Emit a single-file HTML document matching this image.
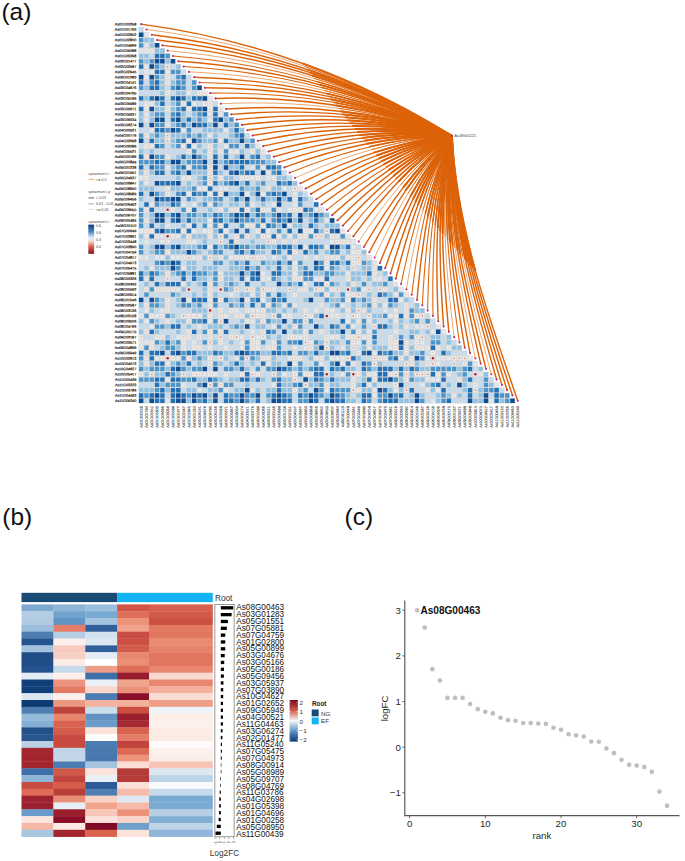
<!DOCTYPE html>
<html><head><meta charset="utf-8"><style>
html,body{margin:0;padding:0;background:#fff;}
body{width:685px;height:861px;overflow:hidden;position:relative;font-family:"Liberation Sans",sans-serif;}
svg{position:absolute;left:0;display:block;}
svg.pa{top:0;}
svg.pb{top:440px;}
.tl{font-size:3.7px;fill:#3a3a3a;}
.tlc{font-size:37px;fill:#444;}
.tlx{font-size:37px;fill:#333;stroke:#333;stroke-width:0.8px;}
.tlb{font-size:37px;fill:#111;stroke:#111;stroke-width:1.8px;}
.lab{font-size:24.5px;fill:#111;}
.t8{font-size:8.3px;fill:#333;}
.t6{font-size:6.2px;fill:#333;}
.t6b{font-size:6.4px;fill:#222;font-weight:bold;}
.t9b{font-size:10.1px;fill:#111;font-weight:bold;}
.tc{font-size:9.7px;fill:#2a2a2a;}
.gl{font-size:8.2px;fill:#111;}
</style></head><body>
<svg class="pa" width="685" height="440" viewBox="0 0 685 440">
<path d="M138.50 26.80h5.30v5.30h-5.30zM138.50 32.11h10.61v5.30h-10.61zM138.50 37.41h15.91v5.30h-15.91zM138.50 42.72h21.22v5.30h-21.22zM138.50 48.02h26.52v5.30h-26.52zM138.50 53.33h31.83v5.30h-31.83zM138.50 58.63h37.13v5.30h-37.13zM138.50 63.94h42.44v5.30h-42.44zM138.50 69.25h47.74v5.30h-47.74zM138.50 74.55h53.05v5.30h-53.05zM138.50 79.85h58.35v5.30h-58.35zM138.50 85.16h63.66v5.30h-63.66zM138.50 90.47h68.97v5.30h-68.97zM138.50 95.77h74.27v5.30h-74.27zM138.50 101.07h79.57v5.30h-79.57zM138.50 106.38h84.88v5.30h-84.88zM138.50 111.69h90.19v5.30h-90.19zM138.50 116.99h95.49v5.30h-95.49zM138.50 122.29h100.79v5.30h-100.79zM138.50 127.60h106.10v5.30h-106.10zM138.50 132.91h111.41v5.30h-111.41zM138.50 138.21h116.71v5.30h-116.71zM138.50 143.51h122.01v5.30h-122.01zM138.50 148.82h127.32v5.30h-127.32zM138.50 154.12h132.62v5.30h-132.62zM138.50 159.43h137.93v5.30h-137.93zM138.50 164.73h143.23v5.30h-143.23zM138.50 170.04h148.54v5.30h-148.54zM138.50 175.34h153.84v5.30h-153.84zM138.50 180.65h159.15v5.30h-159.15zM138.50 185.95h164.45v5.30h-164.45zM138.50 191.26h169.76v5.30h-169.76zM138.50 196.56h175.06v5.30h-175.06zM138.50 201.87h180.37v5.30h-180.37zM138.50 207.17h185.67v5.30h-185.67zM138.50 212.48h190.98v5.30h-190.98zM138.50 217.78h196.28v5.30h-196.28zM138.50 223.09h201.59v5.30h-201.59zM138.50 228.39h206.89v5.30h-206.89zM138.50 233.70h212.20v5.30h-212.20zM138.50 239.00h217.50v5.30h-217.50zM138.50 244.31h222.81v5.30h-222.81zM138.50 249.61h228.11v5.30h-228.11zM138.50 254.92h233.42v5.30h-233.42zM138.50 260.23h238.72v5.30h-238.72zM138.50 265.53h244.03v5.30h-244.03zM138.50 270.83h249.33v5.30h-249.33zM138.50 276.14h254.64v5.30h-254.64zM138.50 281.44h259.94v5.30h-259.94zM138.50 286.75h265.25v5.30h-265.25zM138.50 292.06h270.56v5.30h-270.56zM138.50 297.36h275.86v5.30h-275.86zM138.50 302.66h281.16v5.30h-281.16zM138.50 307.97h286.47v5.30h-286.47zM138.50 313.27h291.77v5.30h-291.77zM138.50 318.58h297.08v5.30h-297.08zM138.50 323.88h302.38v5.30h-302.38zM138.50 329.19h307.69v5.30h-307.69zM138.50 334.50h313.00v5.30h-313.00zM138.50 339.80h318.30v5.30h-318.30zM138.50 345.10h323.60v5.30h-323.60zM138.50 350.41h328.91v5.30h-328.91zM138.50 355.71h334.21v5.30h-334.21zM138.50 361.02h339.52v5.30h-339.52zM138.50 366.32h344.82v5.30h-344.82zM138.50 371.63h350.13v5.30h-350.13zM138.50 376.94h355.44v5.30h-355.44zM138.50 382.24h360.74v5.30h-360.74zM138.50 387.54h366.04v5.30h-366.04zM138.50 392.85h371.35v5.30h-371.35zM138.50 398.15h376.65v5.30h-376.65z" fill="#d6d8da"/>
<path d="M139.10 27.41h4.10v4.10h-4.10zM149.71 53.93h4.10v4.10h-4.10zM170.93 64.54h4.10v4.10h-4.10zM139.10 69.85h4.10v4.10h-4.10zM181.54 69.85h4.10v4.10h-4.10zM170.93 75.15h4.10v4.10h-4.10zM186.85 75.15h4.10v4.10h-4.10zM144.41 80.46h4.10v4.10h-4.10zM186.85 80.46h4.10v4.10h-4.10zM165.63 85.76h4.10v4.10h-4.10zM186.85 85.76h4.10v4.10h-4.10zM139.10 91.07h4.10v4.10h-4.10zM144.41 91.07h4.10v4.10h-4.10zM149.71 91.07h4.10v4.10h-4.10zM155.02 91.07h4.10v4.10h-4.10zM170.93 91.07h4.10v4.10h-4.10zM192.15 91.07h4.10v4.10h-4.10zM165.63 96.37h4.10v4.10h-4.10zM139.10 101.68h4.10v4.10h-4.10zM165.63 101.68h4.10v4.10h-4.10zM197.46 101.68h4.10v4.10h-4.10zM213.37 101.68h4.10v4.10h-4.10zM165.63 112.29h4.10v4.10h-4.10zM186.85 112.29h4.10v4.10h-4.10zM165.63 117.59h4.10v4.10h-4.10zM144.41 122.90h4.10v4.10h-4.10zM218.68 122.90h4.10v4.10h-4.10zM139.10 128.20h4.10v4.10h-4.10zM144.41 128.20h4.10v4.10h-4.10zM192.15 128.20h4.10v4.10h-4.10zM197.46 128.20h4.10v4.10h-4.10zM218.68 133.51h4.10v4.10h-4.10zM223.98 133.51h4.10v4.10h-4.10zM245.20 133.51h4.10v4.10h-4.10zM144.41 138.81h4.10v4.10h-4.10zM139.10 144.12h4.10v4.10h-4.10zM165.63 144.12h4.10v4.10h-4.10zM202.76 144.12h4.10v4.10h-4.10zM218.68 144.12h4.10v4.10h-4.10zM239.90 144.12h4.10v4.10h-4.10zM144.41 149.42h4.10v4.10h-4.10zM155.02 149.42h4.10v4.10h-4.10zM160.32 149.42h4.10v4.10h-4.10zM165.63 149.42h4.10v4.10h-4.10zM170.93 149.42h4.10v4.10h-4.10zM176.24 149.42h4.10v4.10h-4.10zM181.54 149.42h4.10v4.10h-4.10zM197.46 149.42h4.10v4.10h-4.10zM245.20 149.42h4.10v4.10h-4.10zM170.93 154.73h4.10v4.10h-4.10zM218.68 154.73h4.10v4.10h-4.10zM229.29 154.73h4.10v4.10h-4.10zM245.20 154.73h4.10v4.10h-4.10zM261.12 154.73h4.10v4.10h-4.10zM208.07 160.03h4.10v4.10h-4.10zM144.41 165.34h4.10v4.10h-4.10zM218.68 165.34h4.10v4.10h-4.10zM245.20 165.34h4.10v4.10h-4.10zM165.63 170.64h4.10v4.10h-4.10zM223.98 170.64h4.10v4.10h-4.10zM255.81 170.64h4.10v4.10h-4.10zM282.34 170.64h4.10v4.10h-4.10zM149.71 175.95h4.10v4.10h-4.10zM155.02 175.95h4.10v4.10h-4.10zM160.32 175.95h4.10v4.10h-4.10zM165.63 175.95h4.10v4.10h-4.10zM170.93 175.95h4.10v4.10h-4.10zM192.15 175.95h4.10v4.10h-4.10zM234.59 175.95h4.10v4.10h-4.10zM261.12 175.95h4.10v4.10h-4.10zM287.64 175.95h4.10v4.10h-4.10zM149.71 181.25h4.10v4.10h-4.10zM181.54 181.25h4.10v4.10h-4.10zM192.15 181.25h4.10v4.10h-4.10zM250.51 181.25h4.10v4.10h-4.10zM266.42 181.25h4.10v4.10h-4.10zM271.73 181.25h4.10v4.10h-4.10zM155.02 186.56h4.10v4.10h-4.10zM160.32 186.56h4.10v4.10h-4.10zM213.37 186.56h4.10v4.10h-4.10zM229.29 186.56h4.10v4.10h-4.10zM234.59 186.56h4.10v4.10h-4.10zM261.12 186.56h4.10v4.10h-4.10zM287.64 186.56h4.10v4.10h-4.10zM144.41 191.86h4.10v4.10h-4.10zM170.93 191.86h4.10v4.10h-4.10zM287.64 191.86h4.10v4.10h-4.10zM303.56 191.86h4.10v4.10h-4.10zM144.41 197.17h4.10v4.10h-4.10zM149.71 197.17h4.10v4.10h-4.10zM181.54 197.17h4.10v4.10h-4.10zM197.46 197.17h4.10v4.10h-4.10zM223.98 197.17h4.10v4.10h-4.10zM250.51 197.17h4.10v4.10h-4.10zM308.86 197.17h4.10v4.10h-4.10zM139.10 202.47h4.10v4.10h-4.10zM186.85 202.47h4.10v4.10h-4.10zM223.98 202.47h4.10v4.10h-4.10zM239.90 202.47h4.10v4.10h-4.10zM255.81 202.47h4.10v4.10h-4.10zM266.42 202.47h4.10v4.10h-4.10zM282.34 202.47h4.10v4.10h-4.10zM287.64 202.47h4.10v4.10h-4.10zM303.56 202.47h4.10v4.10h-4.10zM308.86 202.47h4.10v4.10h-4.10zM155.02 207.78h4.10v4.10h-4.10zM160.32 207.78h4.10v4.10h-4.10zM176.24 207.78h4.10v4.10h-4.10zM197.46 207.78h4.10v4.10h-4.10zM202.76 207.78h4.10v4.10h-4.10zM213.37 207.78h4.10v4.10h-4.10zM282.34 207.78h4.10v4.10h-4.10zM144.41 213.08h4.10v4.10h-4.10zM292.95 213.08h4.10v4.10h-4.10zM165.63 218.39h4.10v4.10h-4.10zM266.42 218.39h4.10v4.10h-4.10zM303.56 218.39h4.10v4.10h-4.10zM144.41 223.69h4.10v4.10h-4.10zM155.02 223.69h4.10v4.10h-4.10zM170.93 223.69h4.10v4.10h-4.10zM176.24 223.69h4.10v4.10h-4.10zM197.46 223.69h4.10v4.10h-4.10zM229.29 223.69h4.10v4.10h-4.10zM234.59 223.69h4.10v4.10h-4.10zM303.56 223.69h4.10v4.10h-4.10zM319.47 223.69h4.10v4.10h-4.10zM197.46 229.00h4.10v4.10h-4.10zM239.90 229.00h4.10v4.10h-4.10zM250.51 229.00h4.10v4.10h-4.10zM271.73 229.00h4.10v4.10h-4.10zM282.34 229.00h4.10v4.10h-4.10zM292.95 229.00h4.10v4.10h-4.10zM229.29 234.30h4.10v4.10h-4.10zM250.51 234.30h4.10v4.10h-4.10zM139.10 239.61h4.10v4.10h-4.10zM149.71 239.61h4.10v4.10h-4.10zM155.02 239.61h4.10v4.10h-4.10zM170.93 239.61h4.10v4.10h-4.10zM176.24 239.61h4.10v4.10h-4.10zM181.54 239.61h4.10v4.10h-4.10zM197.46 239.61h4.10v4.10h-4.10zM208.07 239.61h4.10v4.10h-4.10zM213.37 239.61h4.10v4.10h-4.10zM223.98 239.61h4.10v4.10h-4.10zM239.90 239.61h4.10v4.10h-4.10zM245.20 239.61h4.10v4.10h-4.10zM255.81 239.61h4.10v4.10h-4.10zM261.12 239.61h4.10v4.10h-4.10zM277.03 239.61h4.10v4.10h-4.10zM287.64 239.61h4.10v4.10h-4.10zM298.25 239.61h4.10v4.10h-4.10zM303.56 239.61h4.10v4.10h-4.10zM308.86 239.61h4.10v4.10h-4.10zM314.17 239.61h4.10v4.10h-4.10zM319.47 239.61h4.10v4.10h-4.10zM324.78 239.61h4.10v4.10h-4.10zM144.41 244.91h4.10v4.10h-4.10zM356.61 244.91h4.10v4.10h-4.10zM144.41 250.22h4.10v4.10h-4.10zM202.76 250.22h4.10v4.10h-4.10zM223.98 250.22h4.10v4.10h-4.10zM229.29 250.22h4.10v4.10h-4.10zM266.42 250.22h4.10v4.10h-4.10zM282.34 250.22h4.10v4.10h-4.10zM298.25 250.22h4.10v4.10h-4.10zM319.47 250.22h4.10v4.10h-4.10zM340.69 250.22h4.10v4.10h-4.10zM149.71 255.52h4.10v4.10h-4.10zM213.37 255.52h4.10v4.10h-4.10zM266.42 255.52h4.10v4.10h-4.10zM277.03 255.52h4.10v4.10h-4.10zM292.95 255.52h4.10v4.10h-4.10zM298.25 255.52h4.10v4.10h-4.10zM308.86 255.52h4.10v4.10h-4.10zM319.47 255.52h4.10v4.10h-4.10zM361.91 255.52h4.10v4.10h-4.10zM139.10 260.83h4.10v4.10h-4.10zM144.41 260.83h4.10v4.10h-4.10zM149.71 260.83h4.10v4.10h-4.10zM181.54 260.83h4.10v4.10h-4.10zM197.46 260.83h4.10v4.10h-4.10zM202.76 260.83h4.10v4.10h-4.10zM208.07 260.83h4.10v4.10h-4.10zM223.98 260.83h4.10v4.10h-4.10zM250.51 260.83h4.10v4.10h-4.10zM255.81 260.83h4.10v4.10h-4.10zM303.56 260.83h4.10v4.10h-4.10zM308.86 260.83h4.10v4.10h-4.10zM139.10 266.13h4.10v4.10h-4.10zM197.46 266.13h4.10v4.10h-4.10zM218.68 266.13h4.10v4.10h-4.10zM223.98 266.13h4.10v4.10h-4.10zM261.12 266.13h4.10v4.10h-4.10zM271.73 266.13h4.10v4.10h-4.10zM282.34 266.13h4.10v4.10h-4.10zM308.86 266.13h4.10v4.10h-4.10zM340.69 266.13h4.10v4.10h-4.10zM356.61 266.13h4.10v4.10h-4.10zM266.42 271.44h4.10v4.10h-4.10zM377.83 271.44h4.10v4.10h-4.10zM155.02 276.74h4.10v4.10h-4.10zM160.32 276.74h4.10v4.10h-4.10zM170.93 276.74h4.10v4.10h-4.10zM176.24 276.74h4.10v4.10h-4.10zM186.85 276.74h4.10v4.10h-4.10zM208.07 276.74h4.10v4.10h-4.10zM234.59 276.74h4.10v4.10h-4.10zM282.34 276.74h4.10v4.10h-4.10zM330.08 276.74h4.10v4.10h-4.10zM335.39 276.74h4.10v4.10h-4.10zM340.69 276.74h4.10v4.10h-4.10zM361.91 276.74h4.10v4.10h-4.10zM383.13 276.74h4.10v4.10h-4.10zM139.10 282.05h4.10v4.10h-4.10zM149.71 282.05h4.10v4.10h-4.10zM192.15 282.05h4.10v4.10h-4.10zM218.68 282.05h4.10v4.10h-4.10zM239.90 282.05h4.10v4.10h-4.10zM250.51 282.05h4.10v4.10h-4.10zM255.81 282.05h4.10v4.10h-4.10zM266.42 282.05h4.10v4.10h-4.10zM271.73 282.05h4.10v4.10h-4.10zM308.86 282.05h4.10v4.10h-4.10zM340.69 282.05h4.10v4.10h-4.10zM356.61 282.05h4.10v4.10h-4.10zM367.22 282.05h4.10v4.10h-4.10zM388.44 282.05h4.10v4.10h-4.10zM139.10 287.35h4.10v4.10h-4.10zM192.15 287.35h4.10v4.10h-4.10zM197.46 287.35h4.10v4.10h-4.10zM213.37 287.35h4.10v4.10h-4.10zM239.90 287.35h4.10v4.10h-4.10zM277.03 287.35h4.10v4.10h-4.10zM282.34 287.35h4.10v4.10h-4.10zM292.95 287.35h4.10v4.10h-4.10zM340.69 287.35h4.10v4.10h-4.10zM372.52 287.35h4.10v4.10h-4.10zM388.44 287.35h4.10v4.10h-4.10zM139.10 292.66h4.10v4.10h-4.10zM149.71 292.66h4.10v4.10h-4.10zM155.02 292.66h4.10v4.10h-4.10zM160.32 292.66h4.10v4.10h-4.10zM165.63 292.66h4.10v4.10h-4.10zM181.54 292.66h4.10v4.10h-4.10zM186.85 292.66h4.10v4.10h-4.10zM197.46 292.66h4.10v4.10h-4.10zM218.68 292.66h4.10v4.10h-4.10zM223.98 292.66h4.10v4.10h-4.10zM234.59 292.66h4.10v4.10h-4.10zM271.73 292.66h4.10v4.10h-4.10zM287.64 292.66h4.10v4.10h-4.10zM298.25 292.66h4.10v4.10h-4.10zM303.56 292.66h4.10v4.10h-4.10zM308.86 292.66h4.10v4.10h-4.10zM335.39 292.66h4.10v4.10h-4.10zM361.91 292.66h4.10v4.10h-4.10zM372.52 292.66h4.10v4.10h-4.10zM144.41 297.96h4.10v4.10h-4.10zM170.93 297.96h4.10v4.10h-4.10zM287.64 297.96h4.10v4.10h-4.10zM292.95 297.96h4.10v4.10h-4.10zM298.25 297.96h4.10v4.10h-4.10zM314.17 297.96h4.10v4.10h-4.10zM319.47 297.96h4.10v4.10h-4.10zM377.83 297.96h4.10v4.10h-4.10zM383.13 297.96h4.10v4.10h-4.10zM409.66 297.96h4.10v4.10h-4.10zM170.93 303.27h4.10v4.10h-4.10zM202.76 303.27h4.10v4.10h-4.10zM218.68 303.27h4.10v4.10h-4.10zM223.98 303.27h4.10v4.10h-4.10zM245.20 303.27h4.10v4.10h-4.10zM255.81 303.27h4.10v4.10h-4.10zM298.25 303.27h4.10v4.10h-4.10zM303.56 303.27h4.10v4.10h-4.10zM308.86 303.27h4.10v4.10h-4.10zM314.17 303.27h4.10v4.10h-4.10zM324.78 303.27h4.10v4.10h-4.10zM346.00 303.27h4.10v4.10h-4.10zM356.61 303.27h4.10v4.10h-4.10zM399.05 303.27h4.10v4.10h-4.10zM409.66 303.27h4.10v4.10h-4.10zM139.10 308.57h4.10v4.10h-4.10zM155.02 308.57h4.10v4.10h-4.10zM170.93 308.57h4.10v4.10h-4.10zM176.24 308.57h4.10v4.10h-4.10zM181.54 308.57h4.10v4.10h-4.10zM186.85 308.57h4.10v4.10h-4.10zM213.37 308.57h4.10v4.10h-4.10zM223.98 308.57h4.10v4.10h-4.10zM239.90 308.57h4.10v4.10h-4.10zM277.03 308.57h4.10v4.10h-4.10zM287.64 308.57h4.10v4.10h-4.10zM298.25 308.57h4.10v4.10h-4.10zM308.86 308.57h4.10v4.10h-4.10zM319.47 308.57h4.10v4.10h-4.10zM335.39 308.57h4.10v4.10h-4.10zM372.52 308.57h4.10v4.10h-4.10zM377.83 308.57h4.10v4.10h-4.10zM388.44 308.57h4.10v4.10h-4.10zM399.05 308.57h4.10v4.10h-4.10zM176.24 313.88h4.10v4.10h-4.10zM213.37 313.88h4.10v4.10h-4.10zM229.29 313.88h4.10v4.10h-4.10zM266.42 313.88h4.10v4.10h-4.10zM292.95 313.88h4.10v4.10h-4.10zM298.25 313.88h4.10v4.10h-4.10zM340.69 313.88h4.10v4.10h-4.10zM361.91 313.88h4.10v4.10h-4.10zM425.57 313.88h4.10v4.10h-4.10zM160.32 319.18h4.10v4.10h-4.10zM170.93 319.18h4.10v4.10h-4.10zM229.29 319.18h4.10v4.10h-4.10zM234.59 319.18h4.10v4.10h-4.10zM287.64 319.18h4.10v4.10h-4.10zM314.17 319.18h4.10v4.10h-4.10zM319.47 319.18h4.10v4.10h-4.10zM324.78 319.18h4.10v4.10h-4.10zM330.08 319.18h4.10v4.10h-4.10zM335.39 319.18h4.10v4.10h-4.10zM377.83 319.18h4.10v4.10h-4.10zM383.13 319.18h4.10v4.10h-4.10zM404.35 319.18h4.10v4.10h-4.10zM420.27 319.18h4.10v4.10h-4.10zM430.88 319.18h4.10v4.10h-4.10zM139.10 324.49h4.10v4.10h-4.10zM144.41 324.49h4.10v4.10h-4.10zM181.54 324.49h4.10v4.10h-4.10zM192.15 324.49h4.10v4.10h-4.10zM202.76 324.49h4.10v4.10h-4.10zM223.98 324.49h4.10v4.10h-4.10zM250.51 324.49h4.10v4.10h-4.10zM266.42 324.49h4.10v4.10h-4.10zM282.34 324.49h4.10v4.10h-4.10zM303.56 324.49h4.10v4.10h-4.10zM308.86 324.49h4.10v4.10h-4.10zM324.78 324.49h4.10v4.10h-4.10zM340.69 324.49h4.10v4.10h-4.10zM356.61 324.49h4.10v4.10h-4.10zM367.22 324.49h4.10v4.10h-4.10zM393.74 324.49h4.10v4.10h-4.10zM409.66 324.49h4.10v4.10h-4.10zM430.88 324.49h4.10v4.10h-4.10zM160.32 329.79h4.10v4.10h-4.10zM165.63 329.79h4.10v4.10h-4.10zM170.93 329.79h4.10v4.10h-4.10zM181.54 329.79h4.10v4.10h-4.10zM197.46 329.79h4.10v4.10h-4.10zM229.29 329.79h4.10v4.10h-4.10zM234.59 329.79h4.10v4.10h-4.10zM245.20 329.79h4.10v4.10h-4.10zM255.81 329.79h4.10v4.10h-4.10zM277.03 329.79h4.10v4.10h-4.10zM287.64 329.79h4.10v4.10h-4.10zM314.17 329.79h4.10v4.10h-4.10zM324.78 329.79h4.10v4.10h-4.10zM346.00 329.79h4.10v4.10h-4.10zM377.83 329.79h4.10v4.10h-4.10zM383.13 329.79h4.10v4.10h-4.10zM388.44 329.79h4.10v4.10h-4.10zM399.05 329.79h4.10v4.10h-4.10zM404.35 329.79h4.10v4.10h-4.10zM420.27 329.79h4.10v4.10h-4.10zM144.41 335.10h4.10v4.10h-4.10zM149.71 335.10h4.10v4.10h-4.10zM170.93 335.10h4.10v4.10h-4.10zM192.15 335.10h4.10v4.10h-4.10zM202.76 335.10h4.10v4.10h-4.10zM213.37 335.10h4.10v4.10h-4.10zM223.98 335.10h4.10v4.10h-4.10zM245.20 335.10h4.10v4.10h-4.10zM271.73 335.10h4.10v4.10h-4.10zM282.34 335.10h4.10v4.10h-4.10zM308.86 335.10h4.10v4.10h-4.10zM314.17 335.10h4.10v4.10h-4.10zM319.47 335.10h4.10v4.10h-4.10zM377.83 335.10h4.10v4.10h-4.10zM383.13 335.10h4.10v4.10h-4.10zM393.74 335.10h4.10v4.10h-4.10zM404.35 335.10h4.10v4.10h-4.10zM425.57 335.10h4.10v4.10h-4.10zM441.49 335.10h4.10v4.10h-4.10zM186.85 340.40h4.10v4.10h-4.10zM197.46 340.40h4.10v4.10h-4.10zM223.98 340.40h4.10v4.10h-4.10zM234.59 340.40h4.10v4.10h-4.10zM266.42 340.40h4.10v4.10h-4.10zM282.34 340.40h4.10v4.10h-4.10zM340.69 340.40h4.10v4.10h-4.10zM377.83 340.40h4.10v4.10h-4.10zM383.13 340.40h4.10v4.10h-4.10zM409.66 340.40h4.10v4.10h-4.10zM425.57 340.40h4.10v4.10h-4.10zM441.49 340.40h4.10v4.10h-4.10zM452.10 340.40h4.10v4.10h-4.10zM155.02 345.71h4.10v4.10h-4.10zM186.85 345.71h4.10v4.10h-4.10zM202.76 345.71h4.10v4.10h-4.10zM213.37 345.71h4.10v4.10h-4.10zM218.68 345.71h4.10v4.10h-4.10zM229.29 345.71h4.10v4.10h-4.10zM234.59 345.71h4.10v4.10h-4.10zM261.12 345.71h4.10v4.10h-4.10zM282.34 345.71h4.10v4.10h-4.10zM287.64 345.71h4.10v4.10h-4.10zM298.25 345.71h4.10v4.10h-4.10zM335.39 345.71h4.10v4.10h-4.10zM356.61 345.71h4.10v4.10h-4.10zM441.49 345.71h4.10v4.10h-4.10zM144.41 351.01h4.10v4.10h-4.10zM165.63 351.01h4.10v4.10h-4.10zM292.95 351.01h4.10v4.10h-4.10zM351.30 351.01h4.10v4.10h-4.10zM425.57 351.01h4.10v4.10h-4.10zM436.18 351.01h4.10v4.10h-4.10zM452.10 351.01h4.10v4.10h-4.10zM457.40 351.01h4.10v4.10h-4.10zM462.71 351.01h4.10v4.10h-4.10zM213.37 356.32h4.10v4.10h-4.10zM229.29 356.32h4.10v4.10h-4.10zM277.03 356.32h4.10v4.10h-4.10zM282.34 356.32h4.10v4.10h-4.10zM303.56 356.32h4.10v4.10h-4.10zM361.91 356.32h4.10v4.10h-4.10zM367.22 356.32h4.10v4.10h-4.10zM192.15 361.62h4.10v4.10h-4.10zM202.76 361.62h4.10v4.10h-4.10zM223.98 361.62h4.10v4.10h-4.10zM245.20 361.62h4.10v4.10h-4.10zM255.81 361.62h4.10v4.10h-4.10zM282.34 361.62h4.10v4.10h-4.10zM303.56 361.62h4.10v4.10h-4.10zM308.86 361.62h4.10v4.10h-4.10zM324.78 361.62h4.10v4.10h-4.10zM356.61 361.62h4.10v4.10h-4.10zM383.13 361.62h4.10v4.10h-4.10zM388.44 361.62h4.10v4.10h-4.10zM393.74 361.62h4.10v4.10h-4.10zM399.05 361.62h4.10v4.10h-4.10zM420.27 361.62h4.10v4.10h-4.10zM441.49 361.62h4.10v4.10h-4.10zM446.79 361.62h4.10v4.10h-4.10zM457.40 361.62h4.10v4.10h-4.10zM208.07 366.93h4.10v4.10h-4.10zM218.68 366.93h4.10v4.10h-4.10zM250.51 366.93h4.10v4.10h-4.10zM261.12 366.93h4.10v4.10h-4.10zM324.78 366.93h4.10v4.10h-4.10zM356.61 366.93h4.10v4.10h-4.10zM473.32 366.93h4.10v4.10h-4.10zM186.85 372.23h4.10v4.10h-4.10zM218.68 372.23h4.10v4.10h-4.10zM229.29 372.23h4.10v4.10h-4.10zM234.59 372.23h4.10v4.10h-4.10zM261.12 372.23h4.10v4.10h-4.10zM266.42 372.23h4.10v4.10h-4.10zM287.64 372.23h4.10v4.10h-4.10zM335.39 372.23h4.10v4.10h-4.10zM452.10 372.23h4.10v4.10h-4.10zM468.01 372.23h4.10v4.10h-4.10zM223.98 377.54h4.10v4.10h-4.10zM266.42 377.54h4.10v4.10h-4.10zM298.25 377.54h4.10v4.10h-4.10zM356.61 377.54h4.10v4.10h-4.10zM446.79 377.54h4.10v4.10h-4.10zM452.10 377.54h4.10v4.10h-4.10zM473.32 377.54h4.10v4.10h-4.10zM478.62 377.54h4.10v4.10h-4.10zM489.23 377.54h4.10v4.10h-4.10zM139.10 382.84h4.10v4.10h-4.10zM144.41 382.84h4.10v4.10h-4.10zM149.71 382.84h4.10v4.10h-4.10zM186.85 382.84h4.10v4.10h-4.10zM192.15 382.84h4.10v4.10h-4.10zM234.59 382.84h4.10v4.10h-4.10zM239.90 382.84h4.10v4.10h-4.10zM250.51 382.84h4.10v4.10h-4.10zM255.81 382.84h4.10v4.10h-4.10zM261.12 382.84h4.10v4.10h-4.10zM266.42 382.84h4.10v4.10h-4.10zM340.69 382.84h4.10v4.10h-4.10zM346.00 382.84h4.10v4.10h-4.10zM377.83 382.84h4.10v4.10h-4.10zM383.13 382.84h4.10v4.10h-4.10zM388.44 382.84h4.10v4.10h-4.10zM404.35 382.84h4.10v4.10h-4.10zM409.66 382.84h4.10v4.10h-4.10zM414.96 382.84h4.10v4.10h-4.10zM441.49 382.84h4.10v4.10h-4.10zM452.10 382.84h4.10v4.10h-4.10zM468.01 382.84h4.10v4.10h-4.10zM478.62 382.84h4.10v4.10h-4.10zM181.54 388.15h4.10v4.10h-4.10zM202.76 388.15h4.10v4.10h-4.10zM229.29 388.15h4.10v4.10h-4.10zM261.12 388.15h4.10v4.10h-4.10zM308.86 388.15h4.10v4.10h-4.10zM414.96 388.15h4.10v4.10h-4.10zM420.27 388.15h4.10v4.10h-4.10zM446.79 388.15h4.10v4.10h-4.10zM452.10 388.15h4.10v4.10h-4.10zM457.40 388.15h4.10v4.10h-4.10zM499.84 388.15h4.10v4.10h-4.10zM165.63 393.45h4.10v4.10h-4.10zM218.68 393.45h4.10v4.10h-4.10zM261.12 393.45h4.10v4.10h-4.10zM292.95 393.45h4.10v4.10h-4.10zM351.30 393.45h4.10v4.10h-4.10zM404.35 393.45h4.10v4.10h-4.10zM425.57 393.45h4.10v4.10h-4.10zM430.88 393.45h4.10v4.10h-4.10zM462.71 393.45h4.10v4.10h-4.10zM473.32 393.45h4.10v4.10h-4.10zM489.23 393.45h4.10v4.10h-4.10zM144.41 398.76h4.10v4.10h-4.10zM218.68 398.76h4.10v4.10h-4.10zM261.12 398.76h4.10v4.10h-4.10zM292.95 398.76h4.10v4.10h-4.10zM319.47 398.76h4.10v4.10h-4.10zM356.61 398.76h4.10v4.10h-4.10zM372.52 398.76h4.10v4.10h-4.10zM425.57 398.76h4.10v4.10h-4.10zM452.10 398.76h4.10v4.10h-4.10zM457.40 398.76h4.10v4.10h-4.10zM462.71 398.76h4.10v4.10h-4.10z" fill="#c4dcef"/>
<path d="M138.90 32.51h4.50v4.50h-4.50zM154.82 43.12h4.50v4.50h-4.50zM154.82 59.04h4.50v4.50h-4.50zM160.12 59.04h4.50v4.50h-4.50zM170.73 59.04h4.50v4.50h-4.50zM149.51 64.34h4.50v4.50h-4.50zM138.90 74.95h4.50v4.50h-4.50zM149.51 74.95h4.50v4.50h-4.50zM197.26 85.56h4.50v4.50h-4.50zM154.82 96.17h4.50v4.50h-4.50zM176.04 96.17h4.50v4.50h-4.50zM202.56 96.17h4.50v4.50h-4.50zM149.51 106.78h4.50v4.50h-4.50zM202.56 106.78h4.50v4.50h-4.50zM154.82 117.39h4.50v4.50h-4.50zM160.12 117.39h4.50v4.50h-4.50zM176.04 117.39h4.50v4.50h-4.50zM218.48 117.39h4.50v4.50h-4.50zM138.90 122.70h4.50v4.50h-4.50zM149.51 122.70h4.50v4.50h-4.50zM191.95 122.70h4.50v4.50h-4.50zM213.17 122.70h4.50v4.50h-4.50zM170.73 128.00h4.50v4.50h-4.50zM138.90 138.61h4.50v4.50h-4.50zM191.95 138.61h4.50v4.50h-4.50zM239.70 138.61h4.50v4.50h-4.50zM149.51 154.53h4.50v4.50h-4.50zM191.95 154.53h4.50v4.50h-4.50zM239.70 154.53h4.50v4.50h-4.50zM170.73 159.83h4.50v4.50h-4.50zM176.04 159.83h4.50v4.50h-4.50zM202.56 159.83h4.50v4.50h-4.50zM213.17 159.83h4.50v4.50h-4.50zM213.17 165.14h4.50v4.50h-4.50zM223.78 165.14h4.50v4.50h-4.50zM186.65 170.44h4.50v4.50h-4.50zM234.39 170.44h4.50v4.50h-4.50zM260.92 170.44h4.50v4.50h-4.50zM154.82 181.05h4.50v4.50h-4.50zM176.04 181.05h4.50v4.50h-4.50zM234.39 181.05h4.50v4.50h-4.50zM149.51 191.66h4.50v4.50h-4.50zM223.78 191.66h4.50v4.50h-4.50zM239.70 191.66h4.50v4.50h-4.50zM255.61 191.66h4.50v4.50h-4.50zM282.14 191.66h4.50v4.50h-4.50zM154.82 196.97h4.50v4.50h-4.50zM170.73 196.97h4.50v4.50h-4.50zM176.04 196.97h4.50v4.50h-4.50zM245.00 196.97h4.50v4.50h-4.50zM276.83 196.97h4.50v4.50h-4.50zM276.83 202.27h4.50v4.50h-4.50zM154.82 212.88h4.50v4.50h-4.50zM160.12 212.88h4.50v4.50h-4.50zM176.04 212.88h4.50v4.50h-4.50zM234.39 212.88h4.50v4.50h-4.50zM245.00 212.88h4.50v4.50h-4.50zM276.83 212.88h4.50v4.50h-4.50zM298.05 212.88h4.50v4.50h-4.50zM313.97 212.88h4.50v4.50h-4.50zM154.82 218.19h4.50v4.50h-4.50zM160.12 218.19h4.50v4.50h-4.50zM176.04 218.19h4.50v4.50h-4.50zM234.39 218.19h4.50v4.50h-4.50zM287.44 218.19h4.50v4.50h-4.50zM298.05 218.19h4.50v4.50h-4.50zM329.88 218.19h4.50v4.50h-4.50zM282.14 223.49h4.50v4.50h-4.50zM160.12 228.80h4.50v4.50h-4.50zM234.39 228.80h4.50v4.50h-4.50zM298.05 228.80h4.50v4.50h-4.50zM335.19 228.80h4.50v4.50h-4.50zM154.82 244.71h4.50v4.50h-4.50zM160.12 244.71h4.50v4.50h-4.50zM176.04 244.71h4.50v4.50h-4.50zM234.39 244.71h4.50v4.50h-4.50zM298.05 244.71h4.50v4.50h-4.50zM329.88 244.71h4.50v4.50h-4.50zM335.19 244.71h4.50v4.50h-4.50zM186.65 250.02h4.50v4.50h-4.50zM170.73 260.63h4.50v4.50h-4.50zM313.97 260.63h4.50v4.50h-4.50zM170.73 265.93h4.50v4.50h-4.50zM239.70 271.24h4.50v4.50h-4.50zM255.61 271.24h4.50v4.50h-4.50zM276.83 281.85h4.50v4.50h-4.50zM138.90 297.76h4.50v4.50h-4.50zM149.51 297.76h4.50v4.50h-4.50zM181.34 297.76h4.50v4.50h-4.50zM239.70 297.76h4.50v4.50h-4.50zM308.66 297.76h4.50v4.50h-4.50zM223.78 318.98h4.50v4.50h-4.50zM282.14 318.98h4.50v4.50h-4.50zM245.00 324.29h4.50v4.50h-4.50zM313.97 324.29h4.50v4.50h-4.50zM282.14 329.59h4.50v4.50h-4.50zM340.49 329.59h4.50v4.50h-4.50zM435.98 329.59h4.50v4.50h-4.50zM398.85 340.20h4.50v4.50h-4.50zM319.27 345.51h4.50v4.50h-4.50zM160.12 350.81h4.50v4.50h-4.50zM176.04 350.81h4.50v4.50h-4.50zM239.70 350.81h4.50v4.50h-4.50zM329.88 350.81h4.50v4.50h-4.50zM335.19 350.81h4.50v4.50h-4.50zM367.02 350.81h4.50v4.50h-4.50zM414.76 356.12h4.50v4.50h-4.50zM287.44 361.42h4.50v4.50h-4.50zM335.19 361.42h4.50v4.50h-4.50zM176.04 366.73h4.50v4.50h-4.50zM202.56 366.73h4.50v4.50h-4.50zM213.17 366.73h4.50v4.50h-4.50zM276.83 366.73h4.50v4.50h-4.50zM303.36 377.34h4.50v4.50h-4.50zM388.24 377.34h4.50v4.50h-4.50zM202.56 382.64h4.50v4.50h-4.50zM398.85 382.64h4.50v4.50h-4.50zM457.20 382.64h4.50v4.50h-4.50zM245.00 387.95h4.50v4.50h-4.50zM313.97 387.95h4.50v4.50h-4.50zM377.63 387.95h4.50v4.50h-4.50zM154.82 393.25h4.50v4.50h-4.50zM176.04 393.25h4.50v4.50h-4.50zM191.95 393.25h4.50v4.50h-4.50zM202.56 393.25h4.50v4.50h-4.50zM213.17 393.25h4.50v4.50h-4.50zM239.70 393.25h4.50v4.50h-4.50zM255.61 393.25h4.50v4.50h-4.50zM276.83 393.25h4.50v4.50h-4.50zM308.66 393.25h4.50v4.50h-4.50zM329.88 393.25h4.50v4.50h-4.50zM388.24 393.25h4.50v4.50h-4.50zM414.76 393.25h4.50v4.50h-4.50zM483.73 393.25h4.50v4.50h-4.50zM138.90 398.56h4.50v4.50h-4.50zM149.51 398.56h4.50v4.50h-4.50zM176.04 398.56h4.50v4.50h-4.50zM181.34 398.56h4.50v4.50h-4.50zM191.95 398.56h4.50v4.50h-4.50zM213.17 398.56h4.50v4.50h-4.50zM239.70 398.56h4.50v4.50h-4.50zM271.53 398.56h4.50v4.50h-4.50zM276.83 398.56h4.50v4.50h-4.50zM308.66 398.56h4.50v4.50h-4.50zM329.88 398.56h4.50v4.50h-4.50zM414.76 398.56h4.50v4.50h-4.50zM467.81 398.56h4.50v4.50h-4.50zM483.73 398.56h4.50v4.50h-4.50zM510.25 398.56h4.50v4.50h-4.50z" fill="#0e4c93"/>
<path d="M144.46 32.76h4.00v4.00h-4.00zM144.46 43.37h4.00v4.00h-4.00zM144.46 64.59h4.00v4.00h-4.00zM144.46 69.90h4.00v4.00h-4.00zM149.76 69.90h4.00v4.00h-4.00zM165.68 69.90h4.00v4.00h-4.00zM144.46 75.20h4.00v4.00h-4.00zM186.90 91.12h4.00v4.00h-4.00zM208.12 96.42h4.00v4.00h-4.00zM149.76 101.73h4.00v4.00h-4.00zM192.20 101.73h4.00v4.00h-4.00zM144.46 107.03h4.00v4.00h-4.00zM144.46 112.34h4.00v4.00h-4.00zM208.12 112.34h4.00v4.00h-4.00zM218.73 112.34h4.00v4.00h-4.00zM144.46 117.64h4.00v4.00h-4.00zM208.12 117.64h4.00v4.00h-4.00zM149.76 128.25h4.00v4.00h-4.00zM181.59 128.25h4.00v4.00h-4.00zM224.03 128.25h4.00v4.00h-4.00zM208.12 133.56h4.00v4.00h-4.00zM186.90 138.86h4.00v4.00h-4.00zM218.73 138.86h4.00v4.00h-4.00zM149.76 144.17h4.00v4.00h-4.00zM181.59 144.17h4.00v4.00h-4.00zM192.20 144.17h4.00v4.00h-4.00zM224.03 144.17h4.00v4.00h-4.00zM255.86 144.17h4.00v4.00h-4.00zM229.34 149.47h4.00v4.00h-4.00zM234.64 149.47h4.00v4.00h-4.00zM208.12 154.78h4.00v4.00h-4.00zM165.68 165.39h4.00v4.00h-4.00zM186.90 165.39h4.00v4.00h-4.00zM250.56 165.39h4.00v4.00h-4.00zM261.17 165.39h4.00v4.00h-4.00zM266.47 170.69h4.00v4.00h-4.00zM139.15 176.00h4.00v4.00h-4.00zM181.59 176.00h4.00v4.00h-4.00zM239.95 176.00h4.00v4.00h-4.00zM250.56 176.00h4.00v4.00h-4.00zM266.47 176.00h4.00v4.00h-4.00zM271.78 176.00h4.00v4.00h-4.00zM144.46 181.30h4.00v4.00h-4.00zM197.51 186.61h4.00v4.00h-4.00zM202.81 186.61h4.00v4.00h-4.00zM218.73 186.61h4.00v4.00h-4.00zM224.03 186.61h4.00v4.00h-4.00zM282.39 186.61h4.00v4.00h-4.00zM186.90 191.91h4.00v4.00h-4.00zM208.12 191.91h4.00v4.00h-4.00zM245.25 191.91h4.00v4.00h-4.00zM261.17 191.91h4.00v4.00h-4.00zM293.00 191.91h4.00v4.00h-4.00zM293.00 197.22h4.00v4.00h-4.00zM149.76 202.52h4.00v4.00h-4.00zM181.59 202.52h4.00v4.00h-4.00zM192.20 202.52h4.00v4.00h-4.00zM208.12 202.52h4.00v4.00h-4.00zM250.56 202.52h4.00v4.00h-4.00zM271.78 202.52h4.00v4.00h-4.00zM293.00 202.52h4.00v4.00h-4.00zM229.34 207.83h4.00v4.00h-4.00zM266.47 207.83h4.00v4.00h-4.00zM277.08 207.83h4.00v4.00h-4.00zM287.69 207.83h4.00v4.00h-4.00zM314.22 207.83h4.00v4.00h-4.00zM208.12 218.44h4.00v4.00h-4.00zM324.83 218.44h4.00v4.00h-4.00zM165.68 223.74h4.00v4.00h-4.00zM208.12 223.74h4.00v4.00h-4.00zM245.25 223.74h4.00v4.00h-4.00zM287.69 223.74h4.00v4.00h-4.00zM139.15 229.05h4.00v4.00h-4.00zM192.20 229.05h4.00v4.00h-4.00zM202.81 229.05h4.00v4.00h-4.00zM266.47 229.05h4.00v4.00h-4.00zM308.91 229.05h4.00v4.00h-4.00zM144.46 234.35h4.00v4.00h-4.00zM160.37 234.35h4.00v4.00h-4.00zM176.29 234.35h4.00v4.00h-4.00zM266.47 234.35h4.00v4.00h-4.00zM277.08 234.35h4.00v4.00h-4.00zM287.69 234.35h4.00v4.00h-4.00zM335.44 234.35h4.00v4.00h-4.00zM144.46 239.66h4.00v4.00h-4.00zM160.37 239.66h4.00v4.00h-4.00zM192.20 239.66h4.00v4.00h-4.00zM330.13 239.66h4.00v4.00h-4.00zM351.35 239.66h4.00v4.00h-4.00zM208.12 244.96h4.00v4.00h-4.00zM303.61 244.96h4.00v4.00h-4.00zM324.83 244.96h4.00v4.00h-4.00zM351.35 244.96h4.00v4.00h-4.00zM351.35 250.27h4.00v4.00h-4.00zM144.46 255.57h4.00v4.00h-4.00zM155.07 255.57h4.00v4.00h-4.00zM160.37 255.57h4.00v4.00h-4.00zM170.98 255.57h4.00v4.00h-4.00zM176.29 255.57h4.00v4.00h-4.00zM192.20 255.57h4.00v4.00h-4.00zM229.34 255.57h4.00v4.00h-4.00zM245.25 255.57h4.00v4.00h-4.00zM271.78 255.57h4.00v4.00h-4.00zM303.61 255.57h4.00v4.00h-4.00zM314.22 255.57h4.00v4.00h-4.00zM330.13 255.57h4.00v4.00h-4.00zM293.00 260.88h4.00v4.00h-4.00zM372.57 260.88h4.00v4.00h-4.00zM149.76 266.18h4.00v4.00h-4.00zM181.59 266.18h4.00v4.00h-4.00zM324.83 266.18h4.00v4.00h-4.00zM218.73 271.49h4.00v4.00h-4.00zM261.17 271.49h4.00v4.00h-4.00zM293.00 271.49h4.00v4.00h-4.00zM346.05 271.49h4.00v4.00h-4.00zM144.46 276.79h4.00v4.00h-4.00zM245.25 276.79h4.00v4.00h-4.00zM261.17 276.79h4.00v4.00h-4.00zM266.47 276.79h4.00v4.00h-4.00zM314.22 276.79h4.00v4.00h-4.00zM319.52 276.79h4.00v4.00h-4.00zM372.57 276.79h4.00v4.00h-4.00zM377.88 276.79h4.00v4.00h-4.00zM181.59 282.10h4.00v4.00h-4.00zM303.61 282.10h4.00v4.00h-4.00zM176.29 287.40h4.00v4.00h-4.00zM271.78 287.40h4.00v4.00h-4.00zM361.96 287.40h4.00v4.00h-4.00zM399.10 287.40h4.00v4.00h-4.00zM229.34 292.71h4.00v4.00h-4.00zM250.56 292.71h4.00v4.00h-4.00zM346.05 292.71h4.00v4.00h-4.00zM393.79 292.71h4.00v4.00h-4.00zM186.90 298.01h4.00v4.00h-4.00zM208.12 298.01h4.00v4.00h-4.00zM261.17 298.01h4.00v4.00h-4.00zM399.10 298.01h4.00v4.00h-4.00zM208.12 303.32h4.00v4.00h-4.00zM282.39 303.32h4.00v4.00h-4.00zM293.00 303.32h4.00v4.00h-4.00zM319.52 303.32h4.00v4.00h-4.00zM340.74 303.32h4.00v4.00h-4.00zM383.18 303.32h4.00v4.00h-4.00zM144.46 308.62h4.00v4.00h-4.00zM160.37 308.62h4.00v4.00h-4.00zM234.64 308.62h4.00v4.00h-4.00zM250.56 308.62h4.00v4.00h-4.00zM255.86 308.62h4.00v4.00h-4.00zM314.22 308.62h4.00v4.00h-4.00zM330.13 308.62h4.00v4.00h-4.00zM361.96 308.62h4.00v4.00h-4.00zM383.18 308.62h4.00v4.00h-4.00zM393.79 308.62h4.00v4.00h-4.00zM155.07 313.93h4.00v4.00h-4.00zM197.51 313.93h4.00v4.00h-4.00zM224.03 313.93h4.00v4.00h-4.00zM282.39 313.93h4.00v4.00h-4.00zM330.13 313.93h4.00v4.00h-4.00zM346.05 313.93h4.00v4.00h-4.00zM393.79 313.93h4.00v4.00h-4.00zM144.46 319.23h4.00v4.00h-4.00zM165.68 319.23h4.00v4.00h-4.00zM208.12 319.23h4.00v4.00h-4.00zM245.25 319.23h4.00v4.00h-4.00zM250.56 319.23h4.00v4.00h-4.00zM346.05 319.23h4.00v4.00h-4.00zM367.27 319.23h4.00v4.00h-4.00zM393.79 319.23h4.00v4.00h-4.00zM149.76 324.54h4.00v4.00h-4.00zM197.51 324.54h4.00v4.00h-4.00zM271.78 324.54h4.00v4.00h-4.00zM351.35 324.54h4.00v4.00h-4.00zM415.01 324.54h4.00v4.00h-4.00zM420.32 324.54h4.00v4.00h-4.00zM250.56 329.84h4.00v4.00h-4.00zM367.27 329.84h4.00v4.00h-4.00zM393.79 329.84h4.00v4.00h-4.00zM430.93 329.84h4.00v4.00h-4.00zM441.54 329.84h4.00v4.00h-4.00zM176.29 335.15h4.00v4.00h-4.00zM239.95 335.15h4.00v4.00h-4.00zM255.86 335.15h4.00v4.00h-4.00zM298.30 335.15h4.00v4.00h-4.00zM330.13 335.15h4.00v4.00h-4.00zM361.96 335.15h4.00v4.00h-4.00zM144.46 340.45h4.00v4.00h-4.00zM192.20 340.45h4.00v4.00h-4.00zM239.95 340.45h4.00v4.00h-4.00zM271.78 340.45h4.00v4.00h-4.00zM308.91 340.45h4.00v4.00h-4.00zM356.66 340.45h4.00v4.00h-4.00zM420.32 340.45h4.00v4.00h-4.00zM197.51 345.76h4.00v4.00h-4.00zM208.12 345.76h4.00v4.00h-4.00zM224.03 345.76h4.00v4.00h-4.00zM239.95 345.76h4.00v4.00h-4.00zM293.00 345.76h4.00v4.00h-4.00zM303.61 345.76h4.00v4.00h-4.00zM340.74 345.76h4.00v4.00h-4.00zM367.27 345.76h4.00v4.00h-4.00zM388.49 345.76h4.00v4.00h-4.00zM372.57 351.06h4.00v4.00h-4.00zM155.07 356.37h4.00v4.00h-4.00zM176.29 356.37h4.00v4.00h-4.00zM234.64 356.37h4.00v4.00h-4.00zM287.69 356.37h4.00v4.00h-4.00zM330.13 356.37h4.00v4.00h-4.00zM335.44 356.37h4.00v4.00h-4.00zM340.74 356.37h4.00v4.00h-4.00zM425.62 356.37h4.00v4.00h-4.00zM436.23 356.37h4.00v4.00h-4.00zM446.84 356.37h4.00v4.00h-4.00zM468.06 356.37h4.00v4.00h-4.00zM165.68 361.67h4.00v4.00h-4.00zM266.47 361.67h4.00v4.00h-4.00zM293.00 361.67h4.00v4.00h-4.00zM319.52 361.67h4.00v4.00h-4.00zM340.74 361.67h4.00v4.00h-4.00zM436.23 361.67h4.00v4.00h-4.00zM473.37 361.67h4.00v4.00h-4.00zM202.81 372.28h4.00v4.00h-4.00zM213.42 372.28h4.00v4.00h-4.00zM282.39 372.28h4.00v4.00h-4.00zM340.74 372.28h4.00v4.00h-4.00zM372.57 372.28h4.00v4.00h-4.00zM478.67 372.28h4.00v4.00h-4.00zM165.68 377.59h4.00v4.00h-4.00zM425.62 377.59h4.00v4.00h-4.00zM430.93 377.59h4.00v4.00h-4.00zM436.23 377.59h4.00v4.00h-4.00zM181.59 382.89h4.00v4.00h-4.00zM271.78 382.89h4.00v4.00h-4.00zM367.27 382.89h4.00v4.00h-4.00zM420.32 382.89h4.00v4.00h-4.00zM494.59 382.89h4.00v4.00h-4.00zM197.51 388.20h4.00v4.00h-4.00zM224.03 388.20h4.00v4.00h-4.00zM250.56 388.20h4.00v4.00h-4.00zM324.83 388.20h4.00v4.00h-4.00zM372.57 388.20h4.00v4.00h-4.00zM393.79 388.20h4.00v4.00h-4.00zM425.62 388.20h4.00v4.00h-4.00zM436.23 388.20h4.00v4.00h-4.00zM372.57 393.50h4.00v4.00h-4.00zM452.15 393.50h4.00v4.00h-4.00zM165.68 398.81h4.00v4.00h-4.00zM430.93 398.81h4.00v4.00h-4.00zM489.28 398.81h4.00v4.00h-4.00z" fill="#e3e8ed"/>
<path d="M139.00 37.92h4.30v4.30h-4.30zM139.00 43.22h4.30v4.30h-4.30zM165.53 53.83h4.30v4.30h-4.30zM139.00 59.14h4.30v4.30h-4.30zM149.61 59.14h4.30v4.30h-4.30zM154.92 64.44h4.30v4.30h-4.30zM170.83 69.75h4.30v4.30h-4.30zM176.14 69.75h4.30v4.30h-4.30zM154.92 75.05h4.30v4.30h-4.30zM176.14 75.05h4.30v4.30h-4.30zM149.61 80.36h4.30v4.30h-4.30zM176.14 80.36h4.30v4.30h-4.30zM181.44 80.36h4.30v4.30h-4.30zM192.05 80.36h4.30v4.30h-4.30zM139.00 85.66h4.30v4.30h-4.30zM170.83 85.66h4.30v4.30h-4.30zM181.44 85.66h4.30v4.30h-4.30zM192.05 85.66h4.30v4.30h-4.30zM176.14 101.58h4.30v4.30h-4.30zM176.14 106.88h4.30v4.30h-4.30zM154.92 112.19h4.30v4.30h-4.30zM160.22 112.19h4.30v4.30h-4.30zM170.83 112.19h4.30v4.30h-4.30zM197.36 112.19h4.30v4.30h-4.30zM223.88 112.19h4.30v4.30h-4.30zM197.36 117.49h4.30v4.30h-4.30zM229.19 117.49h4.30v4.30h-4.30zM154.92 122.80h4.30v4.30h-4.30zM160.22 122.80h4.30v4.30h-4.30zM176.14 122.80h4.30v4.30h-4.30zM234.49 122.80h4.30v4.30h-4.30zM165.53 128.10h4.30v4.30h-4.30zM186.75 128.10h4.30v4.30h-4.30zM139.00 133.41h4.30v4.30h-4.30zM154.92 133.41h4.30v4.30h-4.30zM186.75 133.41h4.30v4.30h-4.30zM197.36 133.41h4.30v4.30h-4.30zM234.49 133.41h4.30v4.30h-4.30zM176.14 138.71h4.30v4.30h-4.30zM197.36 138.71h4.30v4.30h-4.30zM213.27 138.71h4.30v4.30h-4.30zM250.41 138.71h4.30v4.30h-4.30zM160.22 144.02h4.30v4.30h-4.30zM176.14 144.02h4.30v4.30h-4.30zM229.19 144.02h4.30v4.30h-4.30zM234.49 144.02h4.30v4.30h-4.30zM192.05 149.32h4.30v4.30h-4.30zM223.88 149.32h4.30v4.30h-4.30zM154.92 154.63h4.30v4.30h-4.30zM160.22 154.63h4.30v4.30h-4.30zM197.36 154.63h4.30v4.30h-4.30zM250.41 154.63h4.30v4.30h-4.30zM139.00 159.93h4.30v4.30h-4.30zM144.31 159.93h4.30v4.30h-4.30zM149.61 159.93h4.30v4.30h-4.30zM186.75 159.93h4.30v4.30h-4.30zM192.05 159.93h4.30v4.30h-4.30zM197.36 159.93h4.30v4.30h-4.30zM223.88 159.93h4.30v4.30h-4.30zM250.41 159.93h4.30v4.30h-4.30zM255.71 159.93h4.30v4.30h-4.30zM261.02 159.93h4.30v4.30h-4.30zM154.92 165.24h4.30v4.30h-4.30zM160.22 165.24h4.30v4.30h-4.30zM176.14 165.24h4.30v4.30h-4.30zM192.05 165.24h4.30v4.30h-4.30zM197.36 165.24h4.30v4.30h-4.30zM255.71 165.24h4.30v4.30h-4.30zM276.93 165.24h4.30v4.30h-4.30zM170.83 170.54h4.30v4.30h-4.30zM239.80 170.54h4.30v4.30h-4.30zM271.63 170.54h4.30v4.30h-4.30zM202.66 175.85h4.30v4.30h-4.30zM202.66 181.15h4.30v4.30h-4.30zM223.88 181.15h4.30v4.30h-4.30zM261.02 181.15h4.30v4.30h-4.30zM282.24 181.15h4.30v4.30h-4.30zM192.05 186.46h4.30v4.30h-4.30zM239.80 186.46h4.30v4.30h-4.30zM255.71 186.46h4.30v4.30h-4.30zM154.92 191.76h4.30v4.30h-4.30zM176.14 191.76h4.30v4.30h-4.30zM197.36 191.76h4.30v4.30h-4.30zM266.32 191.76h4.30v4.30h-4.30zM276.93 191.76h4.30v4.30h-4.30zM186.75 197.07h4.30v4.30h-4.30zM213.27 197.07h4.30v4.30h-4.30zM218.58 197.07h4.30v4.30h-4.30zM154.92 202.37h4.30v4.30h-4.30zM176.14 202.37h4.30v4.30h-4.30zM202.66 202.37h4.30v4.30h-4.30zM213.27 202.37h4.30v4.30h-4.30zM245.10 202.37h4.30v4.30h-4.30zM298.15 202.37h4.30v4.30h-4.30zM139.00 207.68h4.30v4.30h-4.30zM181.44 207.68h4.30v4.30h-4.30zM271.63 207.68h4.30v4.30h-4.30zM308.76 207.68h4.30v4.30h-4.30zM139.00 212.98h4.30v4.30h-4.30zM186.75 212.98h4.30v4.30h-4.30zM192.05 212.98h4.30v4.30h-4.30zM202.66 212.98h4.30v4.30h-4.30zM218.58 212.98h4.30v4.30h-4.30zM229.19 212.98h4.30v4.30h-4.30zM261.02 212.98h4.30v4.30h-4.30zM271.63 212.98h4.30v4.30h-4.30zM282.24 212.98h4.30v4.30h-4.30zM308.76 212.98h4.30v4.30h-4.30zM319.37 212.98h4.30v4.30h-4.30zM139.00 218.29h4.30v4.30h-4.30zM229.19 218.29h4.30v4.30h-4.30zM239.80 218.29h4.30v4.30h-4.30zM245.10 218.29h4.30v4.30h-4.30zM250.41 218.29h4.30v4.30h-4.30zM271.63 218.29h4.30v4.30h-4.30zM282.24 218.29h4.30v4.30h-4.30zM139.00 223.59h4.30v4.30h-4.30zM202.66 223.59h4.30v4.30h-4.30zM213.27 223.59h4.30v4.30h-4.30zM239.80 223.59h4.30v4.30h-4.30zM255.71 223.59h4.30v4.30h-4.30zM271.63 223.59h4.30v4.30h-4.30zM165.53 228.90h4.30v4.30h-4.30zM170.83 228.90h4.30v4.30h-4.30zM276.93 228.90h4.30v4.30h-4.30zM223.88 234.20h4.30v4.30h-4.30zM239.80 234.20h4.30v4.30h-4.30zM308.76 234.20h4.30v4.30h-4.30zM340.59 234.20h4.30v4.30h-4.30zM139.00 244.81h4.30v4.30h-4.30zM197.36 244.81h4.30v4.30h-4.30zM223.88 244.81h4.30v4.30h-4.30zM239.80 244.81h4.30v4.30h-4.30zM245.10 244.81h4.30v4.30h-4.30zM255.71 244.81h4.30v4.30h-4.30zM261.02 244.81h4.30v4.30h-4.30zM319.37 244.81h4.30v4.30h-4.30zM139.00 250.12h4.30v4.30h-4.30zM154.92 250.12h4.30v4.30h-4.30zM160.22 250.12h4.30v4.30h-4.30zM192.05 250.12h4.30v4.30h-4.30zM213.27 250.12h4.30v4.30h-4.30zM218.58 250.12h4.30v4.30h-4.30zM234.49 250.12h4.30v4.30h-4.30zM276.93 250.12h4.30v4.30h-4.30zM314.07 250.12h4.30v4.30h-4.30zM329.98 250.12h4.30v4.30h-4.30zM335.29 250.12h4.30v4.30h-4.30zM154.92 260.73h4.30v4.30h-4.30zM165.53 260.73h4.30v4.30h-4.30zM213.27 260.73h4.30v4.30h-4.30zM218.58 260.73h4.30v4.30h-4.30zM234.49 260.73h4.30v4.30h-4.30zM261.02 260.73h4.30v4.30h-4.30zM298.15 260.73h4.30v4.30h-4.30zM319.37 260.73h4.30v4.30h-4.30zM361.81 260.73h4.30v4.30h-4.30zM176.14 266.03h4.30v4.30h-4.30zM255.71 266.03h4.30v4.30h-4.30zM303.46 266.03h4.30v4.30h-4.30zM329.98 266.03h4.30v4.30h-4.30zM154.92 271.34h4.30v4.30h-4.30zM176.14 271.34h4.30v4.30h-4.30zM197.36 271.34h4.30v4.30h-4.30zM202.66 271.34h4.30v4.30h-4.30zM213.27 271.34h4.30v4.30h-4.30zM324.68 271.34h4.30v4.30h-4.30zM329.98 271.34h4.30v4.30h-4.30zM213.27 276.64h4.30v4.30h-4.30zM271.63 276.64h4.30v4.30h-4.30zM303.46 276.64h4.30v4.30h-4.30zM308.76 276.64h4.30v4.30h-4.30zM213.27 281.95h4.30v4.30h-4.30zM229.19 281.95h4.30v4.30h-4.30zM287.54 281.95h4.30v4.30h-4.30zM329.98 281.95h4.30v4.30h-4.30zM361.81 281.95h4.30v4.30h-4.30zM383.03 281.95h4.30v4.30h-4.30zM149.61 287.25h4.30v4.30h-4.30zM223.88 287.25h4.30v4.30h-4.30zM356.51 287.25h4.30v4.30h-4.30zM144.31 292.56h4.30v4.30h-4.30zM170.83 292.56h4.30v4.30h-4.30zM266.32 292.56h4.30v4.30h-4.30zM319.37 292.56h4.30v4.30h-4.30zM340.59 292.56h4.30v4.30h-4.30zM383.03 292.56h4.30v4.30h-4.30zM398.95 292.56h4.30v4.30h-4.30zM154.92 297.86h4.30v4.30h-4.30zM250.41 297.86h4.30v4.30h-4.30zM276.93 297.86h4.30v4.30h-4.30zM324.68 297.86h4.30v4.30h-4.30zM340.59 297.86h4.30v4.30h-4.30zM361.81 297.86h4.30v4.30h-4.30zM149.61 303.17h4.30v4.30h-4.30zM154.92 303.17h4.30v4.30h-4.30zM181.44 303.17h4.30v4.30h-4.30zM186.75 303.17h4.30v4.30h-4.30zM197.36 303.17h4.30v4.30h-4.30zM213.27 303.17h4.30v4.30h-4.30zM229.19 303.17h4.30v4.30h-4.30zM239.80 303.17h4.30v4.30h-4.30zM261.02 303.17h4.30v4.30h-4.30zM271.63 303.17h4.30v4.30h-4.30zM287.54 303.17h4.30v4.30h-4.30zM335.29 303.17h4.30v4.30h-4.30zM367.12 303.17h4.30v4.30h-4.30zM388.34 303.17h4.30v4.30h-4.30zM409.56 308.47h4.30v4.30h-4.30zM144.31 313.78h4.30v4.30h-4.30zM165.53 313.78h4.30v4.30h-4.30zM276.93 313.78h4.30v4.30h-4.30zM383.03 313.78h4.30v4.30h-4.30zM409.56 313.78h4.30v4.30h-4.30zM149.61 319.08h4.30v4.30h-4.30zM192.05 319.08h4.30v4.30h-4.30zM197.36 319.08h4.30v4.30h-4.30zM213.27 319.08h4.30v4.30h-4.30zM266.32 319.08h4.30v4.30h-4.30zM292.85 319.08h4.30v4.30h-4.30zM298.15 319.08h4.30v4.30h-4.30zM308.76 319.08h4.30v4.30h-4.30zM361.81 319.08h4.30v4.30h-4.30zM414.86 319.08h4.30v4.30h-4.30zM425.47 319.08h4.30v4.30h-4.30zM154.92 324.39h4.30v4.30h-4.30zM160.22 324.39h4.30v4.30h-4.30zM234.49 324.39h4.30v4.30h-4.30zM276.93 324.39h4.30v4.30h-4.30zM298.15 324.39h4.30v4.30h-4.30zM335.29 324.39h4.30v4.30h-4.30zM345.90 324.39h4.30v4.30h-4.30zM361.81 324.39h4.30v4.30h-4.30zM202.66 329.69h4.30v4.30h-4.30zM213.27 329.69h4.30v4.30h-4.30zM271.63 329.69h4.30v4.30h-4.30zM308.76 329.69h4.30v4.30h-4.30zM351.20 329.69h4.30v4.30h-4.30zM372.42 329.69h4.30v4.30h-4.30zM398.95 335.00h4.30v4.30h-4.30zM409.56 335.00h4.30v4.30h-4.30zM154.92 340.30h4.30v4.30h-4.30zM176.14 340.30h4.30v4.30h-4.30zM202.66 340.30h4.30v4.30h-4.30zM245.10 340.30h4.30v4.30h-4.30zM261.02 340.30h4.30v4.30h-4.30zM276.93 340.30h4.30v4.30h-4.30zM287.54 340.30h4.30v4.30h-4.30zM292.85 340.30h4.30v4.30h-4.30zM314.07 340.30h4.30v4.30h-4.30zM345.90 340.30h4.30v4.30h-4.30zM361.81 340.30h4.30v4.30h-4.30zM372.42 340.30h4.30v4.30h-4.30zM430.78 340.30h4.30v4.30h-4.30zM436.08 340.30h4.30v4.30h-4.30zM144.31 345.61h4.30v4.30h-4.30zM165.53 345.61h4.30v4.30h-4.30zM170.83 345.61h4.30v4.30h-4.30zM245.10 345.61h4.30v4.30h-4.30zM276.93 345.61h4.30v4.30h-4.30zM181.44 350.91h4.30v4.30h-4.30zM218.58 350.91h4.30v4.30h-4.30zM250.41 350.91h4.30v4.30h-4.30zM255.71 350.91h4.30v4.30h-4.30zM282.24 350.91h4.30v4.30h-4.30zM298.15 350.91h4.30v4.30h-4.30zM303.46 350.91h4.30v4.30h-4.30zM340.59 350.91h4.30v4.30h-4.30zM383.03 350.91h4.30v4.30h-4.30zM420.17 350.91h4.30v4.30h-4.30zM139.00 356.22h4.30v4.30h-4.30zM181.44 356.22h4.30v4.30h-4.30zM197.36 356.22h4.30v4.30h-4.30zM239.80 356.22h4.30v4.30h-4.30zM250.41 356.22h4.30v4.30h-4.30zM388.34 356.22h4.30v4.30h-4.30zM420.17 356.22h4.30v4.30h-4.30zM176.14 361.52h4.30v4.30h-4.30zM213.27 361.52h4.30v4.30h-4.30zM298.15 361.52h4.30v4.30h-4.30zM314.07 361.52h4.30v4.30h-4.30zM329.98 361.52h4.30v4.30h-4.30zM367.12 361.52h4.30v4.30h-4.30zM467.91 361.52h4.30v4.30h-4.30zM139.00 366.83h4.30v4.30h-4.30zM149.61 366.83h4.30v4.30h-4.30zM154.92 366.83h4.30v4.30h-4.30zM160.22 366.83h4.30v4.30h-4.30zM181.44 366.83h4.30v4.30h-4.30zM192.05 366.83h4.30v4.30h-4.30zM197.36 366.83h4.30v4.30h-4.30zM223.88 366.83h4.30v4.30h-4.30zM229.19 366.83h4.30v4.30h-4.30zM255.71 366.83h4.30v4.30h-4.30zM266.32 366.83h4.30v4.30h-4.30zM271.63 366.83h4.30v4.30h-4.30zM287.54 366.83h4.30v4.30h-4.30zM298.15 366.83h4.30v4.30h-4.30zM308.76 366.83h4.30v4.30h-4.30zM335.29 366.83h4.30v4.30h-4.30zM367.12 366.83h4.30v4.30h-4.30zM414.86 366.83h4.30v4.30h-4.30zM430.78 366.83h4.30v4.30h-4.30zM436.08 366.83h4.30v4.30h-4.30zM441.39 366.83h4.30v4.30h-4.30zM446.69 366.83h4.30v4.30h-4.30zM452.00 366.83h4.30v4.30h-4.30zM462.61 366.83h4.30v4.30h-4.30zM170.83 372.13h4.30v4.30h-4.30zM298.15 372.13h4.30v4.30h-4.30zM345.90 372.13h4.30v4.30h-4.30zM398.95 372.13h4.30v4.30h-4.30zM441.39 372.13h4.30v4.30h-4.30zM462.61 372.13h4.30v4.30h-4.30zM139.00 377.44h4.30v4.30h-4.30zM144.31 377.44h4.30v4.30h-4.30zM149.61 377.44h4.30v4.30h-4.30zM181.44 377.44h4.30v4.30h-4.30zM186.75 377.44h4.30v4.30h-4.30zM213.27 377.44h4.30v4.30h-4.30zM271.63 377.44h4.30v4.30h-4.30zM319.37 377.44h4.30v4.30h-4.30zM393.64 377.44h4.30v4.30h-4.30zM409.56 377.44h4.30v4.30h-4.30zM483.83 377.44h4.30v4.30h-4.30zM165.53 382.74h4.30v4.30h-4.30zM170.83 382.74h4.30v4.30h-4.30zM176.14 382.74h4.30v4.30h-4.30zM197.36 382.74h4.30v4.30h-4.30zM213.27 382.74h4.30v4.30h-4.30zM223.88 382.74h4.30v4.30h-4.30zM229.19 382.74h4.30v4.30h-4.30zM292.85 382.74h4.30v4.30h-4.30zM319.37 382.74h4.30v4.30h-4.30zM430.78 382.74h4.30v4.30h-4.30zM483.83 382.74h4.30v4.30h-4.30zM154.92 388.05h4.30v4.30h-4.30zM218.58 388.05h4.30v4.30h-4.30zM303.46 388.05h4.30v4.30h-4.30zM319.37 388.05h4.30v4.30h-4.30zM335.29 388.05h4.30v4.30h-4.30zM340.59 388.05h4.30v4.30h-4.30zM345.90 388.05h4.30v4.30h-4.30zM483.83 388.05h4.30v4.30h-4.30zM489.13 388.05h4.30v4.30h-4.30zM144.31 393.35h4.30v4.30h-4.30zM186.75 393.35h4.30v4.30h-4.30zM229.19 393.35h4.30v4.30h-4.30zM234.49 393.35h4.30v4.30h-4.30zM245.10 393.35h4.30v4.30h-4.30zM250.41 393.35h4.30v4.30h-4.30zM266.32 393.35h4.30v4.30h-4.30zM287.54 393.35h4.30v4.30h-4.30zM303.46 393.35h4.30v4.30h-4.30zM319.37 393.35h4.30v4.30h-4.30zM340.59 393.35h4.30v4.30h-4.30zM377.73 393.35h4.30v4.30h-4.30zM383.03 393.35h4.30v4.30h-4.30zM393.64 393.35h4.30v4.30h-4.30zM441.39 393.35h4.30v4.30h-4.30zM499.74 393.35h4.30v4.30h-4.30zM505.05 393.35h4.30v4.30h-4.30zM197.36 398.66h4.30v4.30h-4.30zM234.49 398.66h4.30v4.30h-4.30zM245.10 398.66h4.30v4.30h-4.30zM298.15 398.66h4.30v4.30h-4.30zM303.46 398.66h4.30v4.30h-4.30zM367.12 398.66h4.30v4.30h-4.30zM377.73 398.66h4.30v4.30h-4.30zM420.17 398.66h4.30v4.30h-4.30zM441.39 398.66h4.30v4.30h-4.30zM505.05 398.66h4.30v4.30h-4.30z" fill="#4b95cb"/>
<path d="M144.36 37.97h4.20v4.20h-4.20zM149.66 37.97h4.20v4.20h-4.20zM149.66 43.27h4.20v4.20h-4.20zM154.97 48.58h4.20v4.20h-4.20zM160.27 48.58h4.20v4.20h-4.20zM139.05 53.88h4.20v4.20h-4.20zM144.36 53.88h4.20v4.20h-4.20zM144.36 59.19h4.20v4.20h-4.20zM165.58 59.19h4.20v4.20h-4.20zM160.27 64.49h4.20v4.20h-4.20zM176.19 64.49h4.20v4.20h-4.20zM160.27 75.10h4.20v4.20h-4.20zM160.27 80.41h4.20v4.20h-4.20zM170.88 80.41h4.20v4.20h-4.20zM144.36 85.71h4.20v4.20h-4.20zM160.27 85.71h4.20v4.20h-4.20zM160.27 91.02h4.20v4.20h-4.20zM176.19 91.02h4.20v4.20h-4.20zM181.49 91.02h4.20v4.20h-4.20zM144.36 96.32h4.20v4.20h-4.20zM186.80 96.32h4.20v4.20h-4.20zM154.97 101.63h4.20v4.20h-4.20zM170.88 101.63h4.20v4.20h-4.20zM154.97 106.93h4.20v4.20h-4.20zM160.27 106.93h4.20v4.20h-4.20zM170.88 106.93h4.20v4.20h-4.20zM139.05 112.24h4.20v4.20h-4.20zM149.66 112.24h4.20v4.20h-4.20zM181.49 112.24h4.20v4.20h-4.20zM192.10 112.24h4.20v4.20h-4.20zM139.05 117.54h4.20v4.20h-4.20zM149.66 117.54h4.20v4.20h-4.20zM181.49 117.54h4.20v4.20h-4.20zM192.10 117.54h4.20v4.20h-4.20zM202.71 117.54h4.20v4.20h-4.20zM223.93 117.54h4.20v4.20h-4.20zM170.88 122.85h4.20v4.20h-4.20zM186.80 122.85h4.20v4.20h-4.20zM208.02 122.85h4.20v4.20h-4.20zM229.24 122.85h4.20v4.20h-4.20zM202.71 128.15h4.20v4.20h-4.20zM208.02 128.15h4.20v4.20h-4.20zM213.32 128.15h4.20v4.20h-4.20zM218.63 128.15h4.20v4.20h-4.20zM229.24 128.15h4.20v4.20h-4.20zM239.85 128.15h4.20v4.20h-4.20zM149.66 133.46h4.20v4.20h-4.20zM160.27 133.46h4.20v4.20h-4.20zM170.88 133.46h4.20v4.20h-4.20zM176.19 133.46h4.20v4.20h-4.20zM181.49 133.46h4.20v4.20h-4.20zM192.10 133.46h4.20v4.20h-4.20zM202.71 133.46h4.20v4.20h-4.20zM213.32 133.46h4.20v4.20h-4.20zM229.24 133.46h4.20v4.20h-4.20zM154.97 138.76h4.20v4.20h-4.20zM160.27 138.76h4.20v4.20h-4.20zM170.88 138.76h4.20v4.20h-4.20zM202.71 138.76h4.20v4.20h-4.20zM208.02 138.76h4.20v4.20h-4.20zM229.24 138.76h4.20v4.20h-4.20zM234.54 138.76h4.20v4.20h-4.20zM245.15 138.76h4.20v4.20h-4.20zM170.88 144.07h4.20v4.20h-4.20zM197.41 144.07h4.20v4.20h-4.20zM213.32 144.07h4.20v4.20h-4.20zM250.46 144.07h4.20v4.20h-4.20zM139.05 149.37h4.20v4.20h-4.20zM149.66 149.37h4.20v4.20h-4.20zM202.71 149.37h4.20v4.20h-4.20zM213.32 149.37h4.20v4.20h-4.20zM239.85 149.37h4.20v4.20h-4.20zM255.76 149.37h4.20v4.20h-4.20zM176.19 154.68h4.20v4.20h-4.20zM186.80 154.68h4.20v4.20h-4.20zM202.71 154.68h4.20v4.20h-4.20zM234.54 154.68h4.20v4.20h-4.20zM266.37 154.68h4.20v4.20h-4.20zM165.58 159.98h4.20v4.20h-4.20zM181.49 159.98h4.20v4.20h-4.20zM218.63 159.98h4.20v4.20h-4.20zM266.37 159.98h4.20v4.20h-4.20zM271.68 159.98h4.20v4.20h-4.20zM170.88 165.29h4.20v4.20h-4.20zM229.24 165.29h4.20v4.20h-4.20zM234.54 165.29h4.20v4.20h-4.20zM139.05 170.59h4.20v4.20h-4.20zM149.66 170.59h4.20v4.20h-4.20zM181.49 170.59h4.20v4.20h-4.20zM192.10 170.59h4.20v4.20h-4.20zM197.41 170.59h4.20v4.20h-4.20zM202.71 170.59h4.20v4.20h-4.20zM218.63 170.59h4.20v4.20h-4.20zM176.19 175.90h4.20v4.20h-4.20zM197.41 175.90h4.20v4.20h-4.20zM213.32 175.90h4.20v4.20h-4.20zM223.93 175.90h4.20v4.20h-4.20zM229.24 175.90h4.20v4.20h-4.20zM276.98 175.90h4.20v4.20h-4.20zM282.29 175.90h4.20v4.20h-4.20zM139.05 181.20h4.20v4.20h-4.20zM186.80 181.20h4.20v4.20h-4.20zM197.41 181.20h4.20v4.20h-4.20zM218.63 181.20h4.20v4.20h-4.20zM239.85 181.20h4.20v4.20h-4.20zM255.76 181.20h4.20v4.20h-4.20zM292.90 181.20h4.20v4.20h-4.20zM139.05 186.51h4.20v4.20h-4.20zM144.36 186.51h4.20v4.20h-4.20zM149.66 186.51h4.20v4.20h-4.20zM170.88 186.51h4.20v4.20h-4.20zM176.19 186.51h4.20v4.20h-4.20zM181.49 186.51h4.20v4.20h-4.20zM186.80 186.51h4.20v4.20h-4.20zM245.15 186.51h4.20v4.20h-4.20zM250.46 186.51h4.20v4.20h-4.20zM271.68 186.51h4.20v4.20h-4.20zM276.98 186.51h4.20v4.20h-4.20zM160.27 191.81h4.20v4.20h-4.20zM229.24 191.81h4.20v4.20h-4.20zM234.54 191.81h4.20v4.20h-4.20zM250.46 191.81h4.20v4.20h-4.20zM298.20 191.81h4.20v4.20h-4.20zM139.05 197.12h4.20v4.20h-4.20zM192.10 197.12h4.20v4.20h-4.20zM202.71 197.12h4.20v4.20h-4.20zM208.02 197.12h4.20v4.20h-4.20zM229.24 197.12h4.20v4.20h-4.20zM239.85 197.12h4.20v4.20h-4.20zM255.76 197.12h4.20v4.20h-4.20zM266.37 197.12h4.20v4.20h-4.20zM271.68 197.12h4.20v4.20h-4.20zM282.29 197.12h4.20v4.20h-4.20zM303.51 197.12h4.20v4.20h-4.20zM160.27 202.42h4.20v4.20h-4.20zM165.58 202.42h4.20v4.20h-4.20zM197.41 202.42h4.20v4.20h-4.20zM218.63 202.42h4.20v4.20h-4.20zM229.24 202.42h4.20v4.20h-4.20zM234.54 202.42h4.20v4.20h-4.20zM261.07 202.42h4.20v4.20h-4.20zM208.02 207.73h4.20v4.20h-4.20zM223.93 207.73h4.20v4.20h-4.20zM250.46 207.73h4.20v4.20h-4.20zM149.66 213.03h4.20v4.20h-4.20zM165.58 213.03h4.20v4.20h-4.20zM181.49 213.03h4.20v4.20h-4.20zM197.41 213.03h4.20v4.20h-4.20zM208.02 213.03h4.20v4.20h-4.20zM223.93 213.03h4.20v4.20h-4.20zM250.46 213.03h4.20v4.20h-4.20zM266.37 213.03h4.20v4.20h-4.20zM303.51 213.03h4.20v4.20h-4.20zM324.73 213.03h4.20v4.20h-4.20zM149.66 218.34h4.20v4.20h-4.20zM181.49 218.34h4.20v4.20h-4.20zM192.10 218.34h4.20v4.20h-4.20zM197.41 218.34h4.20v4.20h-4.20zM202.71 218.34h4.20v4.20h-4.20zM223.93 218.34h4.20v4.20h-4.20zM255.76 218.34h4.20v4.20h-4.20zM292.90 218.34h4.20v4.20h-4.20zM308.81 218.34h4.20v4.20h-4.20zM319.42 218.34h4.20v4.20h-4.20zM160.27 223.64h4.20v4.20h-4.20zM181.49 223.64h4.20v4.20h-4.20zM276.98 223.64h4.20v4.20h-4.20zM292.90 223.64h4.20v4.20h-4.20zM298.20 223.64h4.20v4.20h-4.20zM314.12 223.64h4.20v4.20h-4.20zM324.73 223.64h4.20v4.20h-4.20zM330.03 223.64h4.20v4.20h-4.20zM335.34 223.64h4.20v4.20h-4.20zM213.32 228.95h4.20v4.20h-4.20zM229.24 228.95h4.20v4.20h-4.20zM319.42 228.95h4.20v4.20h-4.20zM139.05 234.25h4.20v4.20h-4.20zM181.49 234.25h4.20v4.20h-4.20zM192.10 234.25h4.20v4.20h-4.20zM197.41 234.25h4.20v4.20h-4.20zM202.71 234.25h4.20v4.20h-4.20zM213.32 234.25h4.20v4.20h-4.20zM255.76 234.25h4.20v4.20h-4.20zM282.29 234.25h4.20v4.20h-4.20zM292.90 234.25h4.20v4.20h-4.20zM324.73 234.25h4.20v4.20h-4.20zM202.71 239.56h4.20v4.20h-4.20zM250.46 239.56h4.20v4.20h-4.20zM149.66 244.86h4.20v4.20h-4.20zM165.58 244.86h4.20v4.20h-4.20zM181.49 244.86h4.20v4.20h-4.20zM186.80 244.86h4.20v4.20h-4.20zM192.10 244.86h4.20v4.20h-4.20zM218.63 244.86h4.20v4.20h-4.20zM250.46 244.86h4.20v4.20h-4.20zM266.37 244.86h4.20v4.20h-4.20zM271.68 244.86h4.20v4.20h-4.20zM292.90 244.86h4.20v4.20h-4.20zM340.64 244.86h4.20v4.20h-4.20zM149.66 250.17h4.20v4.20h-4.20zM170.88 250.17h4.20v4.20h-4.20zM176.19 250.17h4.20v4.20h-4.20zM181.49 250.17h4.20v4.20h-4.20zM197.41 250.17h4.20v4.20h-4.20zM208.02 250.17h4.20v4.20h-4.20zM245.15 250.17h4.20v4.20h-4.20zM255.76 250.17h4.20v4.20h-4.20zM261.07 250.17h4.20v4.20h-4.20zM308.81 250.17h4.20v4.20h-4.20zM324.73 250.17h4.20v4.20h-4.20zM345.95 250.17h4.20v4.20h-4.20zM361.86 250.17h4.20v4.20h-4.20zM165.58 255.47h4.20v4.20h-4.20zM202.71 255.47h4.20v4.20h-4.20zM223.93 255.47h4.20v4.20h-4.20zM282.29 255.47h4.20v4.20h-4.20zM340.64 255.47h4.20v4.20h-4.20zM186.80 260.78h4.20v4.20h-4.20zM192.10 260.78h4.20v4.20h-4.20zM229.24 260.78h4.20v4.20h-4.20zM239.85 260.78h4.20v4.20h-4.20zM266.37 260.78h4.20v4.20h-4.20zM271.68 260.78h4.20v4.20h-4.20zM282.29 260.78h4.20v4.20h-4.20zM340.64 260.78h4.20v4.20h-4.20zM367.17 260.78h4.20v4.20h-4.20zM144.36 266.08h4.20v4.20h-4.20zM154.97 266.08h4.20v4.20h-4.20zM160.27 266.08h4.20v4.20h-4.20zM165.58 266.08h4.20v4.20h-4.20zM186.80 266.08h4.20v4.20h-4.20zM192.10 266.08h4.20v4.20h-4.20zM202.71 266.08h4.20v4.20h-4.20zM208.02 266.08h4.20v4.20h-4.20zM213.32 266.08h4.20v4.20h-4.20zM229.24 266.08h4.20v4.20h-4.20zM234.54 266.08h4.20v4.20h-4.20zM239.85 266.08h4.20v4.20h-4.20zM250.46 266.08h4.20v4.20h-4.20zM266.37 266.08h4.20v4.20h-4.20zM287.59 266.08h4.20v4.20h-4.20zM298.20 266.08h4.20v4.20h-4.20zM335.34 266.08h4.20v4.20h-4.20zM345.95 266.08h4.20v4.20h-4.20zM361.86 266.08h4.20v4.20h-4.20zM367.17 266.08h4.20v4.20h-4.20zM144.36 271.39h4.20v4.20h-4.20zM160.27 271.39h4.20v4.20h-4.20zM170.88 271.39h4.20v4.20h-4.20zM186.80 271.39h4.20v4.20h-4.20zM208.02 271.39h4.20v4.20h-4.20zM223.93 271.39h4.20v4.20h-4.20zM229.24 271.39h4.20v4.20h-4.20zM234.54 271.39h4.20v4.20h-4.20zM245.15 271.39h4.20v4.20h-4.20zM282.29 271.39h4.20v4.20h-4.20zM287.59 271.39h4.20v4.20h-4.20zM298.20 271.39h4.20v4.20h-4.20zM314.12 271.39h4.20v4.20h-4.20zM319.42 271.39h4.20v4.20h-4.20zM335.34 271.39h4.20v4.20h-4.20zM340.64 271.39h4.20v4.20h-4.20zM351.25 271.39h4.20v4.20h-4.20zM356.56 271.39h4.20v4.20h-4.20zM361.86 271.39h4.20v4.20h-4.20zM383.08 271.39h4.20v4.20h-4.20zM197.41 276.69h4.20v4.20h-4.20zM202.71 276.69h4.20v4.20h-4.20zM223.93 276.69h4.20v4.20h-4.20zM229.24 276.69h4.20v4.20h-4.20zM276.98 276.69h4.20v4.20h-4.20zM287.59 276.69h4.20v4.20h-4.20zM351.25 276.69h4.20v4.20h-4.20zM356.56 276.69h4.20v4.20h-4.20zM367.17 276.69h4.20v4.20h-4.20zM144.36 282.00h4.20v4.20h-4.20zM160.27 282.00h4.20v4.20h-4.20zM186.80 282.00h4.20v4.20h-4.20zM197.41 282.00h4.20v4.20h-4.20zM223.93 282.00h4.20v4.20h-4.20zM234.54 282.00h4.20v4.20h-4.20zM261.07 282.00h4.20v4.20h-4.20zM282.29 282.00h4.20v4.20h-4.20zM292.90 282.00h4.20v4.20h-4.20zM335.34 282.00h4.20v4.20h-4.20zM345.95 282.00h4.20v4.20h-4.20zM372.47 282.00h4.20v4.20h-4.20zM377.78 282.00h4.20v4.20h-4.20zM181.49 287.30h4.20v4.20h-4.20zM202.71 287.30h4.20v4.20h-4.20zM229.24 287.30h4.20v4.20h-4.20zM255.76 287.30h4.20v4.20h-4.20zM308.81 287.30h4.20v4.20h-4.20zM324.73 287.30h4.20v4.20h-4.20zM351.25 287.30h4.20v4.20h-4.20zM393.69 287.30h4.20v4.20h-4.20zM176.19 292.61h4.20v4.20h-4.20zM192.10 292.61h4.20v4.20h-4.20zM202.71 292.61h4.20v4.20h-4.20zM213.32 292.61h4.20v4.20h-4.20zM239.85 292.61h4.20v4.20h-4.20zM245.15 292.61h4.20v4.20h-4.20zM255.76 292.61h4.20v4.20h-4.20zM282.29 292.61h4.20v4.20h-4.20zM314.12 292.61h4.20v4.20h-4.20zM330.03 292.61h4.20v4.20h-4.20zM367.17 292.61h4.20v4.20h-4.20zM388.39 292.61h4.20v4.20h-4.20zM160.27 297.91h4.20v4.20h-4.20zM176.19 297.91h4.20v4.20h-4.20zM229.24 297.91h4.20v4.20h-4.20zM234.54 297.91h4.20v4.20h-4.20zM266.37 297.91h4.20v4.20h-4.20zM303.51 297.91h4.20v4.20h-4.20zM330.03 297.91h4.20v4.20h-4.20zM335.34 297.91h4.20v4.20h-4.20zM356.56 297.91h4.20v4.20h-4.20zM367.17 297.91h4.20v4.20h-4.20zM404.30 297.91h4.20v4.20h-4.20zM139.05 303.22h4.20v4.20h-4.20zM160.27 303.22h4.20v4.20h-4.20zM176.19 303.22h4.20v4.20h-4.20zM192.10 303.22h4.20v4.20h-4.20zM234.54 303.22h4.20v4.20h-4.20zM276.98 303.22h4.20v4.20h-4.20zM330.03 303.22h4.20v4.20h-4.20zM351.25 303.22h4.20v4.20h-4.20zM361.86 303.22h4.20v4.20h-4.20zM377.78 303.22h4.20v4.20h-4.20zM393.69 303.22h4.20v4.20h-4.20zM414.91 303.22h4.20v4.20h-4.20zM149.66 308.52h4.20v4.20h-4.20zM192.10 308.52h4.20v4.20h-4.20zM197.41 308.52h4.20v4.20h-4.20zM202.71 308.52h4.20v4.20h-4.20zM266.37 308.52h4.20v4.20h-4.20zM271.68 308.52h4.20v4.20h-4.20zM282.29 308.52h4.20v4.20h-4.20zM292.90 308.52h4.20v4.20h-4.20zM340.64 308.52h4.20v4.20h-4.20zM351.25 308.52h4.20v4.20h-4.20zM367.17 308.52h4.20v4.20h-4.20zM414.91 308.52h4.20v4.20h-4.20zM420.22 308.52h4.20v4.20h-4.20zM170.88 313.83h4.20v4.20h-4.20zM202.71 313.83h4.20v4.20h-4.20zM245.15 313.83h4.20v4.20h-4.20zM314.12 313.83h4.20v4.20h-4.20zM372.47 313.83h4.20v4.20h-4.20zM377.78 313.83h4.20v4.20h-4.20zM139.05 319.13h4.20v4.20h-4.20zM154.97 319.13h4.20v4.20h-4.20zM176.19 319.13h4.20v4.20h-4.20zM181.49 319.13h4.20v4.20h-4.20zM239.85 319.13h4.20v4.20h-4.20zM255.76 319.13h4.20v4.20h-4.20zM271.68 319.13h4.20v4.20h-4.20zM276.98 319.13h4.20v4.20h-4.20zM351.25 319.13h4.20v4.20h-4.20zM372.47 319.13h4.20v4.20h-4.20zM388.39 319.13h4.20v4.20h-4.20zM399.00 319.13h4.20v4.20h-4.20zM409.61 319.13h4.20v4.20h-4.20zM165.58 324.44h4.20v4.20h-4.20zM186.80 324.44h4.20v4.20h-4.20zM208.02 324.44h4.20v4.20h-4.20zM213.32 324.44h4.20v4.20h-4.20zM218.63 324.44h4.20v4.20h-4.20zM229.24 324.44h4.20v4.20h-4.20zM239.85 324.44h4.20v4.20h-4.20zM255.76 324.44h4.20v4.20h-4.20zM261.07 324.44h4.20v4.20h-4.20zM287.59 324.44h4.20v4.20h-4.20zM319.42 324.44h4.20v4.20h-4.20zM388.39 324.44h4.20v4.20h-4.20zM399.00 324.44h4.20v4.20h-4.20zM139.05 329.74h4.20v4.20h-4.20zM154.97 329.74h4.20v4.20h-4.20zM176.19 329.74h4.20v4.20h-4.20zM239.85 329.74h4.20v4.20h-4.20zM292.90 329.74h4.20v4.20h-4.20zM298.20 329.74h4.20v4.20h-4.20zM330.03 329.74h4.20v4.20h-4.20zM335.34 329.74h4.20v4.20h-4.20zM361.86 329.74h4.20v4.20h-4.20zM409.61 329.74h4.20v4.20h-4.20zM414.91 329.74h4.20v4.20h-4.20zM425.52 329.74h4.20v4.20h-4.20zM165.58 335.05h4.20v4.20h-4.20zM266.37 335.05h4.20v4.20h-4.20zM276.98 335.05h4.20v4.20h-4.20zM340.64 335.05h4.20v4.20h-4.20zM430.83 335.05h4.20v4.20h-4.20zM436.13 335.05h4.20v4.20h-4.20zM446.74 335.05h4.20v4.20h-4.20zM160.27 340.35h4.20v4.20h-4.20zM170.88 340.35h4.20v4.20h-4.20zM213.32 340.35h4.20v4.20h-4.20zM229.24 340.35h4.20v4.20h-4.20zM319.42 340.35h4.20v4.20h-4.20zM330.03 340.35h4.20v4.20h-4.20zM335.34 340.35h4.20v4.20h-4.20zM446.74 340.35h4.20v4.20h-4.20zM160.27 345.66h4.20v4.20h-4.20zM176.19 345.66h4.20v4.20h-4.20zM314.12 345.66h4.20v4.20h-4.20zM330.03 345.66h4.20v4.20h-4.20zM345.95 345.66h4.20v4.20h-4.20zM361.86 345.66h4.20v4.20h-4.20zM372.47 345.66h4.20v4.20h-4.20zM377.78 345.66h4.20v4.20h-4.20zM383.08 345.66h4.20v4.20h-4.20zM409.61 345.66h4.20v4.20h-4.20zM452.05 345.66h4.20v4.20h-4.20zM457.35 345.66h4.20v4.20h-4.20zM197.41 350.96h4.20v4.20h-4.20zM202.71 350.96h4.20v4.20h-4.20zM208.02 350.96h4.20v4.20h-4.20zM223.93 350.96h4.20v4.20h-4.20zM229.24 350.96h4.20v4.20h-4.20zM261.07 350.96h4.20v4.20h-4.20zM266.37 350.96h4.20v4.20h-4.20zM308.81 350.96h4.20v4.20h-4.20zM319.42 350.96h4.20v4.20h-4.20zM324.73 350.96h4.20v4.20h-4.20zM393.69 350.96h4.20v4.20h-4.20zM399.00 350.96h4.20v4.20h-4.20zM409.61 350.96h4.20v4.20h-4.20zM414.91 350.96h4.20v4.20h-4.20zM446.74 350.96h4.20v4.20h-4.20zM192.10 356.27h4.20v4.20h-4.20zM202.71 356.27h4.20v4.20h-4.20zM223.93 356.27h4.20v4.20h-4.20zM255.76 356.27h4.20v4.20h-4.20zM271.68 356.27h4.20v4.20h-4.20zM308.81 356.27h4.20v4.20h-4.20zM324.73 356.27h4.20v4.20h-4.20zM356.56 356.27h4.20v4.20h-4.20zM404.30 356.27h4.20v4.20h-4.20zM139.05 361.57h4.20v4.20h-4.20zM149.66 361.57h4.20v4.20h-4.20zM170.88 361.57h4.20v4.20h-4.20zM181.49 361.57h4.20v4.20h-4.20zM197.41 361.57h4.20v4.20h-4.20zM218.63 361.57h4.20v4.20h-4.20zM229.24 361.57h4.20v4.20h-4.20zM239.85 361.57h4.20v4.20h-4.20zM250.46 361.57h4.20v4.20h-4.20zM271.68 361.57h4.20v4.20h-4.20zM276.98 361.57h4.20v4.20h-4.20zM377.78 361.57h4.20v4.20h-4.20zM414.91 361.57h4.20v4.20h-4.20zM144.36 366.88h4.20v4.20h-4.20zM165.58 366.88h4.20v4.20h-4.20zM186.80 366.88h4.20v4.20h-4.20zM234.54 366.88h4.20v4.20h-4.20zM245.15 366.88h4.20v4.20h-4.20zM292.90 366.88h4.20v4.20h-4.20zM303.51 366.88h4.20v4.20h-4.20zM345.95 366.88h4.20v4.20h-4.20zM351.25 366.88h4.20v4.20h-4.20zM372.47 366.88h4.20v4.20h-4.20zM393.69 366.88h4.20v4.20h-4.20zM404.30 366.88h4.20v4.20h-4.20zM420.22 366.88h4.20v4.20h-4.20zM425.52 366.88h4.20v4.20h-4.20zM457.35 366.88h4.20v4.20h-4.20zM478.57 366.88h4.20v4.20h-4.20zM144.36 372.18h4.20v4.20h-4.20zM154.97 372.18h4.20v4.20h-4.20zM160.27 372.18h4.20v4.20h-4.20zM176.19 372.18h4.20v4.20h-4.20zM276.98 372.18h4.20v4.20h-4.20zM330.03 372.18h4.20v4.20h-4.20zM361.86 372.18h4.20v4.20h-4.20zM409.61 372.18h4.20v4.20h-4.20zM457.35 372.18h4.20v4.20h-4.20zM483.88 372.18h4.20v4.20h-4.20zM197.41 377.49h4.20v4.20h-4.20zM202.71 377.49h4.20v4.20h-4.20zM218.63 377.49h4.20v4.20h-4.20zM229.24 377.49h4.20v4.20h-4.20zM234.54 377.49h4.20v4.20h-4.20zM250.46 377.49h4.20v4.20h-4.20zM261.07 377.49h4.20v4.20h-4.20zM282.29 377.49h4.20v4.20h-4.20zM287.59 377.49h4.20v4.20h-4.20zM308.81 377.49h4.20v4.20h-4.20zM324.73 377.49h4.20v4.20h-4.20zM335.34 377.49h4.20v4.20h-4.20zM340.64 377.49h4.20v4.20h-4.20zM345.95 377.49h4.20v4.20h-4.20zM361.86 377.49h4.20v4.20h-4.20zM399.00 377.49h4.20v4.20h-4.20zM414.91 377.49h4.20v4.20h-4.20zM420.22 377.49h4.20v4.20h-4.20zM462.66 377.49h4.20v4.20h-4.20zM160.27 382.79h4.20v4.20h-4.20zM245.15 382.79h4.20v4.20h-4.20zM282.29 382.79h4.20v4.20h-4.20zM287.59 382.79h4.20v4.20h-4.20zM308.81 382.79h4.20v4.20h-4.20zM314.12 382.79h4.20v4.20h-4.20zM330.03 382.79h4.20v4.20h-4.20zM335.34 382.79h4.20v4.20h-4.20zM356.56 382.79h4.20v4.20h-4.20zM372.47 382.79h4.20v4.20h-4.20zM425.52 382.79h4.20v4.20h-4.20zM446.74 382.79h4.20v4.20h-4.20zM462.66 382.79h4.20v4.20h-4.20zM489.18 382.79h4.20v4.20h-4.20zM139.05 388.10h4.20v4.20h-4.20zM144.36 388.10h4.20v4.20h-4.20zM149.66 388.10h4.20v4.20h-4.20zM165.58 388.10h4.20v4.20h-4.20zM186.80 388.10h4.20v4.20h-4.20zM192.10 388.10h4.20v4.20h-4.20zM208.02 388.10h4.20v4.20h-4.20zM213.32 388.10h4.20v4.20h-4.20zM234.54 388.10h4.20v4.20h-4.20zM239.85 388.10h4.20v4.20h-4.20zM255.76 388.10h4.20v4.20h-4.20zM266.37 388.10h4.20v4.20h-4.20zM271.68 388.10h4.20v4.20h-4.20zM282.29 388.10h4.20v4.20h-4.20zM287.59 388.10h4.20v4.20h-4.20zM298.20 388.10h4.20v4.20h-4.20zM361.86 388.10h4.20v4.20h-4.20zM367.17 388.10h4.20v4.20h-4.20zM388.39 388.10h4.20v4.20h-4.20zM399.00 388.10h4.20v4.20h-4.20zM430.83 388.10h4.20v4.20h-4.20zM462.66 388.10h4.20v4.20h-4.20zM478.57 388.10h4.20v4.20h-4.20zM208.02 393.40h4.20v4.20h-4.20zM324.73 393.40h4.20v4.20h-4.20zM345.95 393.40h4.20v4.20h-4.20zM356.56 393.40h4.20v4.20h-4.20zM409.61 393.40h4.20v4.20h-4.20zM420.22 393.40h4.20v4.20h-4.20zM436.13 393.40h4.20v4.20h-4.20zM446.74 393.40h4.20v4.20h-4.20zM457.35 393.40h4.20v4.20h-4.20zM478.57 393.40h4.20v4.20h-4.20zM186.80 398.71h4.20v4.20h-4.20zM208.02 398.71h4.20v4.20h-4.20zM250.46 398.71h4.20v4.20h-4.20zM266.37 398.71h4.20v4.20h-4.20zM345.95 398.71h4.20v4.20h-4.20zM351.25 398.71h4.20v4.20h-4.20zM399.00 398.71h4.20v4.20h-4.20zM404.30 398.71h4.20v4.20h-4.20zM409.61 398.71h4.20v4.20h-4.20zM436.13 398.71h4.20v4.20h-4.20zM473.27 398.71h4.20v4.20h-4.20zM478.57 398.71h4.20v4.20h-4.20zM499.79 398.71h4.20v4.20h-4.20z" fill="#8fc2e4"/>
<path d="M139.15 48.68h4.00v4.00h-4.00zM144.46 48.68h4.00v4.00h-4.00zM149.76 48.68h4.00v4.00h-4.00zM165.68 64.59h4.00v4.00h-4.00zM165.68 75.20h4.00v4.00h-4.00zM165.68 80.51h4.00v4.00h-4.00zM165.68 91.12h4.00v4.00h-4.00zM197.51 91.12h4.00v4.00h-4.00zM202.81 91.12h4.00v4.00h-4.00zM144.46 101.73h4.00v4.00h-4.00zM181.59 101.73h4.00v4.00h-4.00zM202.81 101.73h4.00v4.00h-4.00zM208.12 101.73h4.00v4.00h-4.00zM165.68 107.03h4.00v4.00h-4.00zM186.90 107.03h4.00v4.00h-4.00zM208.12 107.03h4.00v4.00h-4.00zM218.73 107.03h4.00v4.00h-4.00zM165.68 122.95h4.00v4.00h-4.00zM144.46 133.56h4.00v4.00h-4.00zM165.68 133.56h4.00v4.00h-4.00zM165.68 138.86h4.00v4.00h-4.00zM144.46 144.17h4.00v4.00h-4.00zM208.12 144.17h4.00v4.00h-4.00zM186.90 149.47h4.00v4.00h-4.00zM208.12 149.47h4.00v4.00h-4.00zM218.73 149.47h4.00v4.00h-4.00zM250.56 149.47h4.00v4.00h-4.00zM261.17 149.47h4.00v4.00h-4.00zM144.46 154.78h4.00v4.00h-4.00zM165.68 154.78h4.00v4.00h-4.00zM208.12 165.39h4.00v4.00h-4.00zM144.46 170.69h4.00v4.00h-4.00zM208.12 170.69h4.00v4.00h-4.00zM144.46 176.00h4.00v4.00h-4.00zM186.90 176.00h4.00v4.00h-4.00zM208.12 176.00h4.00v4.00h-4.00zM218.73 176.00h4.00v4.00h-4.00zM245.25 176.00h4.00v4.00h-4.00zM255.86 176.00h4.00v4.00h-4.00zM208.12 181.30h4.00v4.00h-4.00zM165.68 186.61h4.00v4.00h-4.00zM266.47 186.61h4.00v4.00h-4.00zM293.00 186.61h4.00v4.00h-4.00zM298.30 186.61h4.00v4.00h-4.00zM165.68 191.91h4.00v4.00h-4.00zM218.73 191.91h4.00v4.00h-4.00zM144.46 207.83h4.00v4.00h-4.00zM165.68 207.83h4.00v4.00h-4.00zM170.98 207.83h4.00v4.00h-4.00zM186.90 207.83h4.00v4.00h-4.00zM218.73 207.83h4.00v4.00h-4.00zM234.64 207.83h4.00v4.00h-4.00zM245.25 207.83h4.00v4.00h-4.00zM261.17 207.83h4.00v4.00h-4.00zM293.00 207.83h4.00v4.00h-4.00zM298.30 207.83h4.00v4.00h-4.00zM319.52 207.83h4.00v4.00h-4.00zM144.46 218.44h4.00v4.00h-4.00zM186.90 223.74h4.00v4.00h-4.00zM218.73 223.74h4.00v4.00h-4.00zM250.56 223.74h4.00v4.00h-4.00zM261.17 223.74h4.00v4.00h-4.00zM144.46 229.05h4.00v4.00h-4.00zM149.76 229.05h4.00v4.00h-4.00zM181.59 229.05h4.00v4.00h-4.00zM208.12 229.05h4.00v4.00h-4.00zM224.03 229.05h4.00v4.00h-4.00zM255.86 229.05h4.00v4.00h-4.00zM303.61 229.05h4.00v4.00h-4.00zM324.83 229.05h4.00v4.00h-4.00zM340.74 229.05h4.00v4.00h-4.00zM155.07 234.35h4.00v4.00h-4.00zM165.68 234.35h4.00v4.00h-4.00zM170.98 234.35h4.00v4.00h-4.00zM186.90 234.35h4.00v4.00h-4.00zM208.12 234.35h4.00v4.00h-4.00zM218.73 234.35h4.00v4.00h-4.00zM234.64 234.35h4.00v4.00h-4.00zM245.25 234.35h4.00v4.00h-4.00zM261.17 234.35h4.00v4.00h-4.00zM298.30 234.35h4.00v4.00h-4.00zM303.61 234.35h4.00v4.00h-4.00zM314.22 234.35h4.00v4.00h-4.00zM319.52 234.35h4.00v4.00h-4.00zM330.13 234.35h4.00v4.00h-4.00zM346.05 234.35h4.00v4.00h-4.00zM165.68 239.66h4.00v4.00h-4.00zM186.90 239.66h4.00v4.00h-4.00zM218.73 239.66h4.00v4.00h-4.00zM234.64 239.66h4.00v4.00h-4.00zM266.47 239.66h4.00v4.00h-4.00zM271.78 239.66h4.00v4.00h-4.00zM282.39 239.66h4.00v4.00h-4.00zM293.00 239.66h4.00v4.00h-4.00zM335.44 239.66h4.00v4.00h-4.00zM340.74 239.66h4.00v4.00h-4.00zM346.05 239.66h4.00v4.00h-4.00zM165.68 250.27h4.00v4.00h-4.00zM293.00 250.27h4.00v4.00h-4.00zM356.66 250.27h4.00v4.00h-4.00zM139.15 255.57h4.00v4.00h-4.00zM181.59 255.57h4.00v4.00h-4.00zM186.90 255.57h4.00v4.00h-4.00zM197.51 255.57h4.00v4.00h-4.00zM208.12 255.57h4.00v4.00h-4.00zM218.73 255.57h4.00v4.00h-4.00zM234.64 255.57h4.00v4.00h-4.00zM239.95 255.57h4.00v4.00h-4.00zM250.56 255.57h4.00v4.00h-4.00zM255.86 255.57h4.00v4.00h-4.00zM261.17 255.57h4.00v4.00h-4.00zM287.69 255.57h4.00v4.00h-4.00zM324.83 255.57h4.00v4.00h-4.00zM335.44 255.57h4.00v4.00h-4.00zM346.05 255.57h4.00v4.00h-4.00zM351.35 255.57h4.00v4.00h-4.00zM356.66 255.57h4.00v4.00h-4.00zM367.27 255.57h4.00v4.00h-4.00zM324.83 260.88h4.00v4.00h-4.00zM351.35 260.88h4.00v4.00h-4.00zM356.66 260.88h4.00v4.00h-4.00zM293.00 266.18h4.00v4.00h-4.00zM351.35 266.18h4.00v4.00h-4.00zM372.57 266.18h4.00v4.00h-4.00zM165.68 271.49h4.00v4.00h-4.00zM372.57 271.49h4.00v4.00h-4.00zM165.68 276.79h4.00v4.00h-4.00zM218.73 276.79h4.00v4.00h-4.00zM293.00 276.79h4.00v4.00h-4.00zM298.30 276.79h4.00v4.00h-4.00zM346.05 276.79h4.00v4.00h-4.00zM208.12 282.10h4.00v4.00h-4.00zM324.83 282.10h4.00v4.00h-4.00zM351.35 282.10h4.00v4.00h-4.00zM393.79 282.10h4.00v4.00h-4.00zM144.46 287.40h4.00v4.00h-4.00zM155.07 287.40h4.00v4.00h-4.00zM160.37 287.40h4.00v4.00h-4.00zM165.68 287.40h4.00v4.00h-4.00zM170.98 287.40h4.00v4.00h-4.00zM186.90 287.40h4.00v4.00h-4.00zM208.12 287.40h4.00v4.00h-4.00zM218.73 287.40h4.00v4.00h-4.00zM234.64 287.40h4.00v4.00h-4.00zM245.25 287.40h4.00v4.00h-4.00zM250.56 287.40h4.00v4.00h-4.00zM261.17 287.40h4.00v4.00h-4.00zM266.47 287.40h4.00v4.00h-4.00zM287.69 287.40h4.00v4.00h-4.00zM298.30 287.40h4.00v4.00h-4.00zM303.61 287.40h4.00v4.00h-4.00zM314.22 287.40h4.00v4.00h-4.00zM319.52 287.40h4.00v4.00h-4.00zM330.13 287.40h4.00v4.00h-4.00zM335.44 287.40h4.00v4.00h-4.00zM346.05 287.40h4.00v4.00h-4.00zM367.27 287.40h4.00v4.00h-4.00zM377.88 287.40h4.00v4.00h-4.00zM383.18 287.40h4.00v4.00h-4.00zM208.12 292.71h4.00v4.00h-4.00zM261.17 292.71h4.00v4.00h-4.00zM293.00 292.71h4.00v4.00h-4.00zM324.83 292.71h4.00v4.00h-4.00zM351.35 292.71h4.00v4.00h-4.00zM356.66 292.71h4.00v4.00h-4.00zM404.40 292.71h4.00v4.00h-4.00zM165.68 298.01h4.00v4.00h-4.00zM218.73 298.01h4.00v4.00h-4.00zM245.25 298.01h4.00v4.00h-4.00zM346.05 298.01h4.00v4.00h-4.00zM372.57 298.01h4.00v4.00h-4.00zM144.46 303.32h4.00v4.00h-4.00zM165.68 303.32h4.00v4.00h-4.00zM266.47 303.32h4.00v4.00h-4.00zM372.57 303.32h4.00v4.00h-4.00zM404.40 303.32h4.00v4.00h-4.00zM165.68 308.62h4.00v4.00h-4.00zM208.12 308.62h4.00v4.00h-4.00zM218.73 308.62h4.00v4.00h-4.00zM229.34 308.62h4.00v4.00h-4.00zM245.25 308.62h4.00v4.00h-4.00zM261.17 308.62h4.00v4.00h-4.00zM303.61 308.62h4.00v4.00h-4.00zM324.83 308.62h4.00v4.00h-4.00zM346.05 308.62h4.00v4.00h-4.00zM356.66 308.62h4.00v4.00h-4.00zM404.40 308.62h4.00v4.00h-4.00zM139.15 313.93h4.00v4.00h-4.00zM149.76 313.93h4.00v4.00h-4.00zM160.37 313.93h4.00v4.00h-4.00zM181.59 313.93h4.00v4.00h-4.00zM186.90 313.93h4.00v4.00h-4.00zM192.20 313.93h4.00v4.00h-4.00zM208.12 313.93h4.00v4.00h-4.00zM218.73 313.93h4.00v4.00h-4.00zM234.64 313.93h4.00v4.00h-4.00zM239.95 313.93h4.00v4.00h-4.00zM250.56 313.93h4.00v4.00h-4.00zM255.86 313.93h4.00v4.00h-4.00zM261.17 313.93h4.00v4.00h-4.00zM271.78 313.93h4.00v4.00h-4.00zM287.69 313.93h4.00v4.00h-4.00zM303.61 313.93h4.00v4.00h-4.00zM308.91 313.93h4.00v4.00h-4.00zM324.83 313.93h4.00v4.00h-4.00zM335.44 313.93h4.00v4.00h-4.00zM351.35 313.93h4.00v4.00h-4.00zM356.66 313.93h4.00v4.00h-4.00zM367.27 313.93h4.00v4.00h-4.00zM388.49 313.93h4.00v4.00h-4.00zM404.40 313.93h4.00v4.00h-4.00zM415.01 313.93h4.00v4.00h-4.00zM420.32 313.93h4.00v4.00h-4.00zM186.90 319.23h4.00v4.00h-4.00zM218.73 319.23h4.00v4.00h-4.00zM261.17 319.23h4.00v4.00h-4.00zM303.61 319.23h4.00v4.00h-4.00zM356.66 319.23h4.00v4.00h-4.00zM293.00 324.54h4.00v4.00h-4.00zM372.57 324.54h4.00v4.00h-4.00zM404.40 324.54h4.00v4.00h-4.00zM425.62 324.54h4.00v4.00h-4.00zM436.23 324.54h4.00v4.00h-4.00zM144.46 329.84h4.00v4.00h-4.00zM186.90 329.84h4.00v4.00h-4.00zM208.12 329.84h4.00v4.00h-4.00zM218.73 329.84h4.00v4.00h-4.00zM261.17 329.84h4.00v4.00h-4.00zM303.61 329.84h4.00v4.00h-4.00zM319.52 329.84h4.00v4.00h-4.00zM356.66 329.84h4.00v4.00h-4.00zM139.15 335.15h4.00v4.00h-4.00zM155.07 335.15h4.00v4.00h-4.00zM160.37 335.15h4.00v4.00h-4.00zM181.59 335.15h4.00v4.00h-4.00zM186.90 335.15h4.00v4.00h-4.00zM197.51 335.15h4.00v4.00h-4.00zM208.12 335.15h4.00v4.00h-4.00zM218.73 335.15h4.00v4.00h-4.00zM229.34 335.15h4.00v4.00h-4.00zM234.64 335.15h4.00v4.00h-4.00zM250.56 335.15h4.00v4.00h-4.00zM261.17 335.15h4.00v4.00h-4.00zM287.69 335.15h4.00v4.00h-4.00zM293.00 335.15h4.00v4.00h-4.00zM303.61 335.15h4.00v4.00h-4.00zM324.83 335.15h4.00v4.00h-4.00zM335.44 335.15h4.00v4.00h-4.00zM346.05 335.15h4.00v4.00h-4.00zM351.35 335.15h4.00v4.00h-4.00zM356.66 335.15h4.00v4.00h-4.00zM367.27 335.15h4.00v4.00h-4.00zM388.49 335.15h4.00v4.00h-4.00zM415.01 335.15h4.00v4.00h-4.00zM420.32 335.15h4.00v4.00h-4.00zM139.15 340.45h4.00v4.00h-4.00zM149.76 340.45h4.00v4.00h-4.00zM181.59 340.45h4.00v4.00h-4.00zM208.12 340.45h4.00v4.00h-4.00zM218.73 340.45h4.00v4.00h-4.00zM250.56 340.45h4.00v4.00h-4.00zM255.86 340.45h4.00v4.00h-4.00zM303.61 340.45h4.00v4.00h-4.00zM324.83 340.45h4.00v4.00h-4.00zM351.35 340.45h4.00v4.00h-4.00zM367.27 340.45h4.00v4.00h-4.00zM388.49 340.45h4.00v4.00h-4.00zM393.79 340.45h4.00v4.00h-4.00zM404.40 340.45h4.00v4.00h-4.00zM415.01 340.45h4.00v4.00h-4.00zM139.15 345.76h4.00v4.00h-4.00zM149.76 345.76h4.00v4.00h-4.00zM181.59 345.76h4.00v4.00h-4.00zM192.20 345.76h4.00v4.00h-4.00zM250.56 345.76h4.00v4.00h-4.00zM255.86 345.76h4.00v4.00h-4.00zM266.47 345.76h4.00v4.00h-4.00zM271.78 345.76h4.00v4.00h-4.00zM308.91 345.76h4.00v4.00h-4.00zM324.83 345.76h4.00v4.00h-4.00zM351.35 345.76h4.00v4.00h-4.00zM393.79 345.76h4.00v4.00h-4.00zM404.40 345.76h4.00v4.00h-4.00zM415.01 345.76h4.00v4.00h-4.00zM420.32 345.76h4.00v4.00h-4.00zM425.62 345.76h4.00v4.00h-4.00zM436.23 345.76h4.00v4.00h-4.00zM446.84 345.76h4.00v4.00h-4.00zM356.66 351.06h4.00v4.00h-4.00zM404.40 351.06h4.00v4.00h-4.00zM430.93 351.06h4.00v4.00h-4.00zM144.46 356.37h4.00v4.00h-4.00zM160.37 356.37h4.00v4.00h-4.00zM165.68 356.37h4.00v4.00h-4.00zM170.98 356.37h4.00v4.00h-4.00zM186.90 356.37h4.00v4.00h-4.00zM208.12 356.37h4.00v4.00h-4.00zM218.73 356.37h4.00v4.00h-4.00zM245.25 356.37h4.00v4.00h-4.00zM261.17 356.37h4.00v4.00h-4.00zM266.47 356.37h4.00v4.00h-4.00zM293.00 356.37h4.00v4.00h-4.00zM298.30 356.37h4.00v4.00h-4.00zM314.22 356.37h4.00v4.00h-4.00zM319.52 356.37h4.00v4.00h-4.00zM346.05 356.37h4.00v4.00h-4.00zM372.57 356.37h4.00v4.00h-4.00zM377.88 356.37h4.00v4.00h-4.00zM383.18 356.37h4.00v4.00h-4.00zM399.10 356.37h4.00v4.00h-4.00zM409.71 356.37h4.00v4.00h-4.00zM430.93 356.37h4.00v4.00h-4.00zM441.54 356.37h4.00v4.00h-4.00zM452.15 356.37h4.00v4.00h-4.00zM457.45 356.37h4.00v4.00h-4.00zM462.76 356.37h4.00v4.00h-4.00zM144.46 361.67h4.00v4.00h-4.00zM208.12 361.67h4.00v4.00h-4.00zM351.35 361.67h4.00v4.00h-4.00zM372.57 361.67h4.00v4.00h-4.00zM404.40 361.67h4.00v4.00h-4.00zM409.71 361.67h4.00v4.00h-4.00zM425.62 361.67h4.00v4.00h-4.00zM430.93 361.67h4.00v4.00h-4.00zM452.15 361.67h4.00v4.00h-4.00zM462.76 361.67h4.00v4.00h-4.00zM139.15 372.28h4.00v4.00h-4.00zM149.76 372.28h4.00v4.00h-4.00zM181.59 372.28h4.00v4.00h-4.00zM192.20 372.28h4.00v4.00h-4.00zM197.51 372.28h4.00v4.00h-4.00zM208.12 372.28h4.00v4.00h-4.00zM224.03 372.28h4.00v4.00h-4.00zM239.95 372.28h4.00v4.00h-4.00zM250.56 372.28h4.00v4.00h-4.00zM255.86 372.28h4.00v4.00h-4.00zM271.78 372.28h4.00v4.00h-4.00zM293.00 372.28h4.00v4.00h-4.00zM303.61 372.28h4.00v4.00h-4.00zM308.91 372.28h4.00v4.00h-4.00zM324.83 372.28h4.00v4.00h-4.00zM351.35 372.28h4.00v4.00h-4.00zM356.66 372.28h4.00v4.00h-4.00zM367.27 372.28h4.00v4.00h-4.00zM388.49 372.28h4.00v4.00h-4.00zM393.79 372.28h4.00v4.00h-4.00zM404.40 372.28h4.00v4.00h-4.00zM415.01 372.28h4.00v4.00h-4.00zM420.32 372.28h4.00v4.00h-4.00zM425.62 372.28h4.00v4.00h-4.00zM436.23 372.28h4.00v4.00h-4.00zM446.84 372.28h4.00v4.00h-4.00zM473.37 372.28h4.00v4.00h-4.00zM293.00 377.59h4.00v4.00h-4.00zM351.35 377.59h4.00v4.00h-4.00zM372.57 377.59h4.00v4.00h-4.00zM404.40 377.59h4.00v4.00h-4.00zM457.45 377.59h4.00v4.00h-4.00zM208.12 382.89h4.00v4.00h-4.00zM218.73 382.89h4.00v4.00h-4.00zM303.61 382.89h4.00v4.00h-4.00zM324.83 382.89h4.00v4.00h-4.00zM351.35 382.89h4.00v4.00h-4.00zM393.79 382.89h4.00v4.00h-4.00zM473.37 382.89h4.00v4.00h-4.00zM293.00 388.20h4.00v4.00h-4.00zM351.35 388.20h4.00v4.00h-4.00zM356.66 388.20h4.00v4.00h-4.00zM404.40 388.20h4.00v4.00h-4.00zM473.37 388.20h4.00v4.00h-4.00z" fill="#ececec"/>
<path d="M154.87 53.78h4.40v4.40h-4.40zM160.17 53.78h4.40v4.40h-4.40zM138.95 64.39h4.40v4.40h-4.40zM154.87 69.70h4.40v4.40h-4.40zM160.17 69.70h4.40v4.40h-4.40zM181.39 75.00h4.40v4.40h-4.40zM138.95 80.31h4.40v4.40h-4.40zM154.87 80.31h4.40v4.40h-4.40zM149.56 85.61h4.40v4.40h-4.40zM154.87 85.61h4.40v4.40h-4.40zM176.09 85.61h4.40v4.40h-4.40zM138.95 96.22h4.40v4.40h-4.40zM149.56 96.22h4.40v4.40h-4.40zM160.17 96.22h4.40v4.40h-4.40zM170.78 96.22h4.40v4.40h-4.40zM181.39 96.22h4.40v4.40h-4.40zM192.00 96.22h4.40v4.40h-4.40zM197.31 96.22h4.40v4.40h-4.40zM160.17 101.53h4.40v4.40h-4.40zM186.70 101.53h4.40v4.40h-4.40zM138.95 106.83h4.40v4.40h-4.40zM181.39 106.83h4.40v4.40h-4.40zM192.00 106.83h4.40v4.40h-4.40zM197.31 106.83h4.40v4.40h-4.40zM213.22 106.83h4.40v4.40h-4.40zM176.09 112.14h4.40v4.40h-4.40zM202.61 112.14h4.40v4.40h-4.40zM213.22 112.14h4.40v4.40h-4.40zM170.78 117.44h4.40v4.40h-4.40zM186.70 117.44h4.40v4.40h-4.40zM213.22 117.44h4.40v4.40h-4.40zM181.39 122.75h4.40v4.40h-4.40zM197.31 122.75h4.40v4.40h-4.40zM202.61 122.75h4.40v4.40h-4.40zM223.83 122.75h4.40v4.40h-4.40zM154.87 128.05h4.40v4.40h-4.40zM160.17 128.05h4.40v4.40h-4.40zM176.09 128.05h4.40v4.40h-4.40zM234.44 128.05h4.40v4.40h-4.40zM239.75 133.36h4.40v4.40h-4.40zM149.56 138.66h4.40v4.40h-4.40zM181.39 138.66h4.40v4.40h-4.40zM223.83 138.66h4.40v4.40h-4.40zM154.87 143.97h4.40v4.40h-4.40zM186.70 143.97h4.40v4.40h-4.40zM245.05 143.97h4.40v4.40h-4.40zM138.95 154.58h4.40v4.40h-4.40zM181.39 154.58h4.40v4.40h-4.40zM213.22 154.58h4.40v4.40h-4.40zM223.83 154.58h4.40v4.40h-4.40zM255.66 154.58h4.40v4.40h-4.40zM154.87 159.88h4.40v4.40h-4.40zM160.17 159.88h4.40v4.40h-4.40zM229.14 159.88h4.40v4.40h-4.40zM234.44 159.88h4.40v4.40h-4.40zM239.75 159.88h4.40v4.40h-4.40zM245.05 159.88h4.40v4.40h-4.40zM138.95 165.19h4.40v4.40h-4.40zM149.56 165.19h4.40v4.40h-4.40zM181.39 165.19h4.40v4.40h-4.40zM202.61 165.19h4.40v4.40h-4.40zM239.75 165.19h4.40v4.40h-4.40zM266.27 165.19h4.40v4.40h-4.40zM271.58 165.19h4.40v4.40h-4.40zM154.87 170.49h4.40v4.40h-4.40zM160.17 170.49h4.40v4.40h-4.40zM176.09 170.49h4.40v4.40h-4.40zM213.22 170.49h4.40v4.40h-4.40zM229.14 170.49h4.40v4.40h-4.40zM245.05 170.49h4.40v4.40h-4.40zM250.36 170.49h4.40v4.40h-4.40zM276.88 170.49h4.40v4.40h-4.40zM160.17 181.10h4.40v4.40h-4.40zM165.48 181.10h4.40v4.40h-4.40zM170.78 181.10h4.40v4.40h-4.40zM213.22 181.10h4.40v4.40h-4.40zM229.14 181.10h4.40v4.40h-4.40zM245.05 181.10h4.40v4.40h-4.40zM276.88 181.10h4.40v4.40h-4.40zM287.49 181.10h4.40v4.40h-4.40zM207.92 186.41h4.40v4.40h-4.40zM138.95 191.71h4.40v4.40h-4.40zM181.39 191.71h4.40v4.40h-4.40zM192.00 191.71h4.40v4.40h-4.40zM202.61 191.71h4.40v4.40h-4.40zM213.22 191.71h4.40v4.40h-4.40zM271.58 191.71h4.40v4.40h-4.40zM160.17 197.02h4.40v4.40h-4.40zM165.48 197.02h4.40v4.40h-4.40zM234.44 197.02h4.40v4.40h-4.40zM260.97 197.02h4.40v4.40h-4.40zM287.49 197.02h4.40v4.40h-4.40zM298.10 197.02h4.40v4.40h-4.40zM144.26 202.32h4.40v4.40h-4.40zM170.78 202.32h4.40v4.40h-4.40zM314.02 202.32h4.40v4.40h-4.40zM149.56 207.63h4.40v4.40h-4.40zM192.00 207.63h4.40v4.40h-4.40zM239.75 207.63h4.40v4.40h-4.40zM255.66 207.63h4.40v4.40h-4.40zM303.41 207.63h4.40v4.40h-4.40zM170.78 212.93h4.40v4.40h-4.40zM213.22 212.93h4.40v4.40h-4.40zM239.75 212.93h4.40v4.40h-4.40zM255.66 212.93h4.40v4.40h-4.40zM287.49 212.93h4.40v4.40h-4.40zM170.78 218.24h4.40v4.40h-4.40zM186.70 218.24h4.40v4.40h-4.40zM213.22 218.24h4.40v4.40h-4.40zM218.53 218.24h4.40v4.40h-4.40zM260.97 218.24h4.40v4.40h-4.40zM276.88 218.24h4.40v4.40h-4.40zM314.02 218.24h4.40v4.40h-4.40zM149.56 223.54h4.40v4.40h-4.40zM192.00 223.54h4.40v4.40h-4.40zM223.83 223.54h4.40v4.40h-4.40zM266.27 223.54h4.40v4.40h-4.40zM308.71 223.54h4.40v4.40h-4.40zM154.87 228.85h4.40v4.40h-4.40zM176.09 228.85h4.40v4.40h-4.40zM186.70 228.85h4.40v4.40h-4.40zM218.53 228.85h4.40v4.40h-4.40zM245.05 228.85h4.40v4.40h-4.40zM260.97 228.85h4.40v4.40h-4.40zM287.49 228.85h4.40v4.40h-4.40zM314.02 228.85h4.40v4.40h-4.40zM329.93 228.85h4.40v4.40h-4.40zM149.56 234.15h4.40v4.40h-4.40zM271.58 234.15h4.40v4.40h-4.40zM229.14 239.46h4.40v4.40h-4.40zM170.78 244.76h4.40v4.40h-4.40zM202.61 244.76h4.40v4.40h-4.40zM213.22 244.76h4.40v4.40h-4.40zM229.14 244.76h4.40v4.40h-4.40zM276.88 244.76h4.40v4.40h-4.40zM282.19 244.76h4.40v4.40h-4.40zM287.49 244.76h4.40v4.40h-4.40zM308.71 244.76h4.40v4.40h-4.40zM314.02 244.76h4.40v4.40h-4.40zM345.85 244.76h4.40v4.40h-4.40zM239.75 250.07h4.40v4.40h-4.40zM250.36 250.07h4.40v4.40h-4.40zM271.58 250.07h4.40v4.40h-4.40zM287.49 250.07h4.40v4.40h-4.40zM303.41 250.07h4.40v4.40h-4.40zM160.17 260.68h4.40v4.40h-4.40zM176.09 260.68h4.40v4.40h-4.40zM245.05 260.68h4.40v4.40h-4.40zM276.88 260.68h4.40v4.40h-4.40zM287.49 260.68h4.40v4.40h-4.40zM329.93 260.68h4.40v4.40h-4.40zM335.24 260.68h4.40v4.40h-4.40zM345.85 260.68h4.40v4.40h-4.40zM245.05 265.98h4.40v4.40h-4.40zM276.88 265.98h4.40v4.40h-4.40zM314.02 265.98h4.40v4.40h-4.40zM319.32 265.98h4.40v4.40h-4.40zM377.68 265.98h4.40v4.40h-4.40zM138.95 271.29h4.40v4.40h-4.40zM149.56 271.29h4.40v4.40h-4.40zM181.39 271.29h4.40v4.40h-4.40zM192.00 271.29h4.40v4.40h-4.40zM250.36 271.29h4.40v4.40h-4.40zM271.58 271.29h4.40v4.40h-4.40zM276.88 271.29h4.40v4.40h-4.40zM303.41 271.29h4.40v4.40h-4.40zM308.71 271.29h4.40v4.40h-4.40zM367.07 271.29h4.40v4.40h-4.40zM138.95 276.59h4.40v4.40h-4.40zM149.56 276.59h4.40v4.40h-4.40zM181.39 276.59h4.40v4.40h-4.40zM192.00 276.59h4.40v4.40h-4.40zM239.75 276.59h4.40v4.40h-4.40zM250.36 276.59h4.40v4.40h-4.40zM255.66 276.59h4.40v4.40h-4.40zM324.63 276.59h4.40v4.40h-4.40zM388.29 276.59h4.40v4.40h-4.40zM154.87 281.90h4.40v4.40h-4.40zM165.48 281.90h4.40v4.40h-4.40zM170.78 281.90h4.40v4.40h-4.40zM176.09 281.90h4.40v4.40h-4.40zM202.61 281.90h4.40v4.40h-4.40zM245.05 281.90h4.40v4.40h-4.40zM298.10 281.90h4.40v4.40h-4.40zM314.02 281.90h4.40v4.40h-4.40zM319.32 281.90h4.40v4.40h-4.40zM276.88 292.51h4.40v4.40h-4.40zM377.68 292.51h4.40v4.40h-4.40zM192.00 297.81h4.40v4.40h-4.40zM197.31 297.81h4.40v4.40h-4.40zM202.61 297.81h4.40v4.40h-4.40zM213.22 297.81h4.40v4.40h-4.40zM223.83 297.81h4.40v4.40h-4.40zM255.66 297.81h4.40v4.40h-4.40zM271.58 297.81h4.40v4.40h-4.40zM282.19 297.81h4.40v4.40h-4.40zM351.15 297.81h4.40v4.40h-4.40zM388.29 297.81h4.40v4.40h-4.40zM393.59 297.81h4.40v4.40h-4.40zM250.36 303.12h4.40v4.40h-4.40zM319.32 313.73h4.40v4.40h-4.40zM398.90 313.73h4.40v4.40h-4.40zM202.61 319.03h4.40v4.40h-4.40zM340.54 319.03h4.40v4.40h-4.40zM170.78 324.34h4.40v4.40h-4.40zM176.09 324.34h4.40v4.40h-4.40zM329.93 324.34h4.40v4.40h-4.40zM377.68 324.34h4.40v4.40h-4.40zM382.98 324.34h4.40v4.40h-4.40zM149.56 329.64h4.40v4.40h-4.40zM192.00 329.64h4.40v4.40h-4.40zM223.83 329.64h4.40v4.40h-4.40zM266.27 329.64h4.40v4.40h-4.40zM372.37 334.95h4.40v4.40h-4.40zM165.48 340.25h4.40v4.40h-4.40zM298.10 340.25h4.40v4.40h-4.40zM398.90 345.56h4.40v4.40h-4.40zM430.73 345.56h4.40v4.40h-4.40zM138.95 350.86h4.40v4.40h-4.40zM149.56 350.86h4.40v4.40h-4.40zM154.87 350.86h4.40v4.40h-4.40zM170.78 350.86h4.40v4.40h-4.40zM186.70 350.86h4.40v4.40h-4.40zM192.00 350.86h4.40v4.40h-4.40zM213.22 350.86h4.40v4.40h-4.40zM234.44 350.86h4.40v4.40h-4.40zM245.05 350.86h4.40v4.40h-4.40zM271.58 350.86h4.40v4.40h-4.40zM276.88 350.86h4.40v4.40h-4.40zM287.49 350.86h4.40v4.40h-4.40zM314.02 350.86h4.40v4.40h-4.40zM345.85 350.86h4.40v4.40h-4.40zM361.76 350.86h4.40v4.40h-4.40zM377.68 350.86h4.40v4.40h-4.40zM388.29 350.86h4.40v4.40h-4.40zM441.34 350.86h4.40v4.40h-4.40zM149.56 356.17h4.40v4.40h-4.40zM351.15 356.17h4.40v4.40h-4.40zM393.59 356.17h4.40v4.40h-4.40zM154.87 361.47h4.40v4.40h-4.40zM160.17 361.47h4.40v4.40h-4.40zM186.70 361.47h4.40v4.40h-4.40zM234.44 361.47h4.40v4.40h-4.40zM260.97 361.47h4.40v4.40h-4.40zM345.85 361.47h4.40v4.40h-4.40zM361.76 361.47h4.40v4.40h-4.40zM170.78 366.78h4.40v4.40h-4.40zM239.75 366.78h4.40v4.40h-4.40zM282.19 366.78h4.40v4.40h-4.40zM314.02 366.78h4.40v4.40h-4.40zM319.32 366.78h4.40v4.40h-4.40zM329.93 366.78h4.40v4.40h-4.40zM340.54 366.78h4.40v4.40h-4.40zM361.76 366.78h4.40v4.40h-4.40zM377.68 366.78h4.40v4.40h-4.40zM382.98 366.78h4.40v4.40h-4.40zM388.29 366.78h4.40v4.40h-4.40zM398.90 366.78h4.40v4.40h-4.40zM409.51 366.78h4.40v4.40h-4.40zM467.86 366.78h4.40v4.40h-4.40zM165.48 372.08h4.40v4.40h-4.40zM245.05 372.08h4.40v4.40h-4.40zM314.02 372.08h4.40v4.40h-4.40zM319.32 372.08h4.40v4.40h-4.40zM377.68 372.08h4.40v4.40h-4.40zM382.98 372.08h4.40v4.40h-4.40zM430.73 372.08h4.40v4.40h-4.40zM154.87 377.39h4.40v4.40h-4.40zM160.17 377.39h4.40v4.40h-4.40zM170.78 377.39h4.40v4.40h-4.40zM176.09 377.39h4.40v4.40h-4.40zM192.00 377.39h4.40v4.40h-4.40zM207.92 377.39h4.40v4.40h-4.40zM239.75 377.39h4.40v4.40h-4.40zM245.05 377.39h4.40v4.40h-4.40zM255.66 377.39h4.40v4.40h-4.40zM276.88 377.39h4.40v4.40h-4.40zM314.02 377.39h4.40v4.40h-4.40zM329.93 377.39h4.40v4.40h-4.40zM367.07 377.39h4.40v4.40h-4.40zM377.68 377.39h4.40v4.40h-4.40zM382.98 377.39h4.40v4.40h-4.40zM441.34 377.39h4.40v4.40h-4.40zM467.86 377.39h4.40v4.40h-4.40zM154.87 382.69h4.40v4.40h-4.40zM276.88 382.69h4.40v4.40h-4.40zM298.10 382.69h4.40v4.40h-4.40zM361.76 382.69h4.40v4.40h-4.40zM436.03 382.69h4.40v4.40h-4.40zM160.17 388.00h4.40v4.40h-4.40zM170.78 388.00h4.40v4.40h-4.40zM176.09 388.00h4.40v4.40h-4.40zM276.88 388.00h4.40v4.40h-4.40zM329.93 388.00h4.40v4.40h-4.40zM382.98 388.00h4.40v4.40h-4.40zM409.51 388.00h4.40v4.40h-4.40zM441.34 388.00h4.40v4.40h-4.40zM467.86 388.00h4.40v4.40h-4.40zM494.39 388.00h4.40v4.40h-4.40zM138.95 393.30h4.40v4.40h-4.40zM149.56 393.30h4.40v4.40h-4.40zM160.17 393.30h4.40v4.40h-4.40zM170.78 393.30h4.40v4.40h-4.40zM181.39 393.30h4.40v4.40h-4.40zM197.31 393.30h4.40v4.40h-4.40zM223.83 393.30h4.40v4.40h-4.40zM271.58 393.30h4.40v4.40h-4.40zM282.19 393.30h4.40v4.40h-4.40zM298.10 393.30h4.40v4.40h-4.40zM314.02 393.30h4.40v4.40h-4.40zM335.24 393.30h4.40v4.40h-4.40zM361.76 393.30h4.40v4.40h-4.40zM367.07 393.30h4.40v4.40h-4.40zM398.90 393.30h4.40v4.40h-4.40zM467.86 393.30h4.40v4.40h-4.40zM494.39 393.30h4.40v4.40h-4.40zM154.87 398.61h4.40v4.40h-4.40zM160.17 398.61h4.40v4.40h-4.40zM170.78 398.61h4.40v4.40h-4.40zM202.61 398.61h4.40v4.40h-4.40zM223.83 398.61h4.40v4.40h-4.40zM229.14 398.61h4.40v4.40h-4.40zM255.66 398.61h4.40v4.40h-4.40zM282.19 398.61h4.40v4.40h-4.40zM287.49 398.61h4.40v4.40h-4.40zM314.02 398.61h4.40v4.40h-4.40zM324.63 398.61h4.40v4.40h-4.40zM335.24 398.61h4.40v4.40h-4.40zM340.54 398.61h4.40v4.40h-4.40zM361.76 398.61h4.40v4.40h-4.40zM382.98 398.61h4.40v4.40h-4.40zM388.29 398.61h4.40v4.40h-4.40zM393.59 398.61h4.40v4.40h-4.40zM446.64 398.61h4.40v4.40h-4.40zM494.39 398.61h4.40v4.40h-4.40z" fill="#2371b6"/>
<circle cx="141.15" cy="50.68" r="0.8" fill="#f2b89e"/>
<circle cx="146.46" cy="50.68" r="0.8" fill="#f2b89e"/>
<circle cx="151.76" cy="50.68" r="0.8" fill="#f2b89e"/>
<circle cx="167.68" cy="77.20" r="0.8" fill="#f2b89e"/>
<circle cx="167.68" cy="82.51" r="0.8" fill="#f2b89e"/>
<circle cx="167.68" cy="93.12" r="0.8" fill="#f2b89e"/>
<circle cx="199.51" cy="93.12" r="0.8" fill="#f2b89e"/>
<circle cx="204.81" cy="93.12" r="0.8" fill="#f2b89e"/>
<circle cx="146.46" cy="103.73" r="0.8" fill="#f2b89e"/>
<circle cx="183.59" cy="103.73" r="0.8" fill="#f2b89e"/>
<circle cx="204.81" cy="103.73" r="0.8" fill="#f2b89e"/>
<circle cx="210.12" cy="103.73" r="0.8" fill="#f2b89e"/>
<circle cx="167.68" cy="109.03" r="0.8" fill="#f2b89e"/>
<circle cx="188.90" cy="109.03" r="0.8" fill="#f2b89e"/>
<circle cx="210.12" cy="109.03" r="0.8" fill="#f2b89e"/>
<circle cx="220.73" cy="109.03" r="0.8" fill="#f2b89e"/>
<circle cx="167.68" cy="124.95" r="0.8" fill="#f2b89e"/>
<circle cx="146.46" cy="135.56" r="0.8" fill="#f2b89e"/>
<circle cx="146.46" cy="146.17" r="0.8" fill="#f2b89e"/>
<circle cx="210.12" cy="146.17" r="0.8" fill="#f2b89e"/>
<circle cx="188.90" cy="151.47" r="0.8" fill="#f2b89e"/>
<circle cx="210.12" cy="151.47" r="0.8" fill="#f2b89e"/>
<circle cx="220.73" cy="151.47" r="0.8" fill="#f2b89e"/>
<circle cx="252.56" cy="151.47" r="0.8" fill="#f2b89e"/>
<circle cx="263.17" cy="151.47" r="0.8" fill="#f2b89e"/>
<circle cx="146.46" cy="156.78" r="0.8" fill="#f2b89e"/>
<circle cx="167.68" cy="156.78" r="0.8" fill="#f2b89e"/>
<circle cx="210.12" cy="167.39" r="0.8" fill="#f2b89e"/>
<circle cx="146.46" cy="172.69" r="0.8" fill="#f2b89e"/>
<circle cx="210.12" cy="172.69" r="0.8" fill="#f2b89e"/>
<circle cx="146.46" cy="178.00" r="0.8" fill="#f2b89e"/>
<circle cx="188.90" cy="178.00" r="0.8" fill="#f2b89e"/>
<circle cx="220.73" cy="178.00" r="0.8" fill="#f2b89e"/>
<circle cx="247.25" cy="178.00" r="0.8" fill="#f2b89e"/>
<circle cx="257.86" cy="178.00" r="0.8" fill="#f2b89e"/>
<circle cx="210.12" cy="183.30" r="0.8" fill="#f2b89e"/>
<circle cx="167.68" cy="188.61" r="0.8" fill="#f2b89e"/>
<circle cx="268.47" cy="188.61" r="0.8" fill="#f2b89e"/>
<circle cx="300.30" cy="188.61" r="0.8" fill="#f2b89e"/>
<circle cx="167.68" cy="193.91" r="0.8" fill="#f2b89e"/>
<circle cx="220.73" cy="193.91" r="0.8" fill="#f2b89e"/>
<circle cx="146.46" cy="209.83" r="0.8" fill="#f2b89e"/>
<circle cx="172.98" cy="209.83" r="0.8" fill="#f2b89e"/>
<circle cx="188.90" cy="209.83" r="0.8" fill="#f2b89e"/>
<circle cx="220.73" cy="209.83" r="0.8" fill="#f2b89e"/>
<circle cx="236.64" cy="209.83" r="0.8" fill="#f2b89e"/>
<circle cx="247.25" cy="209.83" r="0.8" fill="#f2b89e"/>
<circle cx="263.17" cy="209.83" r="0.8" fill="#f2b89e"/>
<circle cx="295.00" cy="209.83" r="0.8" fill="#f2b89e"/>
<circle cx="300.30" cy="209.83" r="0.8" fill="#f2b89e"/>
<circle cx="321.52" cy="209.83" r="0.8" fill="#f2b89e"/>
<circle cx="146.46" cy="220.44" r="0.8" fill="#f2b89e"/>
<circle cx="188.90" cy="225.74" r="0.8" fill="#f2b89e"/>
<circle cx="220.73" cy="225.74" r="0.8" fill="#f2b89e"/>
<circle cx="252.56" cy="225.74" r="0.8" fill="#f2b89e"/>
<circle cx="263.17" cy="225.74" r="0.8" fill="#f2b89e"/>
<circle cx="146.46" cy="231.05" r="0.8" fill="#f2b89e"/>
<circle cx="151.76" cy="231.05" r="0.8" fill="#f2b89e"/>
<circle cx="183.59" cy="231.05" r="0.8" fill="#f2b89e"/>
<circle cx="210.12" cy="231.05" r="0.8" fill="#f2b89e"/>
<circle cx="226.03" cy="231.05" r="0.8" fill="#f2b89e"/>
<circle cx="257.86" cy="231.05" r="0.8" fill="#f2b89e"/>
<circle cx="305.61" cy="231.05" r="0.8" fill="#f2b89e"/>
<circle cx="342.74" cy="231.05" r="0.8" fill="#f2b89e"/>
<circle cx="157.07" cy="236.35" r="0.8" fill="#f2b89e"/>
<circle cx="172.98" cy="236.35" r="0.8" fill="#f2b89e"/>
<circle cx="188.90" cy="236.35" r="0.8" fill="#f2b89e"/>
<circle cx="210.12" cy="236.35" r="0.8" fill="#f2b89e"/>
<circle cx="236.64" cy="236.35" r="0.8" fill="#f2b89e"/>
<circle cx="247.25" cy="236.35" r="0.8" fill="#f2b89e"/>
<circle cx="263.17" cy="236.35" r="0.8" fill="#f2b89e"/>
<circle cx="300.30" cy="236.35" r="0.8" fill="#f2b89e"/>
<circle cx="305.61" cy="236.35" r="0.8" fill="#f2b89e"/>
<circle cx="332.13" cy="236.35" r="0.8" fill="#f2b89e"/>
<circle cx="348.05" cy="236.35" r="0.8" fill="#f2b89e"/>
<circle cx="167.68" cy="241.66" r="0.8" fill="#f2b89e"/>
<circle cx="188.90" cy="241.66" r="0.8" fill="#f2b89e"/>
<circle cx="236.64" cy="241.66" r="0.8" fill="#f2b89e"/>
<circle cx="273.78" cy="241.66" r="0.8" fill="#f2b89e"/>
<circle cx="284.39" cy="241.66" r="0.8" fill="#f2b89e"/>
<circle cx="295.00" cy="241.66" r="0.8" fill="#f2b89e"/>
<circle cx="337.44" cy="241.66" r="0.8" fill="#f2b89e"/>
<circle cx="342.74" cy="241.66" r="0.8" fill="#f2b89e"/>
<circle cx="348.05" cy="241.66" r="0.8" fill="#f2b89e"/>
<circle cx="167.68" cy="252.27" r="0.8" fill="#f2b89e"/>
<circle cx="295.00" cy="252.27" r="0.8" fill="#f2b89e"/>
<circle cx="358.66" cy="252.27" r="0.8" fill="#f2b89e"/>
<circle cx="141.15" cy="257.57" r="0.8" fill="#f2b89e"/>
<circle cx="183.59" cy="257.57" r="0.8" fill="#f2b89e"/>
<circle cx="199.51" cy="257.57" r="0.8" fill="#f2b89e"/>
<circle cx="220.73" cy="257.57" r="0.8" fill="#f2b89e"/>
<circle cx="236.64" cy="257.57" r="0.8" fill="#f2b89e"/>
<circle cx="241.95" cy="257.57" r="0.8" fill="#f2b89e"/>
<circle cx="257.86" cy="257.57" r="0.8" fill="#f2b89e"/>
<circle cx="263.17" cy="257.57" r="0.8" fill="#f2b89e"/>
<circle cx="289.69" cy="257.57" r="0.8" fill="#f2b89e"/>
<circle cx="326.83" cy="257.57" r="0.8" fill="#f2b89e"/>
<circle cx="337.44" cy="257.57" r="0.8" fill="#f2b89e"/>
<circle cx="348.05" cy="257.57" r="0.8" fill="#f2b89e"/>
<circle cx="353.35" cy="257.57" r="0.8" fill="#f2b89e"/>
<circle cx="369.27" cy="257.57" r="0.8" fill="#f2b89e"/>
<circle cx="326.83" cy="262.88" r="0.8" fill="#f2b89e"/>
<circle cx="353.35" cy="262.88" r="0.8" fill="#f2b89e"/>
<circle cx="358.66" cy="262.88" r="0.8" fill="#f2b89e"/>
<circle cx="295.00" cy="268.18" r="0.8" fill="#f2b89e"/>
<circle cx="374.57" cy="268.18" r="0.8" fill="#f2b89e"/>
<circle cx="167.68" cy="273.49" r="0.8" fill="#f2b89e"/>
<circle cx="374.57" cy="273.49" r="0.8" fill="#f2b89e"/>
<circle cx="220.73" cy="278.79" r="0.8" fill="#f2b89e"/>
<circle cx="295.00" cy="278.79" r="0.8" fill="#f2b89e"/>
<circle cx="300.30" cy="278.79" r="0.8" fill="#f2b89e"/>
<circle cx="348.05" cy="278.79" r="0.8" fill="#f2b89e"/>
<circle cx="210.12" cy="284.10" r="0.8" fill="#f2b89e"/>
<circle cx="326.83" cy="284.10" r="0.8" fill="#f2b89e"/>
<circle cx="353.35" cy="284.10" r="0.8" fill="#f2b89e"/>
<circle cx="395.79" cy="284.10" r="0.8" fill="#f2b89e"/>
<circle cx="146.46" cy="289.40" r="0.8" fill="#f2b89e"/>
<circle cx="157.07" cy="289.40" r="0.8" fill="#f2b89e"/>
<circle cx="162.37" cy="289.40" r="0.8" fill="#f2b89e"/>
<circle cx="167.68" cy="289.40" r="0.8" fill="#f2b89e"/>
<circle cx="172.98" cy="289.40" r="0.8" fill="#f2b89e"/>
<circle cx="210.12" cy="289.40" r="0.8" fill="#f2b89e"/>
<circle cx="252.56" cy="289.40" r="0.8" fill="#f2b89e"/>
<circle cx="268.47" cy="289.40" r="0.8" fill="#f2b89e"/>
<circle cx="300.30" cy="289.40" r="0.8" fill="#f2b89e"/>
<circle cx="305.61" cy="289.40" r="0.8" fill="#f2b89e"/>
<circle cx="321.52" cy="289.40" r="0.8" fill="#f2b89e"/>
<circle cx="332.13" cy="289.40" r="0.8" fill="#f2b89e"/>
<circle cx="385.18" cy="289.40" r="0.8" fill="#f2b89e"/>
<circle cx="210.12" cy="294.71" r="0.8" fill="#f2b89e"/>
<circle cx="263.17" cy="294.71" r="0.8" fill="#f2b89e"/>
<circle cx="295.00" cy="294.71" r="0.8" fill="#f2b89e"/>
<circle cx="326.83" cy="294.71" r="0.8" fill="#f2b89e"/>
<circle cx="353.35" cy="294.71" r="0.8" fill="#f2b89e"/>
<circle cx="406.40" cy="294.71" r="0.8" fill="#f2b89e"/>
<circle cx="167.68" cy="300.01" r="0.8" fill="#f2b89e"/>
<circle cx="220.73" cy="300.01" r="0.8" fill="#f2b89e"/>
<circle cx="247.25" cy="300.01" r="0.8" fill="#f2b89e"/>
<circle cx="348.05" cy="300.01" r="0.8" fill="#f2b89e"/>
<circle cx="374.57" cy="300.01" r="0.8" fill="#f2b89e"/>
<circle cx="146.46" cy="305.32" r="0.8" fill="#f2b89e"/>
<circle cx="167.68" cy="305.32" r="0.8" fill="#f2b89e"/>
<circle cx="268.47" cy="305.32" r="0.8" fill="#f2b89e"/>
<circle cx="374.57" cy="305.32" r="0.8" fill="#f2b89e"/>
<circle cx="406.40" cy="305.32" r="0.8" fill="#f2b89e"/>
<circle cx="167.68" cy="310.62" r="0.8" fill="#f2b89e"/>
<circle cx="220.73" cy="310.62" r="0.8" fill="#f2b89e"/>
<circle cx="231.34" cy="310.62" r="0.8" fill="#f2b89e"/>
<circle cx="247.25" cy="310.62" r="0.8" fill="#f2b89e"/>
<circle cx="263.17" cy="310.62" r="0.8" fill="#f2b89e"/>
<circle cx="305.61" cy="310.62" r="0.8" fill="#f2b89e"/>
<circle cx="326.83" cy="310.62" r="0.8" fill="#f2b89e"/>
<circle cx="348.05" cy="310.62" r="0.8" fill="#f2b89e"/>
<circle cx="406.40" cy="310.62" r="0.8" fill="#f2b89e"/>
<circle cx="141.15" cy="315.93" r="0.8" fill="#f2b89e"/>
<circle cx="151.76" cy="315.93" r="0.8" fill="#f2b89e"/>
<circle cx="162.37" cy="315.93" r="0.8" fill="#f2b89e"/>
<circle cx="188.90" cy="315.93" r="0.8" fill="#f2b89e"/>
<circle cx="194.20" cy="315.93" r="0.8" fill="#f2b89e"/>
<circle cx="210.12" cy="315.93" r="0.8" fill="#f2b89e"/>
<circle cx="220.73" cy="315.93" r="0.8" fill="#f2b89e"/>
<circle cx="236.64" cy="315.93" r="0.8" fill="#f2b89e"/>
<circle cx="241.95" cy="315.93" r="0.8" fill="#f2b89e"/>
<circle cx="257.86" cy="315.93" r="0.8" fill="#f2b89e"/>
<circle cx="263.17" cy="315.93" r="0.8" fill="#f2b89e"/>
<circle cx="289.69" cy="315.93" r="0.8" fill="#f2b89e"/>
<circle cx="310.91" cy="315.93" r="0.8" fill="#f2b89e"/>
<circle cx="337.44" cy="315.93" r="0.8" fill="#f2b89e"/>
<circle cx="358.66" cy="315.93" r="0.8" fill="#f2b89e"/>
<circle cx="390.49" cy="315.93" r="0.8" fill="#f2b89e"/>
<circle cx="406.40" cy="315.93" r="0.8" fill="#f2b89e"/>
<circle cx="417.01" cy="315.93" r="0.8" fill="#f2b89e"/>
<circle cx="188.90" cy="321.23" r="0.8" fill="#f2b89e"/>
<circle cx="263.17" cy="321.23" r="0.8" fill="#f2b89e"/>
<circle cx="358.66" cy="321.23" r="0.8" fill="#f2b89e"/>
<circle cx="295.00" cy="326.54" r="0.8" fill="#f2b89e"/>
<circle cx="406.40" cy="326.54" r="0.8" fill="#f2b89e"/>
<circle cx="438.23" cy="326.54" r="0.8" fill="#f2b89e"/>
<circle cx="146.46" cy="331.84" r="0.8" fill="#f2b89e"/>
<circle cx="188.90" cy="331.84" r="0.8" fill="#f2b89e"/>
<circle cx="210.12" cy="331.84" r="0.8" fill="#f2b89e"/>
<circle cx="220.73" cy="331.84" r="0.8" fill="#f2b89e"/>
<circle cx="263.17" cy="331.84" r="0.8" fill="#f2b89e"/>
<circle cx="305.61" cy="331.84" r="0.8" fill="#f2b89e"/>
<circle cx="321.52" cy="331.84" r="0.8" fill="#f2b89e"/>
<circle cx="358.66" cy="331.84" r="0.8" fill="#f2b89e"/>
<circle cx="141.15" cy="337.15" r="0.8" fill="#f2b89e"/>
<circle cx="157.07" cy="337.15" r="0.8" fill="#f2b89e"/>
<circle cx="162.37" cy="337.15" r="0.8" fill="#f2b89e"/>
<circle cx="183.59" cy="337.15" r="0.8" fill="#f2b89e"/>
<circle cx="188.90" cy="337.15" r="0.8" fill="#f2b89e"/>
<circle cx="199.51" cy="337.15" r="0.8" fill="#f2b89e"/>
<circle cx="210.12" cy="337.15" r="0.8" fill="#f2b89e"/>
<circle cx="231.34" cy="337.15" r="0.8" fill="#f2b89e"/>
<circle cx="263.17" cy="337.15" r="0.8" fill="#f2b89e"/>
<circle cx="289.69" cy="337.15" r="0.8" fill="#f2b89e"/>
<circle cx="295.00" cy="337.15" r="0.8" fill="#f2b89e"/>
<circle cx="305.61" cy="337.15" r="0.8" fill="#f2b89e"/>
<circle cx="326.83" cy="337.15" r="0.8" fill="#f2b89e"/>
<circle cx="337.44" cy="337.15" r="0.8" fill="#f2b89e"/>
<circle cx="348.05" cy="337.15" r="0.8" fill="#f2b89e"/>
<circle cx="353.35" cy="337.15" r="0.8" fill="#f2b89e"/>
<circle cx="369.27" cy="337.15" r="0.8" fill="#f2b89e"/>
<circle cx="390.49" cy="337.15" r="0.8" fill="#f2b89e"/>
<circle cx="417.01" cy="337.15" r="0.8" fill="#f2b89e"/>
<circle cx="141.15" cy="342.45" r="0.8" fill="#f2b89e"/>
<circle cx="151.76" cy="342.45" r="0.8" fill="#f2b89e"/>
<circle cx="183.59" cy="342.45" r="0.8" fill="#f2b89e"/>
<circle cx="220.73" cy="342.45" r="0.8" fill="#f2b89e"/>
<circle cx="252.56" cy="342.45" r="0.8" fill="#f2b89e"/>
<circle cx="257.86" cy="342.45" r="0.8" fill="#f2b89e"/>
<circle cx="353.35" cy="342.45" r="0.8" fill="#f2b89e"/>
<circle cx="369.27" cy="342.45" r="0.8" fill="#f2b89e"/>
<circle cx="390.49" cy="342.45" r="0.8" fill="#f2b89e"/>
<circle cx="395.79" cy="342.45" r="0.8" fill="#f2b89e"/>
<circle cx="406.40" cy="342.45" r="0.8" fill="#f2b89e"/>
<circle cx="417.01" cy="342.45" r="0.8" fill="#f2b89e"/>
<circle cx="141.15" cy="347.76" r="0.8" fill="#f2b89e"/>
<circle cx="151.76" cy="347.76" r="0.8" fill="#f2b89e"/>
<circle cx="183.59" cy="347.76" r="0.8" fill="#f2b89e"/>
<circle cx="194.20" cy="347.76" r="0.8" fill="#f2b89e"/>
<circle cx="252.56" cy="347.76" r="0.8" fill="#f2b89e"/>
<circle cx="257.86" cy="347.76" r="0.8" fill="#f2b89e"/>
<circle cx="268.47" cy="347.76" r="0.8" fill="#f2b89e"/>
<circle cx="273.78" cy="347.76" r="0.8" fill="#f2b89e"/>
<circle cx="310.91" cy="347.76" r="0.8" fill="#f2b89e"/>
<circle cx="395.79" cy="347.76" r="0.8" fill="#f2b89e"/>
<circle cx="406.40" cy="347.76" r="0.8" fill="#f2b89e"/>
<circle cx="417.01" cy="347.76" r="0.8" fill="#f2b89e"/>
<circle cx="422.32" cy="347.76" r="0.8" fill="#f2b89e"/>
<circle cx="427.62" cy="347.76" r="0.8" fill="#f2b89e"/>
<circle cx="438.23" cy="347.76" r="0.8" fill="#f2b89e"/>
<circle cx="448.84" cy="347.76" r="0.8" fill="#f2b89e"/>
<circle cx="358.66" cy="353.06" r="0.8" fill="#f2b89e"/>
<circle cx="406.40" cy="353.06" r="0.8" fill="#f2b89e"/>
<circle cx="432.93" cy="353.06" r="0.8" fill="#f2b89e"/>
<circle cx="146.46" cy="358.37" r="0.8" fill="#f2b89e"/>
<circle cx="162.37" cy="358.37" r="0.8" fill="#f2b89e"/>
<circle cx="172.98" cy="358.37" r="0.8" fill="#f2b89e"/>
<circle cx="188.90" cy="358.37" r="0.8" fill="#f2b89e"/>
<circle cx="210.12" cy="358.37" r="0.8" fill="#f2b89e"/>
<circle cx="263.17" cy="358.37" r="0.8" fill="#f2b89e"/>
<circle cx="268.47" cy="358.37" r="0.8" fill="#f2b89e"/>
<circle cx="295.00" cy="358.37" r="0.8" fill="#f2b89e"/>
<circle cx="300.30" cy="358.37" r="0.8" fill="#f2b89e"/>
<circle cx="316.22" cy="358.37" r="0.8" fill="#f2b89e"/>
<circle cx="321.52" cy="358.37" r="0.8" fill="#f2b89e"/>
<circle cx="379.88" cy="358.37" r="0.8" fill="#f2b89e"/>
<circle cx="385.18" cy="358.37" r="0.8" fill="#f2b89e"/>
<circle cx="401.10" cy="358.37" r="0.8" fill="#f2b89e"/>
<circle cx="411.71" cy="358.37" r="0.8" fill="#f2b89e"/>
<circle cx="443.54" cy="358.37" r="0.8" fill="#f2b89e"/>
<circle cx="146.46" cy="363.67" r="0.8" fill="#f2b89e"/>
<circle cx="210.12" cy="363.67" r="0.8" fill="#f2b89e"/>
<circle cx="353.35" cy="363.67" r="0.8" fill="#f2b89e"/>
<circle cx="411.71" cy="363.67" r="0.8" fill="#f2b89e"/>
<circle cx="427.62" cy="363.67" r="0.8" fill="#f2b89e"/>
<circle cx="464.76" cy="363.67" r="0.8" fill="#f2b89e"/>
<circle cx="141.15" cy="374.28" r="0.8" fill="#f2b89e"/>
<circle cx="194.20" cy="374.28" r="0.8" fill="#f2b89e"/>
<circle cx="199.51" cy="374.28" r="0.8" fill="#f2b89e"/>
<circle cx="210.12" cy="374.28" r="0.8" fill="#f2b89e"/>
<circle cx="226.03" cy="374.28" r="0.8" fill="#f2b89e"/>
<circle cx="241.95" cy="374.28" r="0.8" fill="#f2b89e"/>
<circle cx="257.86" cy="374.28" r="0.8" fill="#f2b89e"/>
<circle cx="295.00" cy="374.28" r="0.8" fill="#f2b89e"/>
<circle cx="305.61" cy="374.28" r="0.8" fill="#f2b89e"/>
<circle cx="310.91" cy="374.28" r="0.8" fill="#f2b89e"/>
<circle cx="358.66" cy="374.28" r="0.8" fill="#f2b89e"/>
<circle cx="369.27" cy="374.28" r="0.8" fill="#f2b89e"/>
<circle cx="390.49" cy="374.28" r="0.8" fill="#f2b89e"/>
<circle cx="438.23" cy="374.28" r="0.8" fill="#f2b89e"/>
<circle cx="448.84" cy="374.28" r="0.8" fill="#f2b89e"/>
<circle cx="353.35" cy="379.59" r="0.8" fill="#f2b89e"/>
<circle cx="374.57" cy="379.59" r="0.8" fill="#f2b89e"/>
<circle cx="406.40" cy="379.59" r="0.8" fill="#f2b89e"/>
<circle cx="459.45" cy="379.59" r="0.8" fill="#f2b89e"/>
<circle cx="220.73" cy="384.89" r="0.8" fill="#f2b89e"/>
<circle cx="326.83" cy="384.89" r="0.8" fill="#f2b89e"/>
<circle cx="353.35" cy="384.89" r="0.8" fill="#f2b89e"/>
<circle cx="395.79" cy="384.89" r="0.8" fill="#f2b89e"/>
<circle cx="475.37" cy="384.89" r="0.8" fill="#f2b89e"/>
<circle cx="295.00" cy="390.20" r="0.8" fill="#f2b89e"/>
<circle cx="358.66" cy="390.20" r="0.8" fill="#f2b89e"/>
<circle cx="167.68" cy="66.59" r="0.85" fill="#e4886c"/>
<circle cx="167.68" cy="135.56" r="0.85" fill="#e4886c"/>
<circle cx="167.68" cy="140.86" r="0.85" fill="#e4886c"/>
<circle cx="210.12" cy="178.00" r="0.85" fill="#e4886c"/>
<circle cx="295.00" cy="188.61" r="0.85" fill="#e4886c"/>
<circle cx="326.83" cy="231.05" r="0.85" fill="#e4886c"/>
<circle cx="220.73" cy="236.35" r="0.85" fill="#e4886c"/>
<circle cx="316.22" cy="236.35" r="0.85" fill="#e4886c"/>
<circle cx="321.52" cy="236.35" r="0.85" fill="#e4886c"/>
<circle cx="220.73" cy="241.66" r="0.85" fill="#e4886c"/>
<circle cx="268.47" cy="241.66" r="0.85" fill="#e4886c"/>
<circle cx="188.90" cy="257.57" r="0.85" fill="#e4886c"/>
<circle cx="210.12" cy="257.57" r="0.85" fill="#e4886c"/>
<circle cx="252.56" cy="257.57" r="0.85" fill="#e4886c"/>
<circle cx="358.66" cy="257.57" r="0.85" fill="#e4886c"/>
<circle cx="353.35" cy="268.18" r="0.85" fill="#e4886c"/>
<circle cx="167.68" cy="278.79" r="0.85" fill="#e4886c"/>
<circle cx="236.64" cy="289.40" r="0.85" fill="#e4886c"/>
<circle cx="247.25" cy="289.40" r="0.85" fill="#e4886c"/>
<circle cx="263.17" cy="289.40" r="0.85" fill="#e4886c"/>
<circle cx="289.69" cy="289.40" r="0.85" fill="#e4886c"/>
<circle cx="316.22" cy="289.40" r="0.85" fill="#e4886c"/>
<circle cx="337.44" cy="289.40" r="0.85" fill="#e4886c"/>
<circle cx="369.27" cy="289.40" r="0.85" fill="#e4886c"/>
<circle cx="379.88" cy="289.40" r="0.85" fill="#e4886c"/>
<circle cx="358.66" cy="294.71" r="0.85" fill="#e4886c"/>
<circle cx="358.66" cy="310.62" r="0.85" fill="#e4886c"/>
<circle cx="183.59" cy="315.93" r="0.85" fill="#e4886c"/>
<circle cx="252.56" cy="315.93" r="0.85" fill="#e4886c"/>
<circle cx="273.78" cy="315.93" r="0.85" fill="#e4886c"/>
<circle cx="305.61" cy="315.93" r="0.85" fill="#e4886c"/>
<circle cx="353.35" cy="315.93" r="0.85" fill="#e4886c"/>
<circle cx="369.27" cy="315.93" r="0.85" fill="#e4886c"/>
<circle cx="422.32" cy="315.93" r="0.85" fill="#e4886c"/>
<circle cx="220.73" cy="321.23" r="0.85" fill="#e4886c"/>
<circle cx="305.61" cy="321.23" r="0.85" fill="#e4886c"/>
<circle cx="374.57" cy="326.54" r="0.85" fill="#e4886c"/>
<circle cx="427.62" cy="326.54" r="0.85" fill="#e4886c"/>
<circle cx="220.73" cy="337.15" r="0.85" fill="#e4886c"/>
<circle cx="236.64" cy="337.15" r="0.85" fill="#e4886c"/>
<circle cx="252.56" cy="337.15" r="0.85" fill="#e4886c"/>
<circle cx="358.66" cy="337.15" r="0.85" fill="#e4886c"/>
<circle cx="422.32" cy="337.15" r="0.85" fill="#e4886c"/>
<circle cx="210.12" cy="342.45" r="0.85" fill="#e4886c"/>
<circle cx="305.61" cy="342.45" r="0.85" fill="#e4886c"/>
<circle cx="326.83" cy="342.45" r="0.85" fill="#e4886c"/>
<circle cx="326.83" cy="347.76" r="0.85" fill="#e4886c"/>
<circle cx="353.35" cy="347.76" r="0.85" fill="#e4886c"/>
<circle cx="220.73" cy="358.37" r="0.85" fill="#e4886c"/>
<circle cx="247.25" cy="358.37" r="0.85" fill="#e4886c"/>
<circle cx="348.05" cy="358.37" r="0.85" fill="#e4886c"/>
<circle cx="374.57" cy="358.37" r="0.85" fill="#e4886c"/>
<circle cx="454.15" cy="358.37" r="0.85" fill="#e4886c"/>
<circle cx="459.45" cy="358.37" r="0.85" fill="#e4886c"/>
<circle cx="464.76" cy="358.37" r="0.85" fill="#e4886c"/>
<circle cx="374.57" cy="363.67" r="0.85" fill="#e4886c"/>
<circle cx="406.40" cy="363.67" r="0.85" fill="#e4886c"/>
<circle cx="432.93" cy="363.67" r="0.85" fill="#e4886c"/>
<circle cx="454.15" cy="363.67" r="0.85" fill="#e4886c"/>
<circle cx="151.76" cy="374.28" r="0.85" fill="#e4886c"/>
<circle cx="183.59" cy="374.28" r="0.85" fill="#e4886c"/>
<circle cx="252.56" cy="374.28" r="0.85" fill="#e4886c"/>
<circle cx="273.78" cy="374.28" r="0.85" fill="#e4886c"/>
<circle cx="395.79" cy="374.28" r="0.85" fill="#e4886c"/>
<circle cx="406.40" cy="374.28" r="0.85" fill="#e4886c"/>
<circle cx="417.01" cy="374.28" r="0.85" fill="#e4886c"/>
<circle cx="422.32" cy="374.28" r="0.85" fill="#e4886c"/>
<circle cx="427.62" cy="374.28" r="0.85" fill="#e4886c"/>
<circle cx="295.00" cy="379.59" r="0.85" fill="#e4886c"/>
<circle cx="210.12" cy="384.89" r="0.85" fill="#e4886c"/>
<circle cx="305.61" cy="384.89" r="0.85" fill="#e4886c"/>
<circle cx="353.35" cy="390.20" r="0.85" fill="#e4886c"/>
<circle cx="406.40" cy="390.20" r="0.85" fill="#e4886c"/>
<circle cx="475.37" cy="390.20" r="0.85" fill="#e4886c"/>
<circle cx="167.68" cy="209.83" r="1.25" fill="#a8182e"/>
<circle cx="167.68" cy="236.35" r="1.25" fill="#a8182e"/>
<circle cx="188.90" cy="289.40" r="1.25" fill="#a8182e"/>
<circle cx="220.73" cy="289.40" r="1.25" fill="#a8182e"/>
<circle cx="348.05" cy="289.40" r="1.25" fill="#a8182e"/>
<circle cx="210.12" cy="310.62" r="1.25" fill="#a8182e"/>
<circle cx="326.83" cy="315.93" r="1.25" fill="#a8182e"/>
<circle cx="167.68" cy="358.37" r="1.25" fill="#a8182e"/>
<circle cx="432.93" cy="358.37" r="1.25" fill="#a8182e"/>
<circle cx="326.83" cy="374.28" r="1.25" fill="#a8182e"/>
<circle cx="353.35" cy="374.28" r="1.25" fill="#a8182e"/>
<circle cx="475.37" cy="374.28" r="1.25" fill="#a8182e"/>
<path d="M141.15 24.15C252.72 39.18 356.31 76.43 451.90 135.90" stroke="#dc6208" stroke-width="1.42" fill="none" stroke-opacity="1.00"/><path d="M146.46 29.46C255.82 43.28 357.69 78.60 451.90 135.90" stroke="#dc6208" stroke-width="0.70" fill="none" stroke-opacity="0.80"/><path d="M151.76 34.76C258.92 47.37 359.07 80.77 451.90 135.90" stroke="#dc6208" stroke-width="1.42" fill="none" stroke-opacity="1.00"/><path d="M157.07 40.07C262.03 51.45 360.45 82.94 451.90 135.90" stroke="#dc6208" stroke-width="1.42" fill="none" stroke-opacity="1.00"/><path d="M162.37 45.37C265.14 55.52 361.84 85.11 451.90 135.90" stroke="#dc6208" stroke-width="1.42" fill="none" stroke-opacity="1.00"/><path d="M167.68 50.68C268.26 59.59 363.22 87.28 451.90 135.90" stroke="#dc6208" stroke-width="0.70" fill="none" stroke-opacity="0.80"/><path d="M172.98 55.98C271.39 63.66 364.60 89.45 451.90 135.90" stroke="#dc6208" stroke-width="1.05" fill="none" stroke-opacity="1.00"/><path d="M178.29 61.29C274.52 67.71 365.99 91.61 451.90 135.90" stroke="#dc6208" stroke-width="1.42" fill="none" stroke-opacity="1.00"/><path d="M183.59 66.59C277.66 71.77 367.38 93.78 451.90 135.90" stroke="#dc6208" stroke-width="1.05" fill="none" stroke-opacity="1.00"/><path d="M188.90 71.90C280.80 75.81 368.76 95.94 451.90 135.90" stroke="#dc6208" stroke-width="0.70" fill="none" stroke-opacity="0.80"/><path d="M194.20 77.20C283.96 79.85 370.15 98.11 451.90 135.90" stroke="#dc6208" stroke-width="1.42" fill="none" stroke-opacity="1.00"/><path d="M199.51 82.51C287.11 83.88 371.54 100.27 451.90 135.90" stroke="#dc6208" stroke-width="1.05" fill="none" stroke-opacity="1.00"/><path d="M204.81 87.81C290.28 87.91 372.93 102.43 451.90 135.90" stroke="#dc6208" stroke-width="1.42" fill="none" stroke-opacity="1.00"/><path d="M210.12 93.12C293.45 91.93 374.32 104.60 451.90 135.90" stroke="#dc6208" stroke-width="1.05" fill="none" stroke-opacity="1.00"/><path d="M215.42 98.42C296.62 95.94 375.71 106.76 451.90 135.90" stroke="#dc6208" stroke-width="1.42" fill="none" stroke-opacity="1.00"/><path d="M220.73 103.73C299.80 99.95 377.11 108.92 451.90 135.90" stroke="#dc6208" stroke-width="0.70" fill="none" stroke-opacity="0.80"/><path d="M226.03 109.03C302.99 103.95 378.50 111.07 451.90 135.90" stroke="#dc6208" stroke-width="1.42" fill="none" stroke-opacity="1.00"/><path d="M231.34 114.34C306.19 107.95 379.89 113.23 451.90 135.90" stroke="#dc6208" stroke-width="1.42" fill="none" stroke-opacity="1.00"/><path d="M236.64 119.64C309.39 111.94 381.29 115.39 451.90 135.90" stroke="#dc6208" stroke-width="1.42" fill="none" stroke-opacity="1.00"/><path d="M241.95 124.95C312.59 115.92 382.68 117.55 451.90 135.90" stroke="#dc6208" stroke-width="1.42" fill="none" stroke-opacity="1.00"/><path d="M247.25 130.25C315.81 119.90 384.08 119.70 451.90 135.90" stroke="#dc6208" stroke-width="1.42" fill="none" stroke-opacity="1.00"/><path d="M252.56 135.56C319.03 123.87 385.48 121.86 451.90 135.90" stroke="#dc6208" stroke-width="1.42" fill="none" stroke-opacity="1.00"/><path d="M257.86 140.86C322.25 127.83 386.87 124.01 451.90 135.90" stroke="#dc6208" stroke-width="1.42" fill="none" stroke-opacity="1.00"/><path d="M263.17 146.17C325.48 131.79 388.27 126.16 451.90 135.90" stroke="#dc6208" stroke-width="1.42" fill="none" stroke-opacity="1.00"/><path d="M268.47 151.47C328.72 135.74 389.67 128.32 451.90 135.90" stroke="#dc6208" stroke-width="1.42" fill="none" stroke-opacity="1.00"/><path d="M273.78 156.78C331.96 139.69 391.07 130.47 451.90 135.90" stroke="#dc6208" stroke-width="1.42" fill="none" stroke-opacity="1.00"/><path d="M279.08 162.08C335.21 143.62 392.47 132.62 451.90 135.90" stroke="#dc6208" stroke-width="1.42" fill="none" stroke-opacity="1.00"/><path d="M284.39 167.39C338.47 147.56 393.88 134.77 451.90 135.90" stroke="#dc6208" stroke-width="1.42" fill="none" stroke-opacity="1.00"/><path d="M289.69 172.69C341.73 151.49 395.28 136.92 451.90 135.90" stroke="#dc6208" stroke-width="1.05" fill="none" stroke-opacity="1.00"/><path d="M295.00 178.00C345.00 155.41 396.68 139.07 451.90 135.90" stroke="#dc6208" stroke-width="0.70" fill="none" stroke-opacity="0.80"/><path d="M300.30 183.30C348.28 159.32 398.09 141.21 451.90 135.90" stroke="#dc6208" stroke-width="1.42" fill="none" stroke-opacity="1.00"/><path d="M305.61 188.61C351.56 163.23 399.49 143.36 451.90 135.90" stroke="#dc6208" stroke-width="1.42" fill="none" stroke-opacity="1.00"/><path d="M310.91 193.91C354.85 167.13 400.90 145.51 451.90 135.90" stroke="#dc6208" stroke-width="1.42" fill="none" stroke-opacity="1.00"/><path d="M316.22 199.22C358.14 171.03 402.31 147.65 451.90 135.90" stroke="#dc6208" stroke-width="1.42" fill="none" stroke-opacity="1.00"/><path d="M321.52 204.52C361.44 174.92 403.72 149.80 451.90 135.90" stroke="#dc6208" stroke-width="1.42" fill="none" stroke-opacity="1.00"/><path d="M326.83 209.83C364.74 178.80 405.12 151.94 451.90 135.90" stroke="#dc6208" stroke-width="1.05" fill="none" stroke-opacity="1.00"/><path d="M332.13 215.13C368.06 182.68 406.53 154.08 451.90 135.90" stroke="#dc6208" stroke-width="1.42" fill="none" stroke-opacity="1.00"/><path d="M337.44 220.44C371.38 186.55 407.94 156.22 451.90 135.90" stroke="#dc6208" stroke-width="1.42" fill="none" stroke-opacity="1.00"/><path d="M342.74 225.74C374.70 190.41 409.35 158.36 451.90 135.90" stroke="#dc6208" stroke-width="1.42" fill="none" stroke-opacity="1.00"/><path d="M348.05 231.05C378.03 194.27 410.77 160.50 451.90 135.90" stroke="#dc6208" stroke-width="1.05" fill="none" stroke-opacity="1.00"/><path d="M353.35 236.35C381.37 198.13 412.18 162.64 451.90 135.90" stroke="#dc6208" stroke-width="1.42" fill="none" stroke-opacity="1.00"/><path d="M358.66 241.66C384.71 201.97 413.59 164.78 451.90 135.90" stroke="#dc6208" stroke-width="0.70" fill="none" stroke-opacity="0.80"/><path d="M363.96 246.96C388.06 205.81 415.01 166.92 451.90 135.90" stroke="#dc6208" stroke-width="1.42" fill="none" stroke-opacity="1.00"/><path d="M369.27 252.27C391.42 209.65 416.42 169.06 451.90 135.90" stroke="#dc6208" stroke-width="1.42" fill="none" stroke-opacity="1.00"/><path d="M374.57 257.57C394.78 213.47 417.84 171.19 451.90 135.90" stroke="#dc6208" stroke-width="0.70" fill="none" stroke-opacity="0.80"/><path d="M379.88 262.88C398.15 217.30 419.26 173.33 451.90 135.90" stroke="#dc6208" stroke-width="1.42" fill="none" stroke-opacity="1.00"/><path d="M385.18 268.18C401.52 221.11 420.67 175.46 451.90 135.90" stroke="#dc6208" stroke-width="1.42" fill="none" stroke-opacity="1.00"/><path d="M390.49 273.49C404.90 224.92 422.09 177.60 451.90 135.90" stroke="#dc6208" stroke-width="1.42" fill="none" stroke-opacity="1.00"/><path d="M395.79 278.79C408.29 228.72 423.51 179.73 451.90 135.90" stroke="#dc6208" stroke-width="1.42" fill="none" stroke-opacity="1.00"/><path d="M401.10 284.10C411.68 232.52 424.93 181.86 451.90 135.90" stroke="#dc6208" stroke-width="1.05" fill="none" stroke-opacity="1.00"/><path d="M406.40 289.40C415.08 236.31 426.35 183.99 451.90 135.90" stroke="#dc6208" stroke-width="0.70" fill="none" stroke-opacity="0.80"/><path d="M411.71 294.71C418.48 240.10 427.78 186.12 451.90 135.90" stroke="#dc6208" stroke-width="1.05" fill="none" stroke-opacity="1.00"/><path d="M417.01 300.01C421.90 243.87 429.20 188.25 451.90 135.90" stroke="#dc6208" stroke-width="1.42" fill="none" stroke-opacity="1.00"/><path d="M422.32 305.32C425.31 247.65 430.62 190.38 451.90 135.90" stroke="#dc6208" stroke-width="1.05" fill="none" stroke-opacity="1.00"/><path d="M427.62 310.62C428.74 251.41 432.05 192.51 451.90 135.90" stroke="#dc6208" stroke-width="1.05" fill="none" stroke-opacity="1.00"/><path d="M432.93 315.93C432.17 255.17 433.47 194.63 451.90 135.90" stroke="#dc6208" stroke-width="1.05" fill="none" stroke-opacity="1.00"/><path d="M438.23 321.23C435.60 258.93 434.90 196.76 451.90 135.90" stroke="#dc6208" stroke-width="1.42" fill="none" stroke-opacity="1.00"/><path d="M443.54 326.54C439.05 262.67 436.32 198.88 451.90 135.90" stroke="#dc6208" stroke-width="1.42" fill="none" stroke-opacity="1.00"/><path d="M448.84 331.84C442.49 266.41 437.75 201.01 451.90 135.90" stroke="#dc6208" stroke-width="1.42" fill="none" stroke-opacity="1.00"/><path d="M454.15 337.15C445.95 270.15 439.18 203.13 451.90 135.90" stroke="#dc6208" stroke-width="0.70" fill="none" stroke-opacity="0.80"/><path d="M459.45 342.45C449.41 273.88 440.61 205.26 451.90 135.90" stroke="#dc6208" stroke-width="1.05" fill="none" stroke-opacity="1.00"/><path d="M464.76 347.76C452.88 277.60 442.04 207.38 451.90 135.90" stroke="#dc6208" stroke-width="1.42" fill="none" stroke-opacity="1.00"/><path d="M470.06 353.06C456.35 281.32 443.47 209.50 451.90 135.90" stroke="#dc6208" stroke-width="1.42" fill="none" stroke-opacity="1.00"/><path d="M475.37 358.37C459.83 285.03 444.90 211.62 451.90 135.90" stroke="#dc6208" stroke-width="0.70" fill="none" stroke-opacity="0.80"/><path d="M480.67 363.67C463.32 288.73 446.33 213.74 451.90 135.90" stroke="#dc6208" stroke-width="1.42" fill="none" stroke-opacity="1.00"/><path d="M485.98 368.98C466.81 292.43 447.77 215.86 451.90 135.90" stroke="#dc6208" stroke-width="1.42" fill="none" stroke-opacity="1.00"/><path d="M491.28 374.28C470.31 296.12 449.20 217.98 451.90 135.90" stroke="#dc6208" stroke-width="0.70" fill="none" stroke-opacity="0.80"/><path d="M496.59 379.59C473.81 299.80 450.64 220.09 451.90 135.90" stroke="#dc6208" stroke-width="1.42" fill="none" stroke-opacity="1.00"/><path d="M501.89 384.89C477.32 303.48 452.07 222.21 451.90 135.90" stroke="#dc6208" stroke-width="1.42" fill="none" stroke-opacity="1.00"/><path d="M507.20 390.20C480.84 307.16 453.51 224.32 451.90 135.90" stroke="#dc6208" stroke-width="1.42" fill="none" stroke-opacity="1.00"/><path d="M512.50 395.50C484.36 310.82 454.95 226.44 451.90 135.90" stroke="#dc6208" stroke-width="1.42" fill="none" stroke-opacity="1.00"/><path d="M517.81 400.81C487.89 314.48 456.39 228.55 451.90 135.90" stroke="#dc6208" stroke-width="1.42" fill="none" stroke-opacity="1.00"/>
<path d="M302.52 63.36C354.31 81.99 404.10 106.17 451.90 135.90" stroke="#dc6208" stroke-width="1.99" fill="none" stroke-opacity="1.00"/><path d="M304.86 66.38C355.77 84.10 404.79 107.25 451.90 135.90" stroke="#dc6208" stroke-width="0.98" fill="none" stroke-opacity="0.80"/><path d="M307.20 69.39C357.24 86.20 405.48 108.34 451.90 135.90" stroke="#dc6208" stroke-width="1.99" fill="none" stroke-opacity="1.00"/><path d="M309.55 72.39C358.71 88.31 406.18 109.42 451.90 135.90" stroke="#dc6208" stroke-width="1.99" fill="none" stroke-opacity="1.00"/><path d="M311.90 75.40C360.18 90.41 406.87 110.51 451.90 135.90" stroke="#dc6208" stroke-width="1.99" fill="none" stroke-opacity="1.00"/><path d="M314.25 78.40C361.65 92.51 407.56 111.59 451.90 135.90" stroke="#dc6208" stroke-width="0.98" fill="none" stroke-opacity="0.80"/><path d="M316.61 81.40C363.12 94.61 408.25 112.67 451.90 135.90" stroke="#dc6208" stroke-width="1.47" fill="none" stroke-opacity="1.00"/><path d="M318.97 84.40C364.60 96.71 408.95 113.76 451.90 135.90" stroke="#dc6208" stroke-width="1.99" fill="none" stroke-opacity="1.00"/><path d="M321.33 87.39C366.08 98.81 409.64 114.84 451.90 135.90" stroke="#dc6208" stroke-width="1.47" fill="none" stroke-opacity="1.00"/><path d="M323.69 90.38C367.56 100.90 410.33 115.92 451.90 135.90" stroke="#dc6208" stroke-width="0.98" fill="none" stroke-opacity="0.80"/><path d="M326.05 93.37C369.04 102.99 411.03 117.00 451.90 135.90" stroke="#dc6208" stroke-width="1.99" fill="none" stroke-opacity="1.00"/><path d="M328.42 96.36C370.52 105.08 411.72 118.09 451.90 135.90" stroke="#dc6208" stroke-width="1.47" fill="none" stroke-opacity="1.00"/><path d="M330.79 99.34C372.01 107.17 412.42 119.17 451.90 135.90" stroke="#dc6208" stroke-width="1.99" fill="none" stroke-opacity="1.00"/><path d="M333.16 102.32C373.50 109.25 413.11 120.25 451.90 135.90" stroke="#dc6208" stroke-width="1.47" fill="none" stroke-opacity="1.00"/><path d="M335.54 105.30C374.99 111.34 413.81 121.33 451.90 135.90" stroke="#dc6208" stroke-width="1.99" fill="none" stroke-opacity="1.00"/><path d="M337.92 108.28C376.48 113.42 414.50 122.41 451.90 135.90" stroke="#dc6208" stroke-width="0.98" fill="none" stroke-opacity="0.80"/><path d="M340.30 111.25C377.97 115.50 415.20 123.49 451.90 135.90" stroke="#dc6208" stroke-width="1.99" fill="none" stroke-opacity="1.00"/><path d="M342.68 114.22C379.47 117.58 415.90 124.57 451.90 135.90" stroke="#dc6208" stroke-width="1.99" fill="none" stroke-opacity="1.00"/><path d="M345.07 117.19C380.97 119.65 416.59 125.65 451.90 135.90" stroke="#dc6208" stroke-width="1.99" fill="none" stroke-opacity="1.00"/><path d="M347.46 120.16C382.46 121.73 417.29 126.72 451.90 135.90" stroke="#dc6208" stroke-width="1.99" fill="none" stroke-opacity="1.00"/><path d="M349.85 123.12C383.97 123.80 417.99 127.80 451.90 135.90" stroke="#dc6208" stroke-width="1.99" fill="none" stroke-opacity="1.00"/><path d="M352.25 126.08C385.47 125.87 418.69 128.88 451.90 135.90" stroke="#dc6208" stroke-width="1.99" fill="none" stroke-opacity="1.00"/><path d="M354.64 129.04C386.97 127.94 419.39 129.96 451.90 135.90" stroke="#dc6208" stroke-width="1.99" fill="none" stroke-opacity="1.00"/><path d="M357.04 131.99C388.48 130.00 420.09 131.03 451.90 135.90" stroke="#dc6208" stroke-width="1.99" fill="none" stroke-opacity="1.00"/><path d="M359.44 134.94C389.99 132.07 420.79 132.11 451.90 135.90" stroke="#dc6208" stroke-width="1.99" fill="none" stroke-opacity="1.00"/><path d="M361.85 137.89C391.50 134.13 421.49 133.18 451.90 135.90" stroke="#dc6208" stroke-width="1.99" fill="none" stroke-opacity="1.00"/><path d="M364.26 140.84C393.02 136.19 422.19 134.26 451.90 135.90" stroke="#dc6208" stroke-width="1.99" fill="none" stroke-opacity="1.00"/><path d="M366.67 143.78C394.53 138.25 422.89 135.33 451.90 135.90" stroke="#dc6208" stroke-width="1.99" fill="none" stroke-opacity="1.00"/><path d="M369.08 146.73C396.05 140.31 423.59 136.41 451.90 135.90" stroke="#dc6208" stroke-width="1.47" fill="none" stroke-opacity="1.00"/><path d="M371.49 149.66C397.57 142.36 424.29 137.48 451.90 135.90" stroke="#dc6208" stroke-width="0.98" fill="none" stroke-opacity="0.80"/><path d="M373.91 152.60C399.09 144.41 424.99 138.56 451.90 135.90" stroke="#dc6208" stroke-width="1.99" fill="none" stroke-opacity="1.00"/><path d="M376.33 155.53C400.61 146.46 425.70 139.63 451.90 135.90" stroke="#dc6208" stroke-width="1.99" fill="none" stroke-opacity="1.00"/><path d="M378.76 158.47C402.14 148.51 426.40 140.70 451.90 135.90" stroke="#dc6208" stroke-width="1.99" fill="none" stroke-opacity="1.00"/><path d="M381.18 161.39C403.66 150.56 427.10 141.78 451.90 135.90" stroke="#dc6208" stroke-width="1.99" fill="none" stroke-opacity="1.00"/><path d="M383.61 164.32C405.19 152.60 427.81 142.85 451.90 135.90" stroke="#dc6208" stroke-width="1.99" fill="none" stroke-opacity="1.00"/><path d="M386.04 167.24C406.72 154.64 428.51 143.92 451.90 135.90" stroke="#dc6208" stroke-width="1.47" fill="none" stroke-opacity="1.00"/><path d="M388.48 170.16C408.26 156.69 429.22 144.99 451.90 135.90" stroke="#dc6208" stroke-width="1.99" fill="none" stroke-opacity="1.00"/><path d="M390.91 173.08C409.79 158.72 429.92 146.06 451.90 135.90" stroke="#dc6208" stroke-width="1.99" fill="none" stroke-opacity="1.00"/><path d="M393.35 176.00C411.33 160.76 430.63 147.13 451.90 135.90" stroke="#dc6208" stroke-width="1.99" fill="none" stroke-opacity="1.00"/><path d="M395.79 178.91C412.87 162.80 431.33 148.20 451.90 135.90" stroke="#dc6208" stroke-width="1.47" fill="none" stroke-opacity="1.00"/><path d="M398.24 181.82C414.41 164.83 432.04 149.27 451.90 135.90" stroke="#dc6208" stroke-width="1.99" fill="none" stroke-opacity="1.00"/><path d="M400.68 184.73C415.95 166.86 432.75 150.34 451.90 135.90" stroke="#dc6208" stroke-width="0.98" fill="none" stroke-opacity="0.80"/><path d="M403.13 187.63C417.49 168.89 433.45 151.41 451.90 135.90" stroke="#dc6208" stroke-width="1.99" fill="none" stroke-opacity="1.00"/><path d="M405.59 190.53C419.04 170.91 434.16 152.48 451.90 135.90" stroke="#dc6208" stroke-width="1.99" fill="none" stroke-opacity="1.00"/><path d="M408.04 193.43C420.59 172.94 434.87 153.55 451.90 135.90" stroke="#dc6208" stroke-width="0.98" fill="none" stroke-opacity="0.80"/><path d="M410.50 196.33C422.14 174.96 435.58 154.61 451.90 135.90" stroke="#dc6208" stroke-width="1.99" fill="none" stroke-opacity="1.00"/><path d="M412.96 199.23C423.69 176.98 436.29 155.68 451.90 135.90" stroke="#dc6208" stroke-width="1.99" fill="none" stroke-opacity="1.00"/><path d="M415.42 202.12C425.25 179.00 437.00 156.75 451.90 135.90" stroke="#dc6208" stroke-width="1.99" fill="none" stroke-opacity="1.00"/><path d="M417.89 205.01C426.80 181.02 437.71 157.81 451.90 135.90" stroke="#dc6208" stroke-width="1.99" fill="none" stroke-opacity="1.00"/><path d="M420.35 207.89C428.36 183.04 438.42 158.88 451.90 135.90" stroke="#dc6208" stroke-width="1.47" fill="none" stroke-opacity="1.00"/><path d="M422.82 210.78C429.92 185.05 439.13 159.95 451.90 135.90" stroke="#dc6208" stroke-width="0.98" fill="none" stroke-opacity="0.80"/><path d="M425.30 213.66C431.48 187.06 439.84 161.01 451.90 135.90" stroke="#dc6208" stroke-width="1.47" fill="none" stroke-opacity="1.00"/><path d="M427.77 216.54C433.05 189.07 440.55 162.08 451.90 135.90" stroke="#dc6208" stroke-width="1.99" fill="none" stroke-opacity="1.00"/><path d="M430.25 219.41C434.61 191.08 441.26 163.14 451.90 135.90" stroke="#dc6208" stroke-width="1.47" fill="none" stroke-opacity="1.00"/><path d="M432.73 222.28C436.18 193.08 441.97 164.20 451.90 135.90" stroke="#dc6208" stroke-width="1.47" fill="none" stroke-opacity="1.00"/><path d="M435.22 225.16C437.75 195.08 442.69 165.27 451.90 135.90" stroke="#dc6208" stroke-width="1.47" fill="none" stroke-opacity="1.00"/><path d="M437.70 228.02C439.32 197.09 443.40 166.33 451.90 135.90" stroke="#dc6208" stroke-width="1.99" fill="none" stroke-opacity="1.00"/><path d="M440.19 230.89C440.90 199.09 444.11 167.39 451.90 135.90" stroke="#dc6208" stroke-width="1.99" fill="none" stroke-opacity="1.00"/><path d="M442.68 233.75C442.47 201.08 444.83 168.45 451.90 135.90" stroke="#dc6208" stroke-width="1.99" fill="none" stroke-opacity="1.00"/><path d="M445.18 236.61C444.05 203.08 445.54 169.52 451.90 135.90" stroke="#dc6208" stroke-width="0.98" fill="none" stroke-opacity="0.80"/><path d="M447.68 239.47C445.63 205.07 446.25 170.58 451.90 135.90" stroke="#dc6208" stroke-width="1.47" fill="none" stroke-opacity="1.00"/><path d="M450.18 242.32C447.21 207.06 446.97 171.64 451.90 135.90" stroke="#dc6208" stroke-width="1.99" fill="none" stroke-opacity="1.00"/><path d="M452.68 245.18C448.80 209.05 447.69 172.70 451.90 135.90" stroke="#dc6208" stroke-width="1.99" fill="none" stroke-opacity="1.00"/><path d="M455.18 248.03C450.38 211.04 448.40 173.76 451.90 135.90" stroke="#dc6208" stroke-width="0.98" fill="none" stroke-opacity="0.80"/><path d="M457.69 250.87C451.97 213.03 449.12 174.82 451.90 135.90" stroke="#dc6208" stroke-width="1.99" fill="none" stroke-opacity="1.00"/><path d="M460.20 253.72C453.56 215.01 449.83 175.88 451.90 135.90" stroke="#dc6208" stroke-width="1.99" fill="none" stroke-opacity="1.00"/><path d="M462.71 256.56C455.15 216.99 450.55 176.94 451.90 135.90" stroke="#dc6208" stroke-width="0.98" fill="none" stroke-opacity="0.80"/><path d="M465.23 259.40C456.75 218.97 451.27 178.00 451.90 135.90" stroke="#dc6208" stroke-width="1.99" fill="none" stroke-opacity="1.00"/><path d="M467.75 262.23C458.34 220.95 451.99 179.05 451.90 135.90" stroke="#dc6208" stroke-width="1.99" fill="none" stroke-opacity="1.00"/><path d="M470.27 265.07C459.94 222.93 452.70 180.11 451.90 135.90" stroke="#dc6208" stroke-width="1.99" fill="none" stroke-opacity="1.00"/><path d="M472.79 267.90C461.54 224.90 453.42 181.17 451.90 135.90" stroke="#dc6208" stroke-width="1.99" fill="none" stroke-opacity="1.00"/><path d="M475.32 270.73C463.14 226.87 454.14 182.23 451.90 135.90" stroke="#dc6208" stroke-width="1.99" fill="none" stroke-opacity="1.00"/>
<circle cx="141.15" cy="24.15" r="1.08" fill="#b3338c"/>
<circle cx="146.46" cy="29.46" r="1.08" fill="#b3338c"/>
<circle cx="151.76" cy="34.76" r="1.08" fill="#b3338c"/>
<circle cx="157.07" cy="40.07" r="1.08" fill="#b3338c"/>
<circle cx="162.37" cy="45.37" r="1.08" fill="#b3338c"/>
<circle cx="167.68" cy="50.68" r="1.08" fill="#b3338c"/>
<circle cx="172.98" cy="55.98" r="1.08" fill="#b3338c"/>
<circle cx="178.29" cy="61.29" r="1.08" fill="#b3338c"/>
<circle cx="183.59" cy="66.59" r="1.08" fill="#b3338c"/>
<circle cx="188.90" cy="71.90" r="1.08" fill="#b3338c"/>
<circle cx="194.20" cy="77.20" r="1.08" fill="#b3338c"/>
<circle cx="199.51" cy="82.51" r="1.08" fill="#b3338c"/>
<circle cx="204.81" cy="87.81" r="1.08" fill="#b3338c"/>
<circle cx="210.12" cy="93.12" r="1.08" fill="#b3338c"/>
<circle cx="215.42" cy="98.42" r="1.08" fill="#b3338c"/>
<circle cx="220.73" cy="103.73" r="1.08" fill="#b3338c"/>
<circle cx="226.03" cy="109.03" r="1.08" fill="#b3338c"/>
<circle cx="231.34" cy="114.34" r="1.08" fill="#b3338c"/>
<circle cx="236.64" cy="119.64" r="1.08" fill="#b3338c"/>
<circle cx="241.95" cy="124.95" r="1.08" fill="#b3338c"/>
<circle cx="247.25" cy="130.25" r="1.08" fill="#b3338c"/>
<circle cx="252.56" cy="135.56" r="1.08" fill="#b3338c"/>
<circle cx="257.86" cy="140.86" r="1.08" fill="#b3338c"/>
<circle cx="263.17" cy="146.17" r="1.08" fill="#b3338c"/>
<circle cx="268.47" cy="151.47" r="1.08" fill="#b3338c"/>
<circle cx="273.78" cy="156.78" r="1.08" fill="#b3338c"/>
<circle cx="279.08" cy="162.08" r="1.08" fill="#b3338c"/>
<circle cx="284.39" cy="167.39" r="1.08" fill="#b3338c"/>
<circle cx="289.69" cy="172.69" r="1.08" fill="#b3338c"/>
<circle cx="295.00" cy="178.00" r="1.08" fill="#b3338c"/>
<circle cx="300.30" cy="183.30" r="1.08" fill="#b3338c"/>
<circle cx="305.61" cy="188.61" r="1.08" fill="#b3338c"/>
<circle cx="310.91" cy="193.91" r="1.08" fill="#b3338c"/>
<circle cx="316.22" cy="199.22" r="1.08" fill="#b3338c"/>
<circle cx="321.52" cy="204.52" r="1.08" fill="#b3338c"/>
<circle cx="326.83" cy="209.83" r="1.08" fill="#b3338c"/>
<circle cx="332.13" cy="215.13" r="1.08" fill="#b3338c"/>
<circle cx="337.44" cy="220.44" r="1.08" fill="#b3338c"/>
<circle cx="342.74" cy="225.74" r="1.08" fill="#b3338c"/>
<circle cx="348.05" cy="231.05" r="1.08" fill="#b3338c"/>
<circle cx="353.35" cy="236.35" r="1.08" fill="#b3338c"/>
<circle cx="358.66" cy="241.66" r="1.08" fill="#b3338c"/>
<circle cx="363.96" cy="246.96" r="1.08" fill="#b3338c"/>
<circle cx="369.27" cy="252.27" r="1.08" fill="#b3338c"/>
<circle cx="374.57" cy="257.57" r="1.08" fill="#b3338c"/>
<circle cx="379.88" cy="262.88" r="1.08" fill="#b3338c"/>
<circle cx="385.18" cy="268.18" r="1.08" fill="#b3338c"/>
<circle cx="390.49" cy="273.49" r="1.08" fill="#b3338c"/>
<circle cx="395.79" cy="278.79" r="1.08" fill="#b3338c"/>
<circle cx="401.10" cy="284.10" r="1.08" fill="#b3338c"/>
<circle cx="406.40" cy="289.40" r="1.08" fill="#b3338c"/>
<circle cx="411.71" cy="294.71" r="1.08" fill="#b3338c"/>
<circle cx="417.01" cy="300.01" r="1.08" fill="#b3338c"/>
<circle cx="422.32" cy="305.32" r="1.08" fill="#b3338c"/>
<circle cx="427.62" cy="310.62" r="1.08" fill="#b3338c"/>
<circle cx="432.93" cy="315.93" r="1.08" fill="#b3338c"/>
<circle cx="438.23" cy="321.23" r="1.08" fill="#b3338c"/>
<circle cx="443.54" cy="326.54" r="1.08" fill="#b3338c"/>
<circle cx="448.84" cy="331.84" r="1.08" fill="#b3338c"/>
<circle cx="454.15" cy="337.15" r="1.08" fill="#b3338c"/>
<circle cx="459.45" cy="342.45" r="1.08" fill="#b3338c"/>
<circle cx="464.76" cy="347.76" r="1.08" fill="#b3338c"/>
<circle cx="470.06" cy="353.06" r="1.08" fill="#b3338c"/>
<circle cx="475.37" cy="358.37" r="1.08" fill="#b3338c"/>
<circle cx="480.67" cy="363.67" r="1.08" fill="#b3338c"/>
<circle cx="485.98" cy="368.98" r="1.08" fill="#b3338c"/>
<circle cx="491.28" cy="374.28" r="1.08" fill="#b3338c"/>
<circle cx="496.59" cy="379.59" r="1.08" fill="#b3338c"/>
<circle cx="501.89" cy="384.89" r="1.08" fill="#b3338c"/>
<circle cx="507.20" cy="390.20" r="1.08" fill="#b3338c"/>
<circle cx="512.50" cy="395.50" r="1.08" fill="#b3338c"/>
<circle cx="517.81" cy="400.81" r="1.08" fill="#b3338c"/>
<circle cx="451.90" cy="135.90" r="1.08" fill="#b3338c"/>
<text transform="translate(454.6 137.2) scale(0.1)" class="tlc">As08G05225</text>
<text x="1.4" y="19.6" class="lab">(a)</text>
<text transform="translate(136.2 25.45) rotate(0.05) scale(0.1)" class="tlb" text-anchor="end">As01G00258</text>
<text transform="translate(136.2 30.76) rotate(0.05) scale(0.1)" class="tlb" text-anchor="end">As01G01793</text>
<text transform="translate(136.2 36.06) rotate(0.05) scale(0.1)" class="tlb" text-anchor="end">As01G02652</text>
<text transform="translate(136.2 41.37) rotate(0.05) scale(0.1)" class="tlb" text-anchor="end">As01G02800</text>
<text transform="translate(136.2 46.67) rotate(0.05) scale(0.1)" class="tlb" text-anchor="end">As01G04696</text>
<text transform="translate(136.2 51.98) rotate(0.05) scale(0.1)" class="tlb" text-anchor="end">As01G05088</text>
<text transform="translate(136.2 57.28) rotate(0.05) scale(0.1)" class="tlb" text-anchor="end">As01G05398</text>
<text transform="translate(136.2 62.59) rotate(0.05) scale(0.1)" class="tlb" text-anchor="end">As02G01477</text>
<text transform="translate(136.2 67.89) rotate(0.05) scale(0.1)" class="tlb" text-anchor="end">As02G02587</text>
<text transform="translate(136.2 73.20) rotate(0.05) scale(0.1)" class="tlb" text-anchor="end">As02G02945</text>
<text transform="translate(136.2 78.50) rotate(0.05) scale(0.1)" class="tlb" text-anchor="end">As03G01283</text>
<text transform="translate(136.2 83.81) rotate(0.05) scale(0.1)" class="tlb" text-anchor="end">As03G04141</text>
<text transform="translate(136.2 89.11) rotate(0.05) scale(0.1)" class="tlb" text-anchor="end">As03G04676</text>
<text transform="translate(136.2 94.42) rotate(0.05) scale(0.1)" class="tlb" text-anchor="end">As03G04795</text>
<text transform="translate(136.2 99.72) rotate(0.05) scale(0.1)" class="tlb" text-anchor="end">As03G05166</text>
<text transform="translate(136.2 105.03) rotate(0.05) scale(0.1)" class="tlb" text-anchor="end">As03G05589</text>
<text transform="translate(136.2 110.33) rotate(0.05) scale(0.1)" class="tlb" text-anchor="end">As03G05671</text>
<text transform="translate(136.2 115.64) rotate(0.05) scale(0.1)" class="tlb" text-anchor="end">As03G05937</text>
<text transform="translate(136.2 120.94) rotate(0.05) scale(0.1)" class="tlb" text-anchor="end">As03G06034</text>
<text transform="translate(136.2 126.25) rotate(0.05) scale(0.1)" class="tlb" text-anchor="end">As03G06274</text>
<text transform="translate(136.2 131.55) rotate(0.05) scale(0.1)" class="tlb" text-anchor="end">As04G00521</text>
<text transform="translate(136.2 136.86) rotate(0.05) scale(0.1)" class="tlb" text-anchor="end">As04G00776</text>
<text transform="translate(136.2 142.16) rotate(0.05) scale(0.1)" class="tlb" text-anchor="end">As04G02698</text>
<text transform="translate(136.2 147.47) rotate(0.05) scale(0.1)" class="tlb" text-anchor="end">As04G03086</text>
<text transform="translate(136.2 152.77) rotate(0.05) scale(0.1)" class="tlb" text-anchor="end">As04G05521</text>
<text transform="translate(136.2 158.08) rotate(0.05) scale(0.1)" class="tlb" text-anchor="end">As05G00186</text>
<text transform="translate(136.2 163.38) rotate(0.05) scale(0.1)" class="tlb" text-anchor="end">As05G00899</text>
<text transform="translate(136.2 168.69) rotate(0.05) scale(0.1)" class="tlb" text-anchor="end">As05G01238</text>
<text transform="translate(136.2 173.99) rotate(0.05) scale(0.1)" class="tlb" text-anchor="end">As05G01551</text>
<text transform="translate(136.2 179.30) rotate(0.05) scale(0.1)" class="tlb" text-anchor="end">As05G04537</text>
<text transform="translate(136.2 184.60) rotate(0.05) scale(0.1)" class="tlb" text-anchor="end">As05G06847</text>
<text transform="translate(136.2 189.91) rotate(0.05) scale(0.1)" class="tlb" text-anchor="end">As05G08950</text>
<text transform="translate(136.2 195.21) rotate(0.05) scale(0.1)" class="tlb" text-anchor="end">As05G08989</text>
<text transform="translate(136.2 200.52) rotate(0.05) scale(0.1)" class="tlb" text-anchor="end">As05G09456</text>
<text transform="translate(136.2 205.82) rotate(0.05) scale(0.1)" class="tlb" text-anchor="end">As05G09462</text>
<text transform="translate(136.2 211.13) rotate(0.05) scale(0.1)" class="tlb" text-anchor="end">As05G09550</text>
<text transform="translate(136.2 216.43) rotate(0.05) scale(0.1)" class="tlb" text-anchor="end">As05G09707</text>
<text transform="translate(136.2 221.74) rotate(0.05) scale(0.1)" class="tlb" text-anchor="end">As06G00484</text>
<text transform="translate(136.2 227.04) rotate(0.05) scale(0.1)" class="tlb" text-anchor="end">As06G01110</text>
<text transform="translate(136.2 232.35) rotate(0.05) scale(0.1)" class="tlb" text-anchor="end">As07G00649</text>
<text transform="translate(136.2 237.65) rotate(0.05) scale(0.1)" class="tlb" text-anchor="end">As07G02861</text>
<text transform="translate(136.2 242.96) rotate(0.05) scale(0.1)" class="tlb" text-anchor="end">As07G03448</text>
<text transform="translate(136.2 248.26) rotate(0.05) scale(0.1)" class="tlb" text-anchor="end">As07G03890</text>
<text transform="translate(136.2 253.57) rotate(0.05) scale(0.1)" class="tlb" text-anchor="end">As07G04759</text>
<text transform="translate(136.2 258.87) rotate(0.05) scale(0.1)" class="tlb" text-anchor="end">As07G04817</text>
<text transform="translate(136.2 264.18) rotate(0.05) scale(0.1)" class="tlb" text-anchor="end">As07G04973</text>
<text transform="translate(136.2 269.48) rotate(0.05) scale(0.1)" class="tlb" text-anchor="end">As07G05475</text>
<text transform="translate(136.2 274.79) rotate(0.05) scale(0.1)" class="tlb" text-anchor="end">As07G05881</text>
<text transform="translate(136.2 280.09) rotate(0.05) scale(0.1)" class="tlb" text-anchor="end">As08G00326</text>
<text transform="translate(136.2 285.40) rotate(0.05) scale(0.1)" class="tlb" text-anchor="end">As08G00463</text>
<text transform="translate(136.2 290.70) rotate(0.05) scale(0.1)" class="tlb" text-anchor="end">As08G00592</text>
<text transform="translate(136.2 296.01) rotate(0.05) scale(0.1)" class="tlb" text-anchor="end">As08G00914</text>
<text transform="translate(136.2 301.31) rotate(0.05) scale(0.1)" class="tlb" text-anchor="end">As08G01546</text>
<text transform="translate(136.2 306.62) rotate(0.05) scale(0.1)" class="tlb" text-anchor="end">As08G02587</text>
<text transform="translate(136.2 311.92) rotate(0.05) scale(0.1)" class="tlb" text-anchor="end">As08G03136</text>
<text transform="translate(136.2 317.23) rotate(0.05) scale(0.1)" class="tlb" text-anchor="end">As08G03158</text>
<text transform="translate(136.2 322.53) rotate(0.05) scale(0.1)" class="tlb" text-anchor="end">As08G03506</text>
<text transform="translate(136.2 327.84) rotate(0.05) scale(0.1)" class="tlb" text-anchor="end">As08G04769</text>
<text transform="translate(136.2 333.14) rotate(0.05) scale(0.1)" class="tlb" text-anchor="end">As09G00175</text>
<text transform="translate(136.2 338.45) rotate(0.05) scale(0.1)" class="tlb" text-anchor="end">As09G02187</text>
<text transform="translate(136.2 343.75) rotate(0.05) scale(0.1)" class="tlb" text-anchor="end">As09G03571</text>
<text transform="translate(136.2 349.06) rotate(0.05) scale(0.1)" class="tlb" text-anchor="end">As09G04899</text>
<text transform="translate(136.2 354.36) rotate(0.05) scale(0.1)" class="tlb" text-anchor="end">As09G05949</text>
<text transform="translate(136.2 359.67) rotate(0.05) scale(0.1)" class="tlb" text-anchor="end">As10G03913</text>
<text transform="translate(136.2 364.97) rotate(0.05) scale(0.1)" class="tlb" text-anchor="end">As10G04073</text>
<text transform="translate(136.2 370.28) rotate(0.05) scale(0.1)" class="tlb" text-anchor="end">As10G04627</text>
<text transform="translate(136.2 375.58) rotate(0.05) scale(0.1)" class="tlb" text-anchor="end">As10G05417</text>
<text transform="translate(136.2 380.89) rotate(0.05) scale(0.1)" class="tlb" text-anchor="end">As11G00439</text>
<text transform="translate(136.2 386.19) rotate(0.05) scale(0.1)" class="tlb" text-anchor="end">As11G03233</text>
<text transform="translate(136.2 391.50) rotate(0.05) scale(0.1)" class="tlb" text-anchor="end">As11G03786</text>
<text transform="translate(136.2 396.80) rotate(0.05) scale(0.1)" class="tlb" text-anchor="end">As11G04463</text>
<text transform="translate(136.2 402.11) rotate(0.05) scale(0.1)" class="tlb" text-anchor="end">As11G05240</text>
<text transform="translate(142.45 406.3) rotate(-89.95) scale(0.1)" class="tlx" text-anchor="end">As01G00258</text>
<text transform="translate(147.76 406.3) rotate(-89.95) scale(0.1)" class="tlx" text-anchor="end">As01G01793</text>
<text transform="translate(153.06 406.3) rotate(-89.95) scale(0.1)" class="tlx" text-anchor="end">As01G02652</text>
<text transform="translate(158.37 406.3) rotate(-89.95) scale(0.1)" class="tlx" text-anchor="end">As01G02800</text>
<text transform="translate(163.67 406.3) rotate(-89.95) scale(0.1)" class="tlx" text-anchor="end">As01G04696</text>
<text transform="translate(168.98 406.3) rotate(-89.95) scale(0.1)" class="tlx" text-anchor="end">As01G05088</text>
<text transform="translate(174.28 406.3) rotate(-89.95) scale(0.1)" class="tlx" text-anchor="end">As01G05398</text>
<text transform="translate(179.59 406.3) rotate(-89.95) scale(0.1)" class="tlx" text-anchor="end">As02G01477</text>
<text transform="translate(184.89 406.3) rotate(-89.95) scale(0.1)" class="tlx" text-anchor="end">As02G02587</text>
<text transform="translate(190.20 406.3) rotate(-89.95) scale(0.1)" class="tlx" text-anchor="end">As02G02945</text>
<text transform="translate(195.50 406.3) rotate(-89.95) scale(0.1)" class="tlx" text-anchor="end">As03G01283</text>
<text transform="translate(200.81 406.3) rotate(-89.95) scale(0.1)" class="tlx" text-anchor="end">As03G04141</text>
<text transform="translate(206.11 406.3) rotate(-89.95) scale(0.1)" class="tlx" text-anchor="end">As03G04676</text>
<text transform="translate(211.42 406.3) rotate(-89.95) scale(0.1)" class="tlx" text-anchor="end">As03G04795</text>
<text transform="translate(216.72 406.3) rotate(-89.95) scale(0.1)" class="tlx" text-anchor="end">As03G05166</text>
<text transform="translate(222.03 406.3) rotate(-89.95) scale(0.1)" class="tlx" text-anchor="end">As03G05589</text>
<text transform="translate(227.33 406.3) rotate(-89.95) scale(0.1)" class="tlx" text-anchor="end">As03G05671</text>
<text transform="translate(232.64 406.3) rotate(-89.95) scale(0.1)" class="tlx" text-anchor="end">As03G05937</text>
<text transform="translate(237.94 406.3) rotate(-89.95) scale(0.1)" class="tlx" text-anchor="end">As03G06034</text>
<text transform="translate(243.25 406.3) rotate(-89.95) scale(0.1)" class="tlx" text-anchor="end">As03G06274</text>
<text transform="translate(248.55 406.3) rotate(-89.95) scale(0.1)" class="tlx" text-anchor="end">As04G00521</text>
<text transform="translate(253.86 406.3) rotate(-89.95) scale(0.1)" class="tlx" text-anchor="end">As04G00776</text>
<text transform="translate(259.16 406.3) rotate(-89.95) scale(0.1)" class="tlx" text-anchor="end">As04G02698</text>
<text transform="translate(264.47 406.3) rotate(-89.95) scale(0.1)" class="tlx" text-anchor="end">As04G03086</text>
<text transform="translate(269.77 406.3) rotate(-89.95) scale(0.1)" class="tlx" text-anchor="end">As04G05521</text>
<text transform="translate(275.08 406.3) rotate(-89.95) scale(0.1)" class="tlx" text-anchor="end">As05G00186</text>
<text transform="translate(280.38 406.3) rotate(-89.95) scale(0.1)" class="tlx" text-anchor="end">As05G00899</text>
<text transform="translate(285.69 406.3) rotate(-89.95) scale(0.1)" class="tlx" text-anchor="end">As05G01238</text>
<text transform="translate(290.99 406.3) rotate(-89.95) scale(0.1)" class="tlx" text-anchor="end">As05G01551</text>
<text transform="translate(296.30 406.3) rotate(-89.95) scale(0.1)" class="tlx" text-anchor="end">As05G04537</text>
<text transform="translate(301.60 406.3) rotate(-89.95) scale(0.1)" class="tlx" text-anchor="end">As05G06847</text>
<text transform="translate(306.91 406.3) rotate(-89.95) scale(0.1)" class="tlx" text-anchor="end">As05G08950</text>
<text transform="translate(312.21 406.3) rotate(-89.95) scale(0.1)" class="tlx" text-anchor="end">As05G08989</text>
<text transform="translate(317.52 406.3) rotate(-89.95) scale(0.1)" class="tlx" text-anchor="end">As05G09456</text>
<text transform="translate(322.82 406.3) rotate(-89.95) scale(0.1)" class="tlx" text-anchor="end">As05G09462</text>
<text transform="translate(328.13 406.3) rotate(-89.95) scale(0.1)" class="tlx" text-anchor="end">As05G09550</text>
<text transform="translate(333.43 406.3) rotate(-89.95) scale(0.1)" class="tlx" text-anchor="end">As05G09707</text>
<text transform="translate(338.74 406.3) rotate(-89.95) scale(0.1)" class="tlx" text-anchor="end">As06G00484</text>
<text transform="translate(344.04 406.3) rotate(-89.95) scale(0.1)" class="tlx" text-anchor="end">As06G01110</text>
<text transform="translate(349.35 406.3) rotate(-89.95) scale(0.1)" class="tlx" text-anchor="end">As07G00649</text>
<text transform="translate(354.65 406.3) rotate(-89.95) scale(0.1)" class="tlx" text-anchor="end">As07G02861</text>
<text transform="translate(359.96 406.3) rotate(-89.95) scale(0.1)" class="tlx" text-anchor="end">As07G03448</text>
<text transform="translate(365.26 406.3) rotate(-89.95) scale(0.1)" class="tlx" text-anchor="end">As07G03890</text>
<text transform="translate(370.57 406.3) rotate(-89.95) scale(0.1)" class="tlx" text-anchor="end">As07G04759</text>
<text transform="translate(375.87 406.3) rotate(-89.95) scale(0.1)" class="tlx" text-anchor="end">As07G04817</text>
<text transform="translate(381.18 406.3) rotate(-89.95) scale(0.1)" class="tlx" text-anchor="end">As07G04973</text>
<text transform="translate(386.48 406.3) rotate(-89.95) scale(0.1)" class="tlx" text-anchor="end">As07G05475</text>
<text transform="translate(391.79 406.3) rotate(-89.95) scale(0.1)" class="tlx" text-anchor="end">As07G05881</text>
<text transform="translate(397.09 406.3) rotate(-89.95) scale(0.1)" class="tlx" text-anchor="end">As08G00326</text>
<text transform="translate(402.40 406.3) rotate(-89.95) scale(0.1)" class="tlx" text-anchor="end">As08G00463</text>
<text transform="translate(407.70 406.3) rotate(-89.95) scale(0.1)" class="tlx" text-anchor="end">As08G00592</text>
<text transform="translate(413.01 406.3) rotate(-89.95) scale(0.1)" class="tlx" text-anchor="end">As08G00914</text>
<text transform="translate(418.31 406.3) rotate(-89.95) scale(0.1)" class="tlx" text-anchor="end">As08G01546</text>
<text transform="translate(423.62 406.3) rotate(-89.95) scale(0.1)" class="tlx" text-anchor="end">As08G02587</text>
<text transform="translate(428.92 406.3) rotate(-89.95) scale(0.1)" class="tlx" text-anchor="end">As08G03136</text>
<text transform="translate(434.23 406.3) rotate(-89.95) scale(0.1)" class="tlx" text-anchor="end">As08G03158</text>
<text transform="translate(439.53 406.3) rotate(-89.95) scale(0.1)" class="tlx" text-anchor="end">As08G03506</text>
<text transform="translate(444.84 406.3) rotate(-89.95) scale(0.1)" class="tlx" text-anchor="end">As08G04769</text>
<text transform="translate(450.14 406.3) rotate(-89.95) scale(0.1)" class="tlx" text-anchor="end">As09G00175</text>
<text transform="translate(455.45 406.3) rotate(-89.95) scale(0.1)" class="tlx" text-anchor="end">As09G02187</text>
<text transform="translate(460.75 406.3) rotate(-89.95) scale(0.1)" class="tlx" text-anchor="end">As09G03571</text>
<text transform="translate(466.06 406.3) rotate(-89.95) scale(0.1)" class="tlx" text-anchor="end">As09G04899</text>
<text transform="translate(471.36 406.3) rotate(-89.95) scale(0.1)" class="tlx" text-anchor="end">As09G05949</text>
<text transform="translate(476.67 406.3) rotate(-89.95) scale(0.1)" class="tlx" text-anchor="end">As10G03913</text>
<text transform="translate(481.97 406.3) rotate(-89.95) scale(0.1)" class="tlx" text-anchor="end">As10G04073</text>
<text transform="translate(487.28 406.3) rotate(-89.95) scale(0.1)" class="tlx" text-anchor="end">As10G04627</text>
<text transform="translate(492.58 406.3) rotate(-89.95) scale(0.1)" class="tlx" text-anchor="end">As10G05417</text>
<text transform="translate(497.89 406.3) rotate(-89.95) scale(0.1)" class="tlx" text-anchor="end">As11G00439</text>
<text transform="translate(503.19 406.3) rotate(-89.95) scale(0.1)" class="tlx" text-anchor="end">As11G03233</text>
<text transform="translate(508.50 406.3) rotate(-89.95) scale(0.1)" class="tlx" text-anchor="end">As11G03786</text>
<text transform="translate(513.80 406.3) rotate(-89.95) scale(0.1)" class="tlx" text-anchor="end">As11G04463</text>
<text transform="translate(519.11 406.3) rotate(-89.95) scale(0.1)" class="tlx" text-anchor="end">As11G05240</text>
<text transform="translate(88.3 174.6) scale(0.1)" class="tlc">spearman's r</text>
<line x1="88.5" y1="179.3" x2="94" y2="179.3" stroke="#f0a060" stroke-width="0.9"/>
<text transform="translate(96 180.6) scale(0.1)" class="tlc">&gt;= 0.5</text>
<text transform="translate(88.3 192.8) scale(0.1)" class="tlc">spearman's p</text>
<line x1="88.5" y1="197.9" x2="94" y2="197.9" stroke="#777" stroke-width="1.2"/>
<text transform="translate(96 199.2) scale(0.1)" class="tlc">&lt; 0.01</text>
<line x1="88.5" y1="203.8" x2="94" y2="203.8" stroke="#888" stroke-width="0.7"/>
<text transform="translate(96 205.1) scale(0.1)" class="tlc">0.01 - 0.05</text>
<line x1="88.5" y1="209.4" x2="94" y2="209.4" stroke="#aaa" stroke-width="0.4"/>
<text transform="translate(96 210.7) scale(0.1)" class="tlc">&gt;= 0.05</text>
<text transform="translate(88.3 223.1) scale(0.1)" class="tlc">spearman's r</text>
<defs><linearGradient id="gr" x1="0" y1="0" x2="0" y2="1"><stop offset="0" stop-color="#0d3f7a"/><stop offset="0.25" stop-color="#4a8cc3"/><stop offset="0.45" stop-color="#e4eef6"/><stop offset="0.55" stop-color="#fbe0d4"/><stop offset="0.75" stop-color="#d8614f"/><stop offset="1" stop-color="#870f28"/></linearGradient></defs>
<rect x="88.3" y="224.6" width="5.8" height="29.2" fill="url(#gr)"/>
<text transform="translate(96 227.3) scale(0.1)" class="tlc">0.6</text>
<text transform="translate(96 234.3) scale(0.1)" class="tlc">0.6</text>
<text transform="translate(96 241.3) scale(0.1)" class="tlc">0.3</text>
<text transform="translate(96 248.3) scale(0.1)" class="tlc">0.0</text>
</svg>
<svg class="pb" width="685" height="421" viewBox="0 440 685 421">
<text x="2.3" y="524.8" class="lab">(b)</text>
<rect x="21.50" y="592.8" width="95.64" height="9.3" fill="#194a73"/>
<rect x="117.14" y="592.8" width="95.64" height="9.3" fill="#14b4f2"/>
<text x="214.9" y="600.8" class="t8">Root</text>
<rect x="21.50" y="604.40" width="32.18" height="7.13" fill="#7FAACF"/>
<rect x="53.38" y="604.40" width="32.18" height="7.13" fill="#8EB4D6"/>
<rect x="85.26" y="604.40" width="32.18" height="7.13" fill="#9CBFDC"/>
<rect x="117.14" y="604.40" width="32.18" height="7.13" fill="#CF5346"/>
<rect x="149.02" y="604.40" width="63.76" height="7.13" fill="#D6604D"/>
<rect x="21.50" y="611.23" width="32.18" height="7.13" fill="#B6CEE3"/>
<rect x="53.38" y="611.23" width="32.18" height="7.13" fill="#6FA3CD"/>
<rect x="85.26" y="611.23" width="32.18" height="7.13" fill="#78A9D0"/>
<rect x="117.14" y="611.23" width="32.18" height="7.13" fill="#DE6F5A"/>
<rect x="149.02" y="611.23" width="63.76" height="7.13" fill="#D15A48"/>
<rect x="21.50" y="618.06" width="32.18" height="7.13" fill="#B1CBE2"/>
<rect x="53.38" y="618.06" width="32.18" height="7.13" fill="#6194C2"/>
<rect x="85.26" y="618.06" width="32.18" height="7.13" fill="#A4C3DE"/>
<rect x="117.14" y="618.06" width="32.18" height="7.13" fill="#EC9479"/>
<rect x="149.02" y="618.06" width="63.76" height="7.13" fill="#CB4F42"/>
<rect x="21.50" y="624.89" width="32.18" height="7.13" fill="#9CBEDC"/>
<rect x="53.38" y="624.89" width="32.18" height="7.13" fill="#E47E69"/>
<rect x="85.26" y="624.89" width="32.18" height="7.13" fill="#305F9C"/>
<rect x="117.14" y="624.89" width="32.18" height="7.13" fill="#F0A28A"/>
<rect x="149.02" y="624.89" width="63.76" height="7.13" fill="#E27A64"/>
<rect x="21.50" y="631.72" width="32.18" height="7.13" fill="#4D7DB1"/>
<rect x="53.38" y="631.72" width="32.18" height="7.13" fill="#B5CEE3"/>
<rect x="85.26" y="631.72" width="32.18" height="7.13" fill="#D3E2EF"/>
<rect x="117.14" y="631.72" width="32.18" height="7.13" fill="#C94D42"/>
<rect x="149.02" y="631.72" width="63.76" height="7.13" fill="#E1765F"/>
<rect x="21.50" y="638.55" width="32.18" height="7.13" fill="#24538F"/>
<rect x="53.38" y="638.55" width="32.18" height="7.13" fill="#FCEEEB"/>
<rect x="85.26" y="638.55" width="32.18" height="7.13" fill="#DCE7F1"/>
<rect x="117.14" y="638.55" width="32.18" height="7.13" fill="#CB4F42"/>
<rect x="149.02" y="638.55" width="63.76" height="7.13" fill="#E98A73"/>
<rect x="21.50" y="645.38" width="32.18" height="7.13" fill="#A2C2DE"/>
<rect x="53.38" y="645.38" width="32.18" height="7.13" fill="#F8CABF"/>
<rect x="85.26" y="645.38" width="32.18" height="7.13" fill="#305F9C"/>
<rect x="117.14" y="645.38" width="32.18" height="7.13" fill="#D15A48"/>
<rect x="149.02" y="645.38" width="63.76" height="7.13" fill="#E6826B"/>
<rect x="21.50" y="652.21" width="32.18" height="7.13" fill="#1F4B86"/>
<rect x="53.38" y="652.21" width="32.18" height="7.13" fill="#F8CFC4"/>
<rect x="85.26" y="652.21" width="32.18" height="7.13" fill="#E4EDF5"/>
<rect x="117.14" y="652.21" width="32.18" height="7.13" fill="#E8876F"/>
<rect x="149.02" y="652.21" width="63.76" height="7.13" fill="#E1755F"/>
<rect x="21.50" y="659.04" width="32.18" height="7.13" fill="#1F4B86"/>
<rect x="53.38" y="659.04" width="32.18" height="7.13" fill="#FBEBE6"/>
<rect x="85.26" y="659.04" width="32.18" height="7.13" fill="#FFFFFF"/>
<rect x="117.14" y="659.04" width="32.18" height="7.13" fill="#EA8E76"/>
<rect x="149.02" y="659.04" width="63.76" height="7.13" fill="#E1755F"/>
<rect x="21.50" y="665.87" width="32.18" height="7.13" fill="#24528E"/>
<rect x="53.38" y="665.87" width="32.18" height="7.13" fill="#C6D9EA"/>
<rect x="85.26" y="665.87" width="32.18" height="7.13" fill="#EE9D86"/>
<rect x="117.14" y="665.87" width="32.18" height="7.13" fill="#DD6D58"/>
<rect x="149.02" y="665.87" width="63.76" height="7.13" fill="#E8866F"/>
<rect x="21.50" y="672.70" width="32.18" height="7.13" fill="#E4EDF5"/>
<rect x="53.38" y="672.70" width="32.18" height="7.13" fill="#FCEEEA"/>
<rect x="85.26" y="672.70" width="32.18" height="7.13" fill="#3F6FA8"/>
<rect x="117.14" y="672.70" width="32.18" height="7.13" fill="#951C2C"/>
<rect x="149.02" y="672.70" width="63.76" height="7.13" fill="#FAD9CE"/>
<rect x="21.50" y="679.53" width="32.18" height="7.13" fill="#123F78"/>
<rect x="53.38" y="679.53" width="32.18" height="7.13" fill="#EB937C"/>
<rect x="85.26" y="679.53" width="32.18" height="7.13" fill="#EAF0F6"/>
<rect x="117.14" y="679.53" width="32.18" height="7.13" fill="#F0A48C"/>
<rect x="149.02" y="679.53" width="63.76" height="7.13" fill="#E8866F"/>
<rect x="21.50" y="686.36" width="32.18" height="7.13" fill="#103E78"/>
<rect x="53.38" y="686.36" width="32.18" height="7.13" fill="#E27A64"/>
<rect x="85.26" y="686.36" width="32.18" height="7.13" fill="#FAD7CB"/>
<rect x="117.14" y="686.36" width="32.18" height="7.13" fill="#EB917A"/>
<rect x="149.02" y="686.36" width="63.76" height="7.13" fill="#F3B19D"/>
<rect x="21.50" y="693.19" width="32.18" height="7.13" fill="#DBE6F1"/>
<rect x="53.38" y="693.19" width="32.18" height="7.13" fill="#FDEFEC"/>
<rect x="85.26" y="693.19" width="32.18" height="7.13" fill="#4B7DB2"/>
<rect x="117.14" y="693.19" width="32.18" height="7.13" fill="#8A1029"/>
<rect x="149.02" y="693.19" width="63.76" height="7.13" fill="#F9DDD3"/>
<rect x="21.50" y="700.02" width="32.18" height="7.13" fill="#0E3B73"/>
<rect x="53.38" y="700.02" width="32.18" height="7.13" fill="#EC9881"/>
<rect x="85.26" y="700.02" width="32.18" height="7.13" fill="#F3B5A2"/>
<rect x="117.14" y="700.02" width="32.18" height="7.13" fill="#F2AF99"/>
<rect x="149.02" y="700.02" width="63.76" height="7.13" fill="#EE9E86"/>
<rect x="21.50" y="706.85" width="32.18" height="7.13" fill="#4F7FB2"/>
<rect x="53.38" y="706.85" width="32.18" height="7.13" fill="#BE443D"/>
<rect x="85.26" y="706.85" width="32.18" height="7.13" fill="#CCDDEC"/>
<rect x="117.14" y="706.85" width="32.18" height="7.13" fill="#CB4E43"/>
<rect x="149.02" y="706.85" width="63.76" height="7.13" fill="#F1F5F9"/>
<rect x="21.50" y="713.68" width="32.18" height="7.13" fill="#96BBDA"/>
<rect x="53.38" y="713.68" width="32.18" height="7.13" fill="#E8856E"/>
<rect x="85.26" y="713.68" width="32.18" height="7.13" fill="#6293C3"/>
<rect x="117.14" y="713.68" width="32.18" height="7.13" fill="#9A1F2E"/>
<rect x="149.02" y="713.68" width="63.76" height="7.13" fill="#FDEEEA"/>
<rect x="21.50" y="720.51" width="32.18" height="7.13" fill="#84AFD4"/>
<rect x="53.38" y="720.51" width="32.18" height="7.13" fill="#D9614F"/>
<rect x="85.26" y="720.51" width="32.18" height="7.13" fill="#6C9DCA"/>
<rect x="117.14" y="720.51" width="32.18" height="7.13" fill="#A52A32"/>
<rect x="149.02" y="720.51" width="63.76" height="7.13" fill="#FDEFEB"/>
<rect x="21.50" y="727.34" width="32.18" height="7.13" fill="#235089"/>
<rect x="53.38" y="727.34" width="32.18" height="7.13" fill="#D35C4A"/>
<rect x="85.26" y="727.34" width="32.18" height="7.13" fill="#FCE4DD"/>
<rect x="117.14" y="727.34" width="32.18" height="7.13" fill="#D7634F"/>
<rect x="149.02" y="727.34" width="63.76" height="7.13" fill="#FDECE6"/>
<rect x="21.50" y="734.17" width="32.18" height="7.13" fill="#29568F"/>
<rect x="53.38" y="734.17" width="32.18" height="7.13" fill="#C84B41"/>
<rect x="85.26" y="734.17" width="32.18" height="7.13" fill="#FEFEFE"/>
<rect x="117.14" y="734.17" width="32.18" height="7.13" fill="#E47D67"/>
<rect x="149.02" y="734.17" width="63.76" height="7.13" fill="#FCEAE4"/>
<rect x="21.50" y="741.00" width="32.18" height="7.13" fill="#B9D0E5"/>
<rect x="53.38" y="741.00" width="32.18" height="7.13" fill="#C64A40"/>
<rect x="85.26" y="741.00" width="32.18" height="7.13" fill="#4C7DB2"/>
<rect x="117.14" y="741.00" width="32.18" height="7.13" fill="#BF443D"/>
<rect x="149.02" y="741.00" width="63.76" height="7.13" fill="#FEFBFA"/>
<rect x="21.50" y="747.83" width="32.18" height="7.13" fill="#A4272F"/>
<rect x="53.38" y="747.83" width="32.18" height="7.13" fill="#C1D5E8"/>
<rect x="85.26" y="747.83" width="32.18" height="7.13" fill="#4A7AB0"/>
<rect x="117.14" y="747.83" width="32.18" height="7.13" fill="#DC6954"/>
<rect x="149.02" y="747.83" width="63.76" height="7.13" fill="#FDF1ED"/>
<rect x="21.50" y="754.66" width="32.18" height="7.13" fill="#A2252E"/>
<rect x="53.38" y="754.66" width="32.18" height="7.13" fill="#C3D7E9"/>
<rect x="85.26" y="754.66" width="32.18" height="7.13" fill="#4878AF"/>
<rect x="117.14" y="754.66" width="32.18" height="7.13" fill="#EC937C"/>
<rect x="149.02" y="754.66" width="63.76" height="7.13" fill="#FDEDE8"/>
<rect x="21.50" y="761.49" width="32.18" height="7.13" fill="#A2252E"/>
<rect x="53.38" y="761.49" width="32.18" height="7.13" fill="#4B7BB1"/>
<rect x="85.26" y="761.49" width="32.18" height="7.13" fill="#A5C4DF"/>
<rect x="117.14" y="761.49" width="32.18" height="7.13" fill="#FBDDD3"/>
<rect x="149.02" y="761.49" width="63.76" height="7.13" fill="#F7C3B5"/>
<rect x="21.50" y="768.32" width="32.18" height="7.13" fill="#3F6FA8"/>
<rect x="53.38" y="768.32" width="32.18" height="7.13" fill="#D05848"/>
<rect x="85.26" y="768.32" width="32.18" height="7.13" fill="#FCE3DC"/>
<rect x="117.14" y="768.32" width="32.18" height="7.13" fill="#B43B38"/>
<rect x="149.02" y="768.32" width="63.76" height="7.13" fill="#DCE7F2"/>
<rect x="21.50" y="775.15" width="32.18" height="7.13" fill="#8CB5D8"/>
<rect x="53.38" y="775.15" width="32.18" height="7.13" fill="#C0453E"/>
<rect x="85.26" y="775.15" width="32.18" height="7.13" fill="#E9F0F7"/>
<rect x="117.14" y="775.15" width="32.18" height="7.13" fill="#B43B38"/>
<rect x="149.02" y="775.15" width="63.76" height="7.13" fill="#BBD2E7"/>
<rect x="21.50" y="781.98" width="32.18" height="7.13" fill="#C84B41"/>
<rect x="53.38" y="781.98" width="32.18" height="7.13" fill="#D35C4A"/>
<rect x="85.26" y="781.98" width="32.18" height="7.13" fill="#2E5B96"/>
<rect x="117.14" y="781.98" width="32.18" height="7.13" fill="#FCE0D7"/>
<rect x="149.02" y="781.98" width="63.76" height="7.13" fill="#F8FAFC"/>
<rect x="21.50" y="788.81" width="32.18" height="7.13" fill="#DF6D58"/>
<rect x="53.38" y="788.81" width="32.18" height="7.13" fill="#B83F3A"/>
<rect x="85.26" y="788.81" width="32.18" height="7.13" fill="#4F7EB3"/>
<rect x="117.14" y="788.81" width="32.18" height="7.13" fill="#F6BBAA"/>
<rect x="149.02" y="788.81" width="63.76" height="7.13" fill="#C6D9EA"/>
<rect x="21.50" y="795.64" width="32.18" height="7.13" fill="#9E2230"/>
<rect x="53.38" y="795.64" width="32.18" height="7.13" fill="#EA8D75"/>
<rect x="85.26" y="795.64" width="32.18" height="7.13" fill="#F9D2C7"/>
<rect x="117.14" y="795.64" width="32.18" height="7.13" fill="#DFE9F3"/>
<rect x="149.02" y="795.64" width="63.76" height="7.13" fill="#79AAD2"/>
<rect x="21.50" y="802.47" width="32.18" height="7.13" fill="#9B1F2E"/>
<rect x="53.38" y="802.47" width="32.18" height="7.13" fill="#E5EDF5"/>
<rect x="85.26" y="802.47" width="32.18" height="7.13" fill="#F0A48E"/>
<rect x="117.14" y="802.47" width="32.18" height="7.13" fill="#F5BAA9"/>
<rect x="149.02" y="802.47" width="63.76" height="7.13" fill="#7AAAD2"/>
<rect x="21.50" y="809.30" width="32.18" height="7.13" fill="#6A9ACA"/>
<rect x="53.38" y="809.30" width="32.18" height="7.13" fill="#9A1C2D"/>
<rect x="85.26" y="809.30" width="32.18" height="7.13" fill="#F8C7BA"/>
<rect x="117.14" y="809.30" width="32.18" height="7.13" fill="#EB917A"/>
<rect x="149.02" y="809.30" width="63.76" height="7.13" fill="#B6CFE4"/>
<rect x="21.50" y="816.13" width="32.18" height="7.13" fill="#FCE5DF"/>
<rect x="53.38" y="816.13" width="32.18" height="7.13" fill="#8A0E27"/>
<rect x="85.26" y="816.13" width="32.18" height="7.13" fill="#FCE2DA"/>
<rect x="117.14" y="816.13" width="32.18" height="7.13" fill="#F9D4C8"/>
<rect x="149.02" y="816.13" width="63.76" height="7.13" fill="#83AFD4"/>
<rect x="21.50" y="822.96" width="32.18" height="7.13" fill="#F5B8A7"/>
<rect x="53.38" y="822.96" width="32.18" height="7.13" fill="#FCE9E4"/>
<rect x="85.26" y="822.96" width="32.18" height="7.13" fill="#7F0A24"/>
<rect x="117.14" y="822.96" width="32.18" height="7.13" fill="#6F9FCB"/>
<rect x="149.02" y="822.96" width="63.76" height="7.13" fill="#BED4E8"/>
<rect x="21.50" y="829.79" width="32.18" height="7.13" fill="#A8C6DF"/>
<rect x="53.38" y="829.79" width="32.18" height="7.13" fill="#A3262F"/>
<rect x="85.26" y="829.79" width="32.18" height="7.13" fill="#D9634F"/>
<rect x="117.14" y="829.79" width="32.18" height="7.13" fill="#FCE3DC"/>
<rect x="149.02" y="829.79" width="63.76" height="7.13" fill="#8FB6D8"/>
<rect x="214.9" y="604.4" width="19.2" height="232.4" fill="none" stroke="#555" stroke-width="0.6"/>
<rect x="220.80" y="606.16" width="12.39" height="3.3" fill="#000"/>
<rect x="220.80" y="613.00" width="10.82" height="3.3" fill="#000"/>
<rect x="220.80" y="619.82" width="7.06" height="3.3" fill="#000"/>
<rect x="220.80" y="626.65" width="6.03" height="3.3" fill="#000"/>
<rect x="220.80" y="633.49" width="4.46" height="3.3" fill="#000"/>
<rect x="220.80" y="640.31" width="4.46" height="3.3" fill="#000"/>
<rect x="220.80" y="647.14" width="4.46" height="3.3" fill="#000"/>
<rect x="220.80" y="653.98" width="3.91" height="3.3" fill="#000"/>
<rect x="220.80" y="660.80" width="3.44" height="3.3" fill="#000"/>
<rect x="220.80" y="667.63" width="3.21" height="3.3" fill="#000"/>
<rect x="220.80" y="674.46" width="3.06" height="3.3" fill="#000"/>
<rect x="220.80" y="681.29" width="2.66" height="3.3" fill="#000"/>
<rect x="220.80" y="688.12" width="2.45" height="3.3" fill="#000"/>
<rect x="220.80" y="694.95" width="2.40" height="3.3" fill="#000"/>
<rect x="220.80" y="701.78" width="2.19" height="3.3" fill="#000"/>
<rect x="220.80" y="708.62" width="2.19" height="3.3" fill="#000"/>
<rect x="220.80" y="715.44" width="2.15" height="3.3" fill="#000"/>
<rect x="220.80" y="722.27" width="2.11" height="3.3" fill="#000"/>
<rect x="220.80" y="729.10" width="1.76" height="3.3" fill="#000"/>
<rect x="220.80" y="735.93" width="1.58" height="3.3" fill="#000"/>
<rect x="220.80" y="742.76" width="1.17" height="3.3" fill="#000"/>
<rect x="220.80" y="749.59" width="1.07" height="3.3" fill="#000"/>
<rect x="220.80" y="756.42" width="0.97" height="3.3" fill="#000"/>
<rect x="220.80" y="763.25" width="0.60" height="3.3" fill="#000"/>
<rect x="220.80" y="770.08" width="0.60" height="3.3" fill="#000"/>
<rect x="220.20" y="776.91" width="0.60" height="3.3" fill="#000"/>
<rect x="220.20" y="783.75" width="0.60" height="3.3" fill="#000"/>
<rect x="219.66" y="790.57" width="1.14" height="3.3" fill="#000"/>
<rect x="219.20" y="797.40" width="1.60" height="3.3" fill="#000"/>
<rect x="219.15" y="804.24" width="1.65" height="3.3" fill="#000"/>
<rect x="219.00" y="811.06" width="1.80" height="3.3" fill="#000"/>
<rect x="218.57" y="817.89" width="2.23" height="3.3" fill="#000"/>
<rect x="216.78" y="824.73" width="4.02" height="3.3" fill="#000"/>
<rect x="215.51" y="831.55" width="5.29" height="3.3" fill="#000"/>
<line x1="215.8" y1="837.2" x2="215.8" y2="839" stroke="#555" stroke-width="0.5"/>
<line x1="219.6" y1="837.2" x2="219.6" y2="839" stroke="#555" stroke-width="0.5"/>
<line x1="224.3" y1="837.2" x2="224.3" y2="839" stroke="#555" stroke-width="0.5"/>
<line x1="228.9" y1="837.2" x2="228.9" y2="839" stroke="#555" stroke-width="0.5"/>
<line x1="233.6" y1="837.2" x2="233.6" y2="839" stroke="#555" stroke-width="0.5"/>
<text transform="translate(209.7 855.8) scale(1 1.12)" class="t8">Log2FC</text>
<text x="236.3" y="610.30" class="gl">As08G00463</text>
<text x="236.3" y="617.15" class="gl">As03G01283</text>
<text x="236.3" y="624.01" class="gl">As05G01551</text>
<text x="236.3" y="630.87" class="gl">As07G05881</text>
<text x="236.3" y="637.72" class="gl">As07G04759</text>
<text x="236.3" y="644.57" class="gl">As01G02800</text>
<text x="236.3" y="651.43" class="gl">As05G00899</text>
<text x="236.3" y="658.28" class="gl">As03G04676</text>
<text x="236.3" y="665.14" class="gl">As03G05166</text>
<text x="236.3" y="672.00" class="gl">As05G00186</text>
<text x="236.3" y="678.85" class="gl">As05G09456</text>
<text x="236.3" y="685.70" class="gl">As03G05937</text>
<text x="236.3" y="692.56" class="gl">As07G03890</text>
<text x="236.3" y="699.41" class="gl">As10G04627</text>
<text x="236.3" y="706.27" class="gl">As01G02652</text>
<text x="236.3" y="713.12" class="gl">As09G05949</text>
<text x="236.3" y="719.98" class="gl">As04G00521</text>
<text x="236.3" y="726.83" class="gl">As11G04463</text>
<text x="236.3" y="733.69" class="gl">As03G06274</text>
<text x="236.3" y="740.54" class="gl">As02G01477</text>
<text x="236.3" y="747.40" class="gl">As11G05240</text>
<text x="236.3" y="754.25" class="gl">As07G05475</text>
<text x="236.3" y="761.11" class="gl">As07G04973</text>
<text x="236.3" y="767.96" class="gl">As08G00914</text>
<text x="236.3" y="774.82" class="gl">As05G08989</text>
<text x="236.3" y="781.67" class="gl">As05G09707</text>
<text x="236.3" y="788.53" class="gl">As08G04769</text>
<text x="236.3" y="795.38" class="gl">As11G03786</text>
<text x="236.3" y="802.24" class="gl">As04G02698</text>
<text x="236.3" y="809.10" class="gl">As01G05398</text>
<text x="236.3" y="815.95" class="gl">As01G04696</text>
<text x="236.3" y="822.80" class="gl">As01G00258</text>
<text x="236.3" y="829.66" class="gl">As05G08950</text>
<text x="236.3" y="836.51" class="gl">As11G00439</text>
<text transform="translate(216.90 841.2) rotate(-90) scale(0.1)" style="font-size:36px;fill:#222" text-anchor="end">−1</text>
<text transform="translate(220.70 841.2) rotate(-90) scale(0.1)" style="font-size:36px;fill:#222" text-anchor="end">0</text>
<text transform="translate(225.40 841.2) rotate(-90) scale(0.1)" style="font-size:36px;fill:#222" text-anchor="end">1</text>
<text transform="translate(230.00 841.2) rotate(-90) scale(0.1)" style="font-size:36px;fill:#222" text-anchor="end">2</text>
<text transform="translate(234.70 841.2) rotate(-90) scale(0.1)" style="font-size:36px;fill:#222" text-anchor="end">3</text>
<defs><linearGradient id="gb" x1="0" y1="0" x2="0" y2="1"><stop offset="0" stop-color="#7a0822"/><stop offset="0.25" stop-color="#d35d4b"/><stop offset="0.5" stop-color="#f8f8f8"/><stop offset="0.75" stop-color="#5b92c6"/><stop offset="1" stop-color="#0b3674"/></linearGradient></defs>
<rect x="289.6" y="700" width="8.3" height="41.6" fill="url(#gb)"/>
<path d="M289.6 702.3h1.4M296.5 702.3h1.4" stroke="#fff" stroke-width="0.5"/>
<path d="M289.6 711.6h1.4M296.5 711.6h1.4" stroke="#fff" stroke-width="0.5"/>
<path d="M289.6 720.8h1.4M296.5 720.8h1.4" stroke="#fff" stroke-width="0.5"/>
<path d="M289.6 730.8h1.4M296.5 730.8h1.4" stroke="#fff" stroke-width="0.5"/>
<path d="M289.6 739.8h1.4M296.5 739.8h1.4" stroke="#fff" stroke-width="0.5"/>
<text x="299.6" y="704.5" class="t6">2</text>
<text x="299.6" y="714.2" class="t6">1</text>
<text x="299.6" y="723.5" class="t6">0</text>
<text x="299.6" y="732.7" class="t6">−1</text>
<text x="299.6" y="741.6" class="t6">−2</text>
<text x="311.9" y="705.5" class="t6b">Root</text>
<rect x="311.7" y="709.5" width="7" height="6.8" fill="#194a73"/>
<rect x="311.7" y="717.5" width="7" height="6.8" fill="#14b4f2"/>
<text x="321" y="715.5" class="t6">NG</text>
<text x="321" y="723.4" class="t6">EF</text>
<text x="344.6" y="525.2" class="lab">(c)</text>
<path d="M404.8 600.5V815.6H679.5" stroke="#555" stroke-width="1.15" fill="none"/>
<line x1="402.3" y1="610.25" x2="404.8" y2="610.25" stroke="#555" stroke-width="0.9"/>
<text x="400.8" y="613.75" class="tc" text-anchor="end">3</text>
<line x1="402.3" y1="655.90" x2="404.8" y2="655.90" stroke="#555" stroke-width="0.9"/>
<text x="400.8" y="659.40" class="tc" text-anchor="end">2</text>
<line x1="402.3" y1="701.55" x2="404.8" y2="701.55" stroke="#555" stroke-width="0.9"/>
<text x="400.8" y="705.05" class="tc" text-anchor="end">1</text>
<line x1="402.3" y1="747.20" x2="404.8" y2="747.20" stroke="#555" stroke-width="0.9"/>
<text x="400.8" y="750.70" class="tc" text-anchor="end">0</text>
<line x1="402.3" y1="792.85" x2="404.8" y2="792.85" stroke="#555" stroke-width="0.9"/>
<text x="400.8" y="796.35" class="tc" text-anchor="end">−1</text>
<line x1="409.60" y1="815.6" x2="409.60" y2="818.2" stroke="#555" stroke-width="0.9"/>
<text x="409.60" y="827.1" class="tc" text-anchor="middle">0</text>
<line x1="485.30" y1="815.6" x2="485.30" y2="818.2" stroke="#555" stroke-width="0.9"/>
<text x="485.30" y="827.1" class="tc" text-anchor="middle">10</text>
<line x1="561.00" y1="815.6" x2="561.00" y2="818.2" stroke="#555" stroke-width="0.9"/>
<text x="561.00" y="827.1" class="tc" text-anchor="middle">20</text>
<line x1="636.70" y1="815.6" x2="636.70" y2="818.2" stroke="#555" stroke-width="0.9"/>
<text x="636.70" y="827.1" class="tc" text-anchor="middle">30</text>
<text x="541.9" y="838.5" class="tc" text-anchor="middle">rank</text>
<text transform="translate(387.8 708.4) rotate(-90)" class="tc" text-anchor="middle">logFC</text>
<circle cx="417.17" cy="610.25" r="2.3" fill="#bebebe"/>
<circle cx="424.74" cy="627.60" r="2.3" fill="#bebebe"/>
<circle cx="432.31" cy="669.14" r="2.3" fill="#bebebe"/>
<circle cx="439.88" cy="680.55" r="2.3" fill="#bebebe"/>
<circle cx="447.45" cy="697.90" r="2.3" fill="#bebebe"/>
<circle cx="455.02" cy="697.90" r="2.3" fill="#bebebe"/>
<circle cx="462.59" cy="697.90" r="2.3" fill="#bebebe"/>
<circle cx="470.16" cy="704.02" r="2.3" fill="#bebebe"/>
<circle cx="477.73" cy="709.13" r="2.3" fill="#bebebe"/>
<circle cx="485.30" cy="711.73" r="2.3" fill="#bebebe"/>
<circle cx="492.87" cy="713.42" r="2.3" fill="#bebebe"/>
<circle cx="500.44" cy="717.80" r="2.3" fill="#bebebe"/>
<circle cx="508.01" cy="720.13" r="2.3" fill="#bebebe"/>
<circle cx="515.58" cy="720.72" r="2.3" fill="#bebebe"/>
<circle cx="523.15" cy="723.01" r="2.3" fill="#bebebe"/>
<circle cx="530.72" cy="723.01" r="2.3" fill="#bebebe"/>
<circle cx="538.29" cy="723.46" r="2.3" fill="#bebebe"/>
<circle cx="545.86" cy="723.92" r="2.3" fill="#bebebe"/>
<circle cx="553.43" cy="727.80" r="2.3" fill="#bebebe"/>
<circle cx="561.00" cy="729.72" r="2.3" fill="#bebebe"/>
<circle cx="568.57" cy="734.28" r="2.3" fill="#bebebe"/>
<circle cx="576.14" cy="735.33" r="2.3" fill="#bebebe"/>
<circle cx="583.71" cy="736.52" r="2.3" fill="#bebebe"/>
<circle cx="591.28" cy="741.49" r="2.3" fill="#bebebe"/>
<circle cx="598.85" cy="741.81" r="2.3" fill="#bebebe"/>
<circle cx="606.42" cy="748.57" r="2.3" fill="#bebebe"/>
<circle cx="613.99" cy="753.13" r="2.3" fill="#bebebe"/>
<circle cx="621.56" cy="759.80" r="2.3" fill="#bebebe"/>
<circle cx="629.13" cy="764.87" r="2.3" fill="#bebebe"/>
<circle cx="636.70" cy="765.46" r="2.3" fill="#bebebe"/>
<circle cx="644.27" cy="767.10" r="2.3" fill="#bebebe"/>
<circle cx="651.84" cy="771.85" r="2.3" fill="#bebebe"/>
<circle cx="659.41" cy="791.62" r="2.3" fill="#bebebe"/>
<circle cx="666.98" cy="805.63" r="2.3" fill="#bebebe"/>
<text x="420.4" y="614.3" class="t9b">As08G00463</text>
</svg>
</body></html>
